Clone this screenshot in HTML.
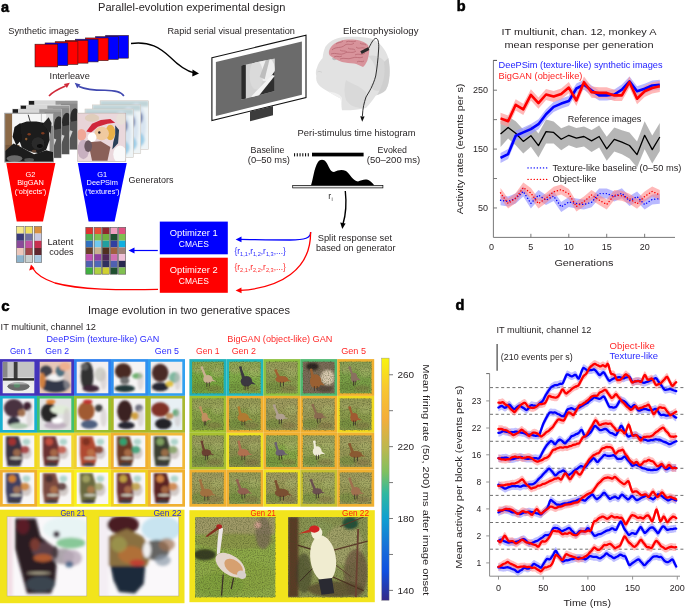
<!DOCTYPE html>
<html><head><meta charset="utf-8"><style>
html,body{margin:0;padding:0;background:#fff;width:685px;height:608px;overflow:hidden}
svg{display:block;will-change:transform;font-family:"Liberation Sans", sans-serif}
</style></head><body>
<svg width="685" height="608" viewBox="0 0 685 608">
<defs><filter id="grain" x="0" y="0" width="100%" height="100%" color-interpolation-filters="sRGB"><feTurbulence type="fractalNoise" baseFrequency="0.85" numOctaves="1" seed="4"/><feColorMatrix type="matrix" values="0 0 0 0 0.25  0 0 0 0 0.28  0 0 0 0 0.12  1.3 0 0 0 -0.55"/></filter><clipPath id="c1"><rect x="28.60" y="100.80" width="49.00" height="49.00"/></clipPath><filter id="b7" x="-50%" y="-50%" width="200%" height="200%"><feGaussianBlur stdDeviation="0.7"/></filter><clipPath id="c2"><rect x="20.40" y="105.30" width="49.00" height="49.00"/></clipPath><clipPath id="c3"><rect x="12.30" y="109.00" width="49.00" height="49.00"/></clipPath><clipPath id="c4"><rect x="4.80" y="113.30" width="48.70" height="48.70"/></clipPath><filter id="b6" x="-50%" y="-50%" width="200%" height="200%"><feGaussianBlur stdDeviation="0.6"/></filter><clipPath id="c5"><rect x="100.10" y="100.80" width="48.40" height="48.50"/></clipPath><filter id="b10" x="-50%" y="-50%" width="200%" height="200%"><feGaussianBlur stdDeviation="1.0"/></filter><clipPath id="c6"><rect x="92.40" y="104.90" width="48.40" height="48.50"/></clipPath><clipPath id="c7"><rect x="85.00" y="109.00" width="48.40" height="48.50"/></clipPath><clipPath id="c8"><rect x="77.60" y="113.10" width="48.20" height="48.50"/></clipPath><clipPath id="c9"><polygon points="241.10,65.40 274.80,58.60 274.80,91.10 241.10,99.70"/></clipPath><clipPath id="c10"><rect x="2.70" y="361.80" width="31.60" height="31.40"/></clipPath><clipPath id="c11"><rect x="192.10" y="361.80" width="31.56" height="31.40"/></clipPath><filter id="b9" x="-50%" y="-50%" width="200%" height="200%"><feGaussianBlur stdDeviation="0.9"/></filter><clipPath id="c12"><rect x="192.10" y="361.80" width="31.56" height="31.40"/></clipPath><filter id="b4" x="-50%" y="-50%" width="200%" height="200%"><feGaussianBlur stdDeviation="0.45"/></filter><clipPath id="c13"><rect x="39.70" y="361.80" width="31.60" height="31.40"/></clipPath><filter id="b8" x="-50%" y="-50%" width="200%" height="200%"><feGaussianBlur stdDeviation="0.8"/></filter><clipPath id="c14"><rect x="229.06" y="361.80" width="31.56" height="31.40"/></clipPath><clipPath id="c15"><rect x="229.06" y="361.80" width="31.56" height="31.40"/></clipPath><clipPath id="c16"><rect x="76.70" y="361.80" width="31.60" height="31.40"/></clipPath><clipPath id="c17"><rect x="266.02" y="361.80" width="31.56" height="31.40"/></clipPath><clipPath id="c18"><rect x="266.02" y="361.80" width="31.56" height="31.40"/></clipPath><clipPath id="c19"><rect x="113.70" y="361.80" width="31.60" height="31.40"/></clipPath><clipPath id="c20"><rect x="302.98" y="361.80" width="31.56" height="31.40"/></clipPath><clipPath id="c21"><rect x="302.98" y="361.80" width="31.56" height="31.40"/></clipPath><clipPath id="c22"><rect x="150.70" y="361.80" width="31.60" height="31.40"/></clipPath><clipPath id="c23"><rect x="339.94" y="361.80" width="31.56" height="31.40"/></clipPath><clipPath id="c24"><rect x="339.94" y="361.80" width="31.56" height="31.40"/></clipPath><clipPath id="c25"><rect x="2.70" y="398.60" width="31.60" height="31.50"/></clipPath><clipPath id="c26"><rect x="192.10" y="398.60" width="31.56" height="31.50"/></clipPath><clipPath id="c27"><rect x="192.10" y="398.60" width="31.56" height="31.50"/></clipPath><clipPath id="c28"><rect x="39.70" y="398.60" width="31.60" height="31.50"/></clipPath><clipPath id="c29"><rect x="229.06" y="398.60" width="31.56" height="31.50"/></clipPath><clipPath id="c30"><rect x="229.06" y="398.60" width="31.56" height="31.50"/></clipPath><clipPath id="c31"><rect x="76.70" y="398.60" width="31.60" height="31.50"/></clipPath><clipPath id="c32"><rect x="266.02" y="398.60" width="31.56" height="31.50"/></clipPath><clipPath id="c33"><rect x="266.02" y="398.60" width="31.56" height="31.50"/></clipPath><clipPath id="c34"><rect x="113.70" y="398.60" width="31.60" height="31.50"/></clipPath><clipPath id="c35"><rect x="302.98" y="398.60" width="31.56" height="31.50"/></clipPath><clipPath id="c36"><rect x="302.98" y="398.60" width="31.56" height="31.50"/></clipPath><clipPath id="c37"><rect x="150.70" y="398.60" width="31.60" height="31.50"/></clipPath><clipPath id="c38"><rect x="339.94" y="398.60" width="31.56" height="31.50"/></clipPath><clipPath id="c39"><rect x="339.94" y="398.60" width="31.56" height="31.50"/></clipPath><clipPath id="c40"><rect x="2.70" y="435.50" width="31.60" height="31.50"/></clipPath><clipPath id="c41"><rect x="192.10" y="435.50" width="31.56" height="31.50"/></clipPath><clipPath id="c42"><rect x="192.10" y="435.50" width="31.56" height="31.50"/></clipPath><clipPath id="c43"><rect x="39.70" y="435.50" width="31.60" height="31.50"/></clipPath><clipPath id="c44"><rect x="229.06" y="435.50" width="31.56" height="31.50"/></clipPath><clipPath id="c45"><rect x="229.06" y="435.50" width="31.56" height="31.50"/></clipPath><clipPath id="c46"><rect x="76.70" y="435.50" width="31.60" height="31.50"/></clipPath><clipPath id="c47"><rect x="266.02" y="435.50" width="31.56" height="31.50"/></clipPath><clipPath id="c48"><rect x="266.02" y="435.50" width="31.56" height="31.50"/></clipPath><clipPath id="c49"><rect x="113.70" y="435.50" width="31.60" height="31.50"/></clipPath><clipPath id="c50"><rect x="302.98" y="435.50" width="31.56" height="31.50"/></clipPath><clipPath id="c51"><rect x="302.98" y="435.50" width="31.56" height="31.50"/></clipPath><clipPath id="c52"><rect x="150.70" y="435.50" width="31.60" height="31.50"/></clipPath><clipPath id="c53"><rect x="339.94" y="435.50" width="31.56" height="31.50"/></clipPath><clipPath id="c54"><rect x="339.94" y="435.50" width="31.56" height="31.50"/></clipPath><clipPath id="c55"><rect x="2.70" y="472.40" width="31.60" height="31.60"/></clipPath><clipPath id="c56"><rect x="192.10" y="472.40" width="31.56" height="31.60"/></clipPath><clipPath id="c57"><rect x="192.10" y="472.40" width="31.56" height="31.60"/></clipPath><clipPath id="c58"><rect x="39.70" y="472.40" width="31.60" height="31.60"/></clipPath><clipPath id="c59"><rect x="229.06" y="472.40" width="31.56" height="31.60"/></clipPath><clipPath id="c60"><rect x="229.06" y="472.40" width="31.56" height="31.60"/></clipPath><clipPath id="c61"><rect x="76.70" y="472.40" width="31.60" height="31.60"/></clipPath><clipPath id="c62"><rect x="266.02" y="472.40" width="31.56" height="31.60"/></clipPath><clipPath id="c63"><rect x="266.02" y="472.40" width="31.56" height="31.60"/></clipPath><clipPath id="c64"><rect x="113.70" y="472.40" width="31.60" height="31.60"/></clipPath><clipPath id="c65"><rect x="302.98" y="472.40" width="31.56" height="31.60"/></clipPath><clipPath id="c66"><rect x="302.98" y="472.40" width="31.56" height="31.60"/></clipPath><clipPath id="c67"><rect x="150.70" y="472.40" width="31.60" height="31.60"/></clipPath><clipPath id="c68"><rect x="339.94" y="472.40" width="31.56" height="31.60"/></clipPath><clipPath id="c69"><rect x="339.94" y="472.40" width="31.56" height="31.60"/></clipPath><clipPath id="c70"><rect x="7.10" y="516.80" width="79.70" height="79.20"/></clipPath><filter id="b14" x="-50%" y="-50%" width="200%" height="200%"><feGaussianBlur stdDeviation="1.4"/></filter><clipPath id="c71"><rect x="99.10" y="516.80" width="79.70" height="79.20"/></clipPath><clipPath id="c72"><rect x="195.10" y="517.00" width="80.20" height="80.20"/></clipPath><filter id="b12" x="-50%" y="-50%" width="200%" height="200%"><feGaussianBlur stdDeviation="1.2"/></filter><clipPath id="c73"><rect x="195.10" y="517.00" width="80.20" height="80.20"/></clipPath><clipPath id="c74"><rect x="288.10" y="517.00" width="79.60" height="80.20"/></clipPath><filter id="b13" x="-50%" y="-50%" width="200%" height="200%"><feGaussianBlur stdDeviation="1.3"/></filter><clipPath id="c75"><rect x="288.10" y="517.00" width="79.60" height="80.20"/></clipPath><linearGradient id="cb" x1="0" y1="0" x2="0" y2="1"><stop offset="0" stop-color="#f8f40c"/><stop offset="0.12" stop-color="#f8c830"/><stop offset="0.25" stop-color="#f4ae3a"/><stop offset="0.38" stop-color="#b8b850"/><stop offset="0.47" stop-color="#80c060"/><stop offset="0.56" stop-color="#30b8a0"/><stop offset="0.66" stop-color="#10a0d0"/><stop offset="0.78" stop-color="#1870d8"/><stop offset="0.88" stop-color="#1050e0"/><stop offset="1" stop-color="#352a87"/></linearGradient></defs>
<text x="1.00" y="12.00" font-size="14.5" fill="#000" font-weight="bold" stroke="#000" stroke-width="0.55">a</text>
<text x="98.00" y="11.20" font-size="10.3" fill="#231f20" textLength="187.40" lengthAdjust="spacingAndGlyphs" >Parallel-evolution experimental design</text>
<text x="8.20" y="34.00" font-size="8.4" fill="#231f20" textLength="70.70" lengthAdjust="spacingAndGlyphs" >Synthetic images</text>
<rect x="105.70" y="35.45" width="22.70" height="22.70" fill="#0000ff" stroke="#3a1a1a" stroke-width="0.6" />
<rect x="95.60" y="36.70" width="22.70" height="22.70" fill="#0000ff" stroke="#3a1a1a" stroke-width="0.6" />
<rect x="85.50" y="37.95" width="22.70" height="22.70" fill="#ff0000" stroke="#3a1a1a" stroke-width="0.6" />
<rect x="75.40" y="39.20" width="22.70" height="22.70" fill="#0000ff" stroke="#3a1a1a" stroke-width="0.6" />
<rect x="65.30" y="40.45" width="22.70" height="22.70" fill="#ff0000" stroke="#3a1a1a" stroke-width="0.6" />
<rect x="55.20" y="41.70" width="22.70" height="22.70" fill="#ff0000" stroke="#3a1a1a" stroke-width="0.6" />
<rect x="45.10" y="42.95" width="22.70" height="22.70" fill="#0000ff" stroke="#3a1a1a" stroke-width="0.6" />
<rect x="35.00" y="44.20" width="22.70" height="22.70" fill="#ff0000" stroke="#3a1a1a" stroke-width="0.6" />
<text x="49.60" y="79.40" font-size="9" fill="#231f20" textLength="40.20" lengthAdjust="spacingAndGlyphs" >Interleave</text>
<path d="M49,96 C52,92.5 56,90 65.5,86" fill="none" stroke="#d02838" stroke-width="1.6"/>
<polygon points="69.80,82.80 66.92,88.11 63.90,84.12" fill="#d02838" stroke="none" stroke-width="0" />
<path d="M123.9,96 C121,91.5 115,90.5 105,90.3 C95,90.2 86,89.6 79,86.4" fill="none" stroke="#4048b0" stroke-width="1.6"/>
<polygon points="74.70,82.80 80.50,84.50 77.23,88.29" fill="#4048b0" stroke="none" stroke-width="0" />
<path d="M131,43.5 C150,41 160,48 170,57 C180,67 186,71 194,72.8" fill="none" stroke="#000" stroke-width="1.3"/>
<polygon points="199.00,73.60 192.50,69.60 192.30,76.40" fill="#000" stroke="none" stroke-width="0" />
<g clip-path="url(#c1)"><rect x="26.60" y="98.80" width="53.00" height="53.00" fill="#f0f0f0"/><g filter="url(#b7)"><rect x="28.60" y="100.80" width="5.88" height="3.92" fill="#1a1a1a" fill-opacity="1"/><rect x="34.48" y="100.80" width="24.50" height="3.92" fill="#d8d8d8" fill-opacity="1"/><rect x="55.55" y="100.80" width="24.50" height="3.92" fill="#9a9a9a" fill-opacity="1"/><rect x="60.94" y="103.74" width="19.60" height="49.00" fill="#8a8a8a" fill-opacity="1"/><ellipse cx="75.15" cy="117.95" rx="4.90" ry="9.80" fill="#2a2a2a" fill-opacity="1"/><polygon points="58.00,149.80 65.35,122.85 77.60,120.40 77.60,149.80" fill="#555555" fill-opacity="1"/><polygon points="62.90,147.35 70.25,130.20 72.70,131.18 65.84,148.33" fill="#d0d0d0" fill-opacity="1"/></g></g>
<rect x="28.60" y="100.80" width="49.00" height="49.00" fill="none" stroke="#c8c8c8" stroke-width="0.4" />
<g clip-path="url(#c2)"><rect x="18.40" y="103.30" width="53.00" height="53.00" fill="#f0f0f0"/><g filter="url(#b7)"><rect x="20.40" y="105.30" width="5.88" height="3.92" fill="#1a1a1a" fill-opacity="1"/><rect x="26.28" y="105.30" width="24.50" height="3.92" fill="#d8d8d8" fill-opacity="1"/><rect x="47.35" y="105.30" width="24.50" height="3.92" fill="#9a9a9a" fill-opacity="1"/><rect x="52.74" y="108.24" width="19.60" height="49.00" fill="#8a8a8a" fill-opacity="1"/><ellipse cx="66.95" cy="122.45" rx="4.90" ry="9.80" fill="#2a2a2a" fill-opacity="1"/><polygon points="49.80,154.30 57.15,127.35 69.40,124.90 69.40,154.30" fill="#555555" fill-opacity="1"/><polygon points="54.70,151.85 62.05,134.70 64.50,135.68 57.64,152.83" fill="#d0d0d0" fill-opacity="1"/></g></g>
<rect x="20.40" y="105.30" width="49.00" height="49.00" fill="none" stroke="#c8c8c8" stroke-width="0.4" />
<g clip-path="url(#c3)"><rect x="10.30" y="107.00" width="53.00" height="53.00" fill="#f0f0f0"/><g filter="url(#b7)"><rect x="12.30" y="109.00" width="5.88" height="3.92" fill="#1a1a1a" fill-opacity="1"/><rect x="18.18" y="109.00" width="24.50" height="3.92" fill="#d8d8d8" fill-opacity="1"/><rect x="39.25" y="109.00" width="24.50" height="3.92" fill="#9a9a9a" fill-opacity="1"/><rect x="44.64" y="111.94" width="19.60" height="49.00" fill="#8a8a8a" fill-opacity="1"/><ellipse cx="58.85" cy="126.15" rx="4.90" ry="9.80" fill="#2a2a2a" fill-opacity="1"/><polygon points="41.70,158.00 49.05,131.05 61.30,128.60 61.30,158.00" fill="#555555" fill-opacity="1"/><polygon points="46.60,155.55 53.95,138.40 56.40,139.38 49.54,156.53" fill="#d0d0d0" fill-opacity="1"/></g></g>
<rect x="12.30" y="109.00" width="49.00" height="49.00" fill="none" stroke="#c8c8c8" stroke-width="0.4" />
<g clip-path="url(#c4)"><rect x="2.80" y="111.30" width="52.70" height="52.70" fill="#f6f6f6"/><g filter="url(#b6)"><rect x="4.80" y="113.30" width="7.30" height="36.53" fill="#8c6a46" fill-opacity="1"/><rect x="4.80" y="144.96" width="14.61" height="9.74" fill="#7a5a3e" fill-opacity="1"/><rect x="49.60" y="125.47" width="3.90" height="31.66" fill="#8a8a8a" fill-opacity="1"/><rect x="46.20" y="113.30" width="7.30" height="12.18" fill="#dcdcdc" fill-opacity="1"/><line x1="28.18" y1="114.76" x2="30.61" y2="123.04" stroke="#3a3a3a" stroke-width="1.0"/><line x1="41.33" y1="113.30" x2="41.33" y2="121.58" stroke="#c0c0c0" stroke-width="1.0"/><polygon points="19.41,124.01 26.72,121.58 36.46,121.58 44.73,123.04 48.63,127.91 49.60,140.09 46.20,149.82 38.89,153.23 29.15,151.29 21.84,147.39 18.44,137.65" fill="#1a1a1a" fill-opacity="1"/><polygon points="20.38,123.04 14.54,126.94 12.59,136.68 16.49,145.44 21.36,140.09" fill="#141414" fill-opacity="1"/><polygon points="42.79,124.01 48.63,117.20 51.55,123.04 50.58,133.75" fill="#222" fill-opacity="1"/><polygon points="4.80,151.29 13.57,143.49 21.84,147.39 34.02,154.21 46.20,150.31 53.50,152.26 53.50,162.00 4.80,162.00" fill="#1e1e1e" fill-opacity="1"/><ellipse cx="14.54" cy="158.59" rx="7.79" ry="3.41" fill="#6a6a6a" fill-opacity="1"/><ellipse cx="29.15" cy="160.05" rx="4.87" ry="1.95" fill="#555" fill-opacity="1"/><ellipse cx="37.92" cy="143.49" rx="6.33" ry="6.33" fill="#2c2c2c" fill-opacity="1"/><ellipse cx="39.86" cy="145.93" rx="2.92" ry="1.95" fill="#0a0a0a" fill-opacity="1"/><ellipse cx="29.15" cy="134.24" rx="1.70" ry="1.22" fill="#7a3a20" fill-opacity="1"/><ellipse cx="42.79" cy="133.27" rx="1.70" ry="1.22" fill="#7a3a20" fill-opacity="1"/><ellipse cx="26.23" cy="139.11" rx="1.22" ry="1.46" fill="#8a5a30" fill-opacity="1"/><ellipse cx="34.02" cy="151.29" rx="2.44" ry="1.46" fill="#5a4030" fill-opacity="1"/></g></g>
<rect x="4.80" y="113.30" width="48.70" height="48.70" fill="none" stroke="#999" stroke-width="1.0" />
<g clip-path="url(#c5)"><rect x="98.10" y="98.80" width="52.40" height="52.50" fill="#eef4f6"/><g filter="url(#b10)"><rect x="100.10" y="100.80" width="48.40" height="5.82" fill="#c0d4d8" fill-opacity="1"/><ellipse cx="136.40" cy="125.05" rx="9.68" ry="21.82" fill="#d8e4f0" fill-opacity="1"/><ellipse cx="139.79" cy="117.77" rx="2.90" ry="5.82" fill="#6a78a8" fill-opacity="1"/><ellipse cx="133.98" cy="139.60" rx="10.65" ry="8.73" fill="#9ccce6" fill-opacity="1"/></g></g>
<rect x="100.10" y="100.80" width="48.40" height="48.50" fill="none" stroke="#c8c0b8" stroke-width="0.5" />
<g clip-path="url(#c6)"><rect x="90.40" y="102.90" width="52.40" height="52.50" fill="#eef4f6"/><g filter="url(#b10)"><rect x="92.40" y="104.90" width="48.40" height="5.82" fill="#c0d4d8" fill-opacity="1"/><ellipse cx="128.70" cy="129.15" rx="9.68" ry="21.82" fill="#d8e4f0" fill-opacity="1"/><ellipse cx="132.09" cy="121.88" rx="2.90" ry="5.82" fill="#6a78a8" fill-opacity="1"/><ellipse cx="126.28" cy="143.70" rx="10.65" ry="8.73" fill="#9ccce6" fill-opacity="1"/></g></g>
<rect x="92.40" y="104.90" width="48.40" height="48.50" fill="none" stroke="#c8c0b8" stroke-width="0.5" />
<g clip-path="url(#c7)"><rect x="83.00" y="107.00" width="52.40" height="52.50" fill="#eef4f6"/><g filter="url(#b10)"><rect x="85.00" y="109.00" width="48.40" height="5.82" fill="#c0d4d8" fill-opacity="1"/><ellipse cx="121.30" cy="133.25" rx="9.68" ry="21.82" fill="#d8e4f0" fill-opacity="1"/><ellipse cx="124.69" cy="125.97" rx="2.90" ry="5.82" fill="#6a78a8" fill-opacity="1"/><ellipse cx="118.88" cy="147.80" rx="10.65" ry="8.73" fill="#9ccce6" fill-opacity="1"/></g></g>
<rect x="85.00" y="109.00" width="48.40" height="48.50" fill="none" stroke="#c8c0b8" stroke-width="0.5" />
<g clip-path="url(#c8)"><rect x="75.60" y="111.10" width="52.20" height="52.50" fill="#ead8dc"/><g filter="url(#b7)"><ellipse cx="84.83" cy="122.80" rx="14.46" ry="12.12" fill="#e8d4d8" fill-opacity="1"/><ellipse cx="81.46" cy="134.92" rx="4.82" ry="5.82" fill="#f0a898" fill-opacity="1"/><ellipse cx="83.38" cy="149.47" rx="5.78" ry="9.70" fill="#c8b0c0" fill-opacity="1"/><ellipse cx="92.06" cy="117.95" rx="7.23" ry="3.88" fill="#d8c8a8" fill-opacity="0.6"/><polygon points="86.28,131.53 92.06,123.77 100.74,119.89 110.38,118.92 115.20,122.80 107.48,123.77 97.84,126.68 91.10,132.50" fill="#d0283a" fill-opacity="1"/><ellipse cx="110.38" cy="132.50" rx="4.82" ry="7.76" fill="#e8b048" fill-opacity="1"/><ellipse cx="101.70" cy="133.47" rx="7.23" ry="6.79" fill="#f0caa0" fill-opacity="1"/><ellipse cx="99.29" cy="132.50" rx="1.21" ry="1.21" fill="#2a2020" fill-opacity="1"/><ellipse cx="92.06" cy="137.35" rx="4.34" ry="4.85" fill="#ffffff" fill-opacity="1"/><polygon points="115.20,125.22 119.05,130.07 118.09,143.17 112.30,149.47 113.27,142.20 115.20,134.92" fill="#2a4058" fill-opacity="1"/><polygon points="88.20,142.20 100.74,141.23 110.38,147.05 107.48,160.63 92.06,160.63" fill="#8a6058" fill-opacity="1"/><ellipse cx="88.20" cy="146.08" rx="3.86" ry="5.82" fill="#6a5860" fill-opacity="1"/><ellipse cx="120.02" cy="154.32" rx="6.75" ry="8.73" fill="#fafafa" fill-opacity="1"/><ellipse cx="120.98" cy="118.92" rx="4.82" ry="5.82" fill="#e8e0d8" fill-opacity="1"/></g></g>
<rect x="77.60" y="113.10" width="48.20" height="48.50" fill="none" stroke="#b0a8a0" stroke-width="0.5" />
<polygon points="6.30,163.00 55.40,163.00 43.00,221.40 16.70,221.40" fill="#ff0000" stroke="none" stroke-width="0" />
<polygon points="77.80,163.00 126.80,163.00 114.60,221.40 88.60,221.40" fill="#0000ff" stroke="none" stroke-width="0" />
<text x="30.50" y="176.60" font-size="7.4" fill="#ffffff" text-anchor="middle" >G2</text>
<text x="30.50" y="185.20" font-size="7.4" fill="#ffffff" text-anchor="middle" >BigGAN</text>
<text x="30.50" y="193.80" font-size="7.4" fill="#ffffff" text-anchor="middle" >(‘objects’)</text>
<text x="102.20" y="176.60" font-size="7.4" fill="#ffffff" text-anchor="middle" >G1</text>
<text x="102.20" y="185.20" font-size="7.4" fill="#ffffff" text-anchor="middle" >DeePSim</text>
<text x="102.20" y="193.80" font-size="7.4" fill="#ffffff" text-anchor="middle" >(‘textures’)</text>
<text x="128.60" y="182.60" font-size="8.8" fill="#231f20" textLength="44.80" lengthAdjust="spacingAndGlyphs" >Generators</text>
<rect x="16.50" y="226.40" width="7.50" height="7.20" fill="#f5e98a" stroke="none" stroke-width="0" />
<rect x="16.50" y="233.60" width="7.50" height="7.20" fill="#3b3b7a" stroke="none" stroke-width="0" />
<rect x="16.50" y="240.80" width="7.50" height="7.20" fill="#8a4a9a" stroke="none" stroke-width="0" />
<rect x="16.50" y="248.00" width="7.50" height="7.20" fill="#ecc8bc" stroke="none" stroke-width="0" />
<rect x="16.50" y="255.20" width="7.50" height="7.20" fill="#8fb4cc" stroke="none" stroke-width="0" />
<rect x="16.50" y="226.40" width="7.50" height="36.00" fill="none" stroke="#6a6a6a" stroke-width="0.6" />
<rect x="25.20" y="226.40" width="7.50" height="7.20" fill="#f0e060" stroke="none" stroke-width="0" />
<rect x="25.20" y="233.60" width="7.50" height="7.20" fill="#7070a0" stroke="none" stroke-width="0" />
<rect x="25.20" y="240.80" width="7.50" height="7.20" fill="#c050a0" stroke="none" stroke-width="0" />
<rect x="25.20" y="248.00" width="7.50" height="7.20" fill="#a04848" stroke="none" stroke-width="0" />
<rect x="25.20" y="255.20" width="7.50" height="7.20" fill="#c8d0d0" stroke="none" stroke-width="0" />
<rect x="25.20" y="226.40" width="7.50" height="36.00" fill="none" stroke="#6a6a6a" stroke-width="0.6" />
<rect x="34.20" y="226.40" width="7.50" height="7.20" fill="#d89040" stroke="none" stroke-width="0" />
<rect x="34.20" y="233.60" width="7.50" height="7.20" fill="#c8c8e0" stroke="none" stroke-width="0" />
<rect x="34.20" y="240.80" width="7.50" height="7.20" fill="#c83050" stroke="none" stroke-width="0" />
<rect x="34.20" y="248.00" width="7.50" height="7.20" fill="#602830" stroke="none" stroke-width="0" />
<rect x="34.20" y="255.20" width="7.50" height="7.20" fill="#a8c8e0" stroke="none" stroke-width="0" />
<rect x="34.20" y="226.40" width="7.50" height="36.00" fill="none" stroke="#6a6a6a" stroke-width="0.6" />
<rect x="85.80" y="227.30" width="7.10" height="6.70" fill="#e03030" stroke="none" stroke-width="0" />
<rect x="85.80" y="234.00" width="7.10" height="6.70" fill="#50b050" stroke="none" stroke-width="0" />
<rect x="85.80" y="240.70" width="7.10" height="6.70" fill="#3070c0" stroke="none" stroke-width="0" />
<rect x="85.80" y="247.40" width="7.10" height="6.70" fill="#6a4028" stroke="none" stroke-width="0" />
<rect x="85.80" y="254.10" width="7.10" height="6.70" fill="#c050b0" stroke="none" stroke-width="0" />
<rect x="85.80" y="260.80" width="7.10" height="6.70" fill="#5060b0" stroke="none" stroke-width="0" />
<rect x="85.80" y="267.50" width="7.10" height="6.70" fill="#40b040" stroke="none" stroke-width="0" />
<rect x="85.80" y="227.30" width="7.10" height="46.90" fill="none" stroke="#5a5a5a" stroke-width="0.6" />
<rect x="94.20" y="227.30" width="7.10" height="6.70" fill="#e85038" stroke="none" stroke-width="0" />
<rect x="94.20" y="234.00" width="7.10" height="6.70" fill="#80c050" stroke="none" stroke-width="0" />
<rect x="94.20" y="240.70" width="7.10" height="6.70" fill="#70c8f0" stroke="none" stroke-width="0" />
<rect x="94.20" y="247.40" width="7.10" height="6.70" fill="#c8b090" stroke="none" stroke-width="0" />
<rect x="94.20" y="254.10" width="7.10" height="6.70" fill="#9040a0" stroke="none" stroke-width="0" />
<rect x="94.20" y="260.80" width="7.10" height="6.70" fill="#5068b8" stroke="none" stroke-width="0" />
<rect x="94.20" y="267.50" width="7.10" height="6.70" fill="#b0d040" stroke="none" stroke-width="0" />
<rect x="94.20" y="227.30" width="7.10" height="46.90" fill="none" stroke="#5a5a5a" stroke-width="0.6" />
<rect x="102.20" y="227.30" width="7.10" height="6.70" fill="#902830" stroke="none" stroke-width="0" />
<rect x="102.20" y="234.00" width="7.10" height="6.70" fill="#70b040" stroke="none" stroke-width="0" />
<rect x="102.20" y="240.70" width="7.10" height="6.70" fill="#20a0a0" stroke="none" stroke-width="0" />
<rect x="102.20" y="247.40" width="7.10" height="6.70" fill="#503020" stroke="none" stroke-width="0" />
<rect x="102.20" y="254.10" width="7.10" height="6.70" fill="#502858" stroke="none" stroke-width="0" />
<rect x="102.20" y="260.80" width="7.10" height="6.70" fill="#303060" stroke="none" stroke-width="0" />
<rect x="102.20" y="267.50" width="7.10" height="6.70" fill="#d0d030" stroke="none" stroke-width="0" />
<rect x="102.20" y="227.30" width="7.10" height="46.90" fill="none" stroke="#5a5a5a" stroke-width="0.6" />
<rect x="110.40" y="227.30" width="7.10" height="6.70" fill="#f0a0c0" stroke="none" stroke-width="0" />
<rect x="110.40" y="234.00" width="7.10" height="6.70" fill="#205030" stroke="none" stroke-width="0" />
<rect x="110.40" y="240.70" width="7.10" height="6.70" fill="#3040a0" stroke="none" stroke-width="0" />
<rect x="110.40" y="247.40" width="7.10" height="6.70" fill="#a06040" stroke="none" stroke-width="0" />
<rect x="110.40" y="254.10" width="7.10" height="6.70" fill="#d070b0" stroke="none" stroke-width="0" />
<rect x="110.40" y="260.80" width="7.10" height="6.70" fill="#5060b0" stroke="none" stroke-width="0" />
<rect x="110.40" y="267.50" width="7.10" height="6.70" fill="#205030" stroke="none" stroke-width="0" />
<rect x="110.40" y="227.30" width="7.10" height="46.90" fill="none" stroke="#5a5a5a" stroke-width="0.6" />
<rect x="118.60" y="227.30" width="7.10" height="6.70" fill="#e05080" stroke="none" stroke-width="0" />
<rect x="118.60" y="234.00" width="7.10" height="6.70" fill="#80c050" stroke="none" stroke-width="0" />
<rect x="118.60" y="240.70" width="7.10" height="6.70" fill="#10b0e0" stroke="none" stroke-width="0" />
<rect x="118.60" y="247.40" width="7.10" height="6.70" fill="#a08078" stroke="none" stroke-width="0" />
<rect x="118.60" y="254.10" width="7.10" height="6.70" fill="#f0c0d8" stroke="none" stroke-width="0" />
<rect x="118.60" y="260.80" width="7.10" height="6.70" fill="#282850" stroke="none" stroke-width="0" />
<rect x="118.60" y="267.50" width="7.10" height="6.70" fill="#80c050" stroke="none" stroke-width="0" />
<rect x="118.60" y="227.30" width="7.10" height="46.90" fill="none" stroke="#5a5a5a" stroke-width="0.6" />
<text x="47.40" y="244.50" font-size="8.8" fill="#231f20" textLength="26.00" lengthAdjust="spacingAndGlyphs" >Latent</text>
<text x="49.20" y="255.00" font-size="8.8" fill="#231f20" textLength="24.50" lengthAdjust="spacingAndGlyphs" >codes</text>
<rect x="159.80" y="221.60" width="68.00" height="32.70" fill="#0000ff" stroke="none" stroke-width="0" />
<rect x="159.80" y="257.70" width="68.00" height="35.10" fill="#ff0000" stroke="none" stroke-width="0" />
<text x="193.80" y="236.30" font-size="9" fill="#ffffff" text-anchor="middle" textLength="48.00" lengthAdjust="spacingAndGlyphs" >Optimizer 1</text>
<text x="193.80" y="246.60" font-size="9" fill="#ffffff" text-anchor="middle" textLength="30.00" lengthAdjust="spacingAndGlyphs" >CMAES</text>
<text x="193.80" y="273.30" font-size="9" fill="#ffffff" text-anchor="middle" textLength="48.00" lengthAdjust="spacingAndGlyphs" >Optimizer 2</text>
<text x="193.80" y="283.60" font-size="9" fill="#ffffff" text-anchor="middle" textLength="30.00" lengthAdjust="spacingAndGlyphs" >CMAES</text>
<line x1="157.8" y1="250.5" x2="133" y2="250.5" stroke="#0000ff" stroke-width="1.2"/>
<polygon points="128.50,250.50 134.50,247.60 134.50,253.40" fill="#0000ff" stroke="none" stroke-width="0" />
<path d="M158,289.4 C120,290 80,290 55,283 C43,279 36,274 32.5,268" fill="none" stroke="#ff0000" stroke-width="1.3"/>
<polygon points="31.00,264.50 29.20,270.60 34.60,268.60" fill="#ff0000" stroke="none" stroke-width="0" />
<text x="167.50" y="34.00" font-size="8.8" fill="#231f20" textLength="127.40" lengthAdjust="spacingAndGlyphs" >Rapid serial visual presentation</text>
<polygon points="211.90,57.80 306.00,35.20 306.00,97.60 211.90,120.50" fill="#ffffff" stroke="#111" stroke-width="1.1" />
<polygon points="215.90,62.00 301.90,41.50 301.90,94.80 215.90,116.00" fill="#6b6b6b" stroke="none" stroke-width="0" />
<polygon points="250.00,111.50 273.00,106.00 273.00,115.20 250.00,121.20" fill="#3c3c3c" stroke="none" stroke-width="0" />
<g clip-path="url(#c9)"><rect x="239.10" y="56.60" width="37.70" height="45.10" fill="#d2d2d2"/><g filter="url(#b6)"><rect x="241.10" y="58.60" width="4.72" height="41.10" fill="#2a2a2a" fill-opacity="1"/><ellipse cx="265.36" cy="68.88" rx="9.44" ry="12.33" fill="#eeeeee" fill-opacity="1"/><ellipse cx="256.26" cy="75.04" rx="6.74" ry="14.38" fill="#dadada" fill-opacity="1"/><polygon points="261.32,90.66 274.80,70.93 274.80,99.70 254.58,99.70" fill="#2e2e2e" fill-opacity="1"/><polygon points="251.21,96.41 272.10,75.04 274.80,75.86 256.26,98.88" fill="#f4f4f4" fill-opacity="1"/><polygon points="259.63,77.09 266.38,58.60 269.75,58.60 264.69,79.15" fill="#bdbdbd" fill-opacity="1"/></g></g>
<text x="343.00" y="34.10" font-size="8.8" fill="#231f20" textLength="75.50" lengthAdjust="spacingAndGlyphs" >Electrophysiology</text>
<path d="M325.4,46.8 C330,40 338,37.5 345,37 C355,36.5 365,37 371,38.6 C380,42 386,50 388.3,58 C390,68 389.5,78 388,86 C385,91 380,94 375.7,95.7 C372,101 369,105 366,108 C358,110 350,110.5 342,110.3 C341.5,106 341,102 340.7,98.5 C336,96 332,94 328,91.5 C324,89 320,87 318.4,84.5 C316.5,82 315.8,79 316.3,76 C315.5,73 315.8,70 317,67.7 C318,64 320,61 322.6,58 C323,54 324,50 325.4,46.8 Z" fill="#e2e2e2"/>
<path d="M368,56 C376,54 384,58 387,66 C389,74 387,84 382,90 C376,92 372,90 370,86 C376,80 378,72 374,64 C372,60 370,58 368,56 Z" fill="#d6d6d6"/>
<path d="M346,80 C352,84 360,86 366,92 C368,98 366,104 362,108 C356,108 350,106 346,100 C344,94 344,86 346,80 Z" fill="#d9d9d9"/>
<path d="M328,91.5 C334,92 340,94 342,98 L342,110.3 C341.5,106 341,102 340.7,98.5 C336,96 332,94 328,91.5 Z" fill="#f0f0f0"/>
<ellipse cx="334.5" cy="58.6" rx="2.2" ry="1.6" fill="#bcbcbc"/>
<path d="M317.5,72 C319,71 321,71.5 322,72.5" fill="none" stroke="#c8c8c8" stroke-width="0.6"/>
<path d="M329,51 C331,45 337,41 345,39.8 C353,38.8 362,40 367,44 C370,47 369.5,52 368.5,56 C368,58.5 367.5,60 367.3,60.7 C366,63 365,65.5 363,67 C360,66 357,64 354,63.5 C350,63 346,63 342,62 C337,60 333,58 329.6,55.2 C328.8,54 328.7,52.5 329,51 Z" fill="#d8939b"/>
<path d="M332,50 C336,46 341,49 345,45 C348,43 351,46 354,43" fill="none" stroke="#b5646f" stroke-width="0.75"/>
<path d="M331,54 C336,52 340,56 345,53 C349,51 352,54 356,51" fill="none" stroke="#b5646f" stroke-width="0.75"/>
<path d="M340,59 C344,57 348,60 352,58 C356,56 359,59 363,57" fill="none" stroke="#b5646f" stroke-width="0.75"/>
<path d="M356,47 C359,50 362,46 366,49" fill="none" stroke="#b5646f" stroke-width="0.75"/>
<path d="M346,42 C349,40 352,43 356,41" fill="none" stroke="#b5646f" stroke-width="0.75"/>
<path d="M355,55 C358,53 361,56 365,53" fill="none" stroke="#b5646f" stroke-width="0.75"/>
<path d="M336,44 C338,42 341,43 343,41" fill="none" stroke="#b5646f" stroke-width="0.75"/>
<path d="M357,62 C359,60 362,63 364,61" fill="none" stroke="#b5646f" stroke-width="0.75"/>
<path d="M334,57 C337,55 339,58 342,56" fill="none" stroke="#b5646f" stroke-width="0.75"/>
<path d="M348,48 C350,50 353,48 355,50" fill="none" stroke="#b5646f" stroke-width="0.75"/>
<path d="M340,50 C342,52 345,50 347,52" fill="none" stroke="#b5646f" stroke-width="0.75"/>
<path d="M360,43 C362,45 364,43 366,45" fill="none" stroke="#b5646f" stroke-width="0.75"/>
<path d="M388.3,58 C391,70 390,82 386,90 C383,93 380,94 377,95 C383,86 386,74 384,62 Z" fill="#cfcfcf"/>
<path d="M361,52.6 L368.7,48.6" stroke="#2a2a2a" stroke-width="3" stroke-linecap="butt"/>
<path d="M368.5,48.5 C371,44 373,39 375.7,38.4 C379,38 379,46 378.5,51 C378,60 377,68 375.7,76 C373,86 369,92 366,97 C364,103 362.8,108 362.4,116" fill="none" stroke="#1a1a1a" stroke-width="0.9"/>
<polygon points="362.20,121.80 360.20,116.20 364.60,116.60" fill="#111" stroke="none" stroke-width="0" />
<text x="297.60" y="135.70" font-size="8.8" fill="#231f20" textLength="117.90" lengthAdjust="spacingAndGlyphs" >Peri-stimulus time histogram</text>
<text x="250.60" y="152.90" font-size="8.8" fill="#231f20" textLength="33.90" lengthAdjust="spacingAndGlyphs" >Baseline</text>
<text x="247.80" y="163.30" font-size="8.8" fill="#231f20" textLength="42.20" lengthAdjust="spacingAndGlyphs" >(0–50 ms)</text>
<text x="377.60" y="152.90" font-size="8.8" fill="#231f20" textLength="29.40" lengthAdjust="spacingAndGlyphs" >Evoked</text>
<text x="366.80" y="163.30" font-size="8.8" fill="#231f20" textLength="53.40" lengthAdjust="spacingAndGlyphs" >(50–200 ms)</text>
<rect x="294.00" y="153.20" width="1.10" height="3.20" fill="#111" stroke="none" stroke-width="0" />
<rect x="296.75" y="153.20" width="1.10" height="3.20" fill="#111" stroke="none" stroke-width="0" />
<rect x="299.50" y="153.20" width="1.10" height="3.20" fill="#111" stroke="none" stroke-width="0" />
<rect x="302.25" y="153.20" width="1.10" height="3.20" fill="#111" stroke="none" stroke-width="0" />
<rect x="305.00" y="153.20" width="1.10" height="3.20" fill="#111" stroke="none" stroke-width="0" />
<rect x="307.75" y="153.20" width="1.10" height="3.20" fill="#111" stroke="none" stroke-width="0" />
<rect x="312.00" y="152.70" width="51.60" height="3.70" fill="#000" stroke="none" stroke-width="0" />
<path d="M293,185.5 L311,185.3 C313,180 314,168 318,162 C320,159 324,159 326,162 C329,166 330,172 334,172 C338,170 342,169 346,171 C350,174 353,181 358,181.5 C362,180 366,178 370,181 C372,183 374,184 374,185.5 Z" fill="#000"/>
<rect x="292.70" y="185.60" width="90.20" height="2.30" fill="#e8e8e8" stroke="#000" stroke-width="0.7" />
<text x="328.20" y="199.20" font-size="8.8" fill="#333" >r</text>
<text x="331.40" y="201.20" font-size="5.5" fill="#333" >i</text>
<path d="M345.3,191 C346.5,202 346,214 343,224" fill="none" stroke="#000" stroke-width="1.4"/>
<polygon points="342.30,229.00 340.20,222.50 345.60,223.60" fill="#000" stroke="none" stroke-width="0" />
<text x="317.70" y="240.60" font-size="8.8" fill="#231f20" textLength="74.30" lengthAdjust="spacingAndGlyphs" >Split response set</text>
<text x="316.00" y="250.90" font-size="8.8" fill="#231f20" textLength="79.50" lengthAdjust="spacingAndGlyphs" >based on generator</text>
<path d="M310.6,232 C311,238 305,240 290,240 C270,240 252,239.5 240,239.4" fill="none" stroke="#0000ff" stroke-width="1.3"/>
<polygon points="235.60,239.40 241.50,236.60 241.50,242.20" fill="#0000ff" stroke="none" stroke-width="0" />
<path d="M310.6,232 C311,270 280,288 240,290.4" fill="none" stroke="#ff0000" stroke-width="1.3"/>
<polygon points="235.60,290.60 241.40,287.60 241.60,293.20" fill="#ff0000" stroke="none" stroke-width="0" />
<text x="234.5" y="254.0" font-size="8.4" fill="#2a2aff">{r<tspan font-size="5.6" dy="1.8">1,1</tspan><tspan dy="-1.8">,r</tspan><tspan font-size="5.6" dy="1.8">1,2</tspan><tspan dy="-1.8">,r</tspan><tspan font-size="5.6" dy="1.8">1,3</tspan><tspan dy="-1.8">,...}</tspan></text>
<text x="234.5" y="269.8" font-size="8.4" fill="#ff2a2a">{r<tspan font-size="5.6" dy="1.8">2,1</tspan><tspan dy="-1.8">,r</tspan><tspan font-size="5.6" dy="1.8">2,2</tspan><tspan dy="-1.8">,r</tspan><tspan font-size="5.6" dy="1.8">2,3</tspan><tspan dy="-1.8">,...}</tspan></text>
<text x="456.70" y="11.20" font-size="14.5" fill="#000" font-weight="bold" stroke="#000" stroke-width="0.55">b</text>
<text x="579.00" y="34.60" font-size="9.4" fill="#231f20" text-anchor="middle" textLength="154.90" lengthAdjust="spacingAndGlyphs" >IT multiunit, chan. 12, monkey A</text>
<text x="579.00" y="47.80" font-size="9.4" fill="#231f20" text-anchor="middle" textLength="149.10" lengthAdjust="spacingAndGlyphs" >mean response per generation</text>
<polygon points="500.53,121.00 508.12,116.50 515.71,121.20 523.29,129.40 530.88,124.70 538.46,133.60 546.04,119.60 553.63,121.40 561.22,128.30 568.80,125.30 576.38,128.10 583.97,126.50 591.55,129.90 599.14,125.50 606.73,136.80 614.31,127.40 621.89,130.20 629.48,132.50 637.07,141.60 644.65,121.30 652.24,135.60 659.82,123.00 659.82,151.00 652.24,163.60 644.65,149.30 637.07,167.60 629.48,158.50 621.89,154.20 614.31,151.40 606.73,160.80 599.14,147.50 591.55,151.90 583.97,146.50 576.38,148.10 568.80,145.30 561.22,150.30 553.63,143.40 546.04,143.60 538.46,157.60 530.88,146.70 523.29,153.40 515.71,145.20 508.12,138.50 500.53,147.00" fill="#a9a9a9" stroke="none" stroke-width="0" fill-opacity="0.85"/>
<polygon points="500.53,152.90 508.12,149.10 515.71,130.70 523.29,127.40 530.88,124.10 538.46,119.20 546.04,109.30 553.63,101.90 561.22,98.60 568.80,96.10 576.38,83.50 583.97,79.70 591.55,85.40 599.14,90.40 606.73,90.40 614.31,89.50 621.89,84.60 629.48,76.40 637.07,86.30 644.65,83.80 652.24,80.50 659.82,79.70 659.82,89.70 652.24,90.50 644.65,93.80 637.07,96.30 629.48,86.40 621.89,94.60 614.31,99.50 606.73,100.40 599.14,100.40 591.55,95.40 583.97,89.70 576.38,93.50 568.80,106.10 561.22,108.60 553.63,111.90 546.04,119.30 538.46,129.20 530.88,134.10 523.29,137.40 515.71,140.70 508.12,159.10 500.53,162.90" fill="#9a9aff" stroke="none" stroke-width="0" fill-opacity="0.7"/>
<polygon points="500.53,112.80 508.12,115.60 515.71,99.20 523.29,103.80 530.88,89.30 538.46,97.50 546.04,88.90 553.63,90.90 561.22,88.40 568.80,82.00 576.38,94.90 583.97,76.60 591.55,86.50 599.14,87.30 606.73,87.30 614.31,89.80 621.89,89.80 629.48,76.60 637.07,93.10 644.65,85.70 652.24,82.40 659.82,80.70 659.82,91.90 652.24,93.60 644.65,96.90 637.07,104.30 629.48,87.80 621.89,101.00 614.31,101.00 606.73,98.50 599.14,98.50 591.55,97.70 583.97,87.80 576.38,106.10 568.80,93.20 561.22,99.60 553.63,102.10 546.04,100.10 538.46,108.70 530.88,100.50 523.29,115.00 515.71,110.40 508.12,126.80 500.53,124.00" fill="#ff9a9a" stroke="none" stroke-width="0" fill-opacity="0.7"/>
<polyline points="500.53,134.00 508.12,127.50 515.71,133.20 523.29,141.40 530.88,135.70 538.46,145.60 546.04,131.60 553.63,132.40 561.22,139.30 568.80,135.30 576.38,138.10 583.97,136.50 591.55,140.90 599.14,136.50 606.73,148.80 614.31,139.40 621.89,142.20 629.48,145.50 637.07,154.60 644.65,135.30 652.24,149.60 659.82,137.00" fill="none" stroke="#000" stroke-width="1.3" stroke-linejoin="round"  stroke-linecap="butt"/>
<polyline points="500.53,157.90 508.12,154.10 515.71,135.70 523.29,132.40 530.88,129.10 538.46,124.20 546.04,114.30 553.63,106.90 561.22,103.60 568.80,101.10 576.38,88.50 583.97,84.70 591.55,90.40 599.14,95.40 606.73,95.40 614.31,94.50 621.89,89.60 629.48,81.40 637.07,91.30 644.65,88.80 652.24,85.50 659.82,84.70" fill="none" stroke="#0000ff" stroke-width="2.6" stroke-linejoin="round"  stroke-linecap="butt"/>
<polyline points="500.53,118.40 508.12,121.20 515.71,104.80 523.29,109.40 530.88,94.90 538.46,103.10 546.04,94.50 553.63,96.50 561.22,94.00 568.80,87.60 576.38,100.50 583.97,82.20 591.55,92.10 599.14,92.90 606.73,92.90 614.31,95.40 621.89,95.40 629.48,82.20 637.07,98.70 644.65,91.30 652.24,88.00 659.82,86.30" fill="none" stroke="#ff0000" stroke-width="2.6" stroke-linejoin="round"  stroke-linecap="butt"/>
<polygon points="500.53,195.30 508.12,196.40 515.71,193.40 523.29,186.50 530.88,198.40 538.46,190.10 546.04,195.10 553.63,191.10 561.22,201.90 568.80,197.00 576.38,198.50 583.97,199.50 591.55,197.30 599.14,188.60 606.73,188.60 614.31,191.50 621.89,188.30 629.48,195.90 637.07,191.50 644.65,199.50 652.24,194.40 659.82,193.70 659.82,203.70 652.24,204.40 644.65,209.50 637.07,201.50 629.48,205.90 621.89,198.30 614.31,201.50 606.73,198.60 599.14,198.60 591.55,207.30 583.97,209.50 576.38,208.50 568.80,207.00 561.22,211.90 553.63,201.10 546.04,205.10 538.46,200.10 530.88,208.40 523.29,196.50 515.71,203.40 508.12,206.40 500.53,205.30" fill="#8080ff" stroke="none" stroke-width="0" fill-opacity="0.55"/>
<polygon points="500.53,187.90 508.12,198.40 515.71,193.10 523.29,182.60 530.88,188.10 538.46,198.60 546.04,193.10 553.63,186.80 561.22,184.60 568.80,188.90 576.38,201.50 583.97,196.60 591.55,190.00 599.14,195.10 606.73,199.50 614.31,190.00 621.89,190.80 629.48,193.70 637.07,198.80 644.65,191.50 652.24,186.40 659.82,190.00 659.82,200.00 652.24,196.40 644.65,201.50 637.07,208.80 629.48,203.70 621.89,200.80 614.31,200.00 606.73,209.50 599.14,205.10 591.55,200.00 583.97,206.60 576.38,211.50 568.80,198.90 561.22,194.60 553.63,196.80 546.04,203.10 538.46,208.60 530.88,198.10 523.29,192.60 515.71,203.10 508.12,208.40 500.53,197.90" fill="#ff8080" stroke="none" stroke-width="0" fill-opacity="0.55"/>
<polyline points="500.53,200.30 508.12,201.40 515.71,198.40 523.29,191.50 530.88,203.40 538.46,195.10 546.04,200.10 553.63,196.10 561.22,206.90 568.80,202.00 576.38,203.50 583.97,204.50 591.55,202.30 599.14,193.60 606.73,193.60 614.31,196.50 621.89,193.30 629.48,200.90 637.07,196.50 644.65,204.50 652.24,199.40 659.82,198.70" fill="none" stroke="#0000ff" stroke-width="1.4" stroke-linejoin="round" stroke-linecap="round" stroke-dasharray="0.1 3.0"/>
<polyline points="500.53,192.90 508.12,203.40 515.71,198.10 523.29,187.60 530.88,193.10 538.46,203.60 546.04,198.10 553.63,191.80 561.22,189.60 568.80,193.90 576.38,206.50 583.97,201.60 591.55,195.00 599.14,200.10 606.73,204.50 614.31,195.00 621.89,195.80 629.48,198.70 637.07,203.80 644.65,196.50 652.24,191.40 659.82,195.00" fill="none" stroke="#ff0000" stroke-width="1.4" stroke-linejoin="round" stroke-linecap="round" stroke-dasharray="0.1 3.0"/>
<path d="M493.4,60.3 L493.4,237.4 L675,237.4" fill="none" stroke="#6a6a6a" stroke-width="0.9"/>
<line x1="493.4" y1="60.4" x2="497" y2="60.4" stroke="#333" stroke-width="0.9"/>
<line x1="493.4" y1="207.96" x2="497" y2="207.96" stroke="#6a6a6a" stroke-width="0.9"/>
<line x1="493.4" y1="178.52" x2="497" y2="178.52" stroke="#6a6a6a" stroke-width="0.9"/>
<line x1="493.4" y1="149.08" x2="497" y2="149.08" stroke="#6a6a6a" stroke-width="0.9"/>
<line x1="493.4" y1="119.64" x2="497" y2="119.64" stroke="#6a6a6a" stroke-width="0.9"/>
<line x1="493.4" y1="90.20" x2="497" y2="90.20" stroke="#6a6a6a" stroke-width="0.9"/>
<text x="488.00" y="211.16" font-size="9" fill="#231f20" text-anchor="end" >50</text>
<text x="488.00" y="152.28" font-size="9" fill="#231f20" text-anchor="end" >150</text>
<text x="488.00" y="93.40" font-size="9" fill="#231f20" text-anchor="end" >250</text>
<line x1="530.88" y1="237.4" x2="530.88" y2="233.8" stroke="#6a6a6a" stroke-width="0.9"/>
<line x1="568.80" y1="237.4" x2="568.80" y2="233.8" stroke="#6a6a6a" stroke-width="0.9"/>
<line x1="606.73" y1="237.4" x2="606.73" y2="233.8" stroke="#6a6a6a" stroke-width="0.9"/>
<line x1="644.65" y1="237.4" x2="644.65" y2="233.8" stroke="#6a6a6a" stroke-width="0.9"/>
<text x="491.45" y="249.80" font-size="9" fill="#231f20" text-anchor="middle" >0</text>
<text x="530.88" y="249.80" font-size="9" fill="#231f20" text-anchor="middle" >5</text>
<text x="568.80" y="249.80" font-size="9" fill="#231f20" text-anchor="middle" >10</text>
<text x="606.73" y="249.80" font-size="9" fill="#231f20" text-anchor="middle" >15</text>
<text x="644.65" y="249.80" font-size="9" fill="#231f20" text-anchor="middle" >20</text>
<text x="554.40" y="265.60" font-size="9.6" fill="#231f20" textLength="59.10" lengthAdjust="spacingAndGlyphs" >Generations</text>
<text x="463.20" y="214.20" font-size="9.6" fill="#231f20" textLength="130.70" lengthAdjust="spacingAndGlyphs" transform="rotate(-90 463.20 214.20)" >Activity rates (events per s)</text>
<text x="498.60" y="68.20" font-size="8.6" fill="#2222ff" textLength="164.00" lengthAdjust="spacingAndGlyphs" >DeePSim (texture-like) synthetic images</text>
<text x="498.60" y="78.80" font-size="8.6" fill="#ff2222" textLength="83.80" lengthAdjust="spacingAndGlyphs" >BigGAN (object-like)</text>
<text x="567.70" y="122.20" font-size="8.8" fill="#231f20" textLength="73.70" lengthAdjust="spacingAndGlyphs" >Reference images</text>
<polyline points="528.00,167.90 547.20,167.90" fill="none" stroke="#0000ff" stroke-width="1.4" stroke-linejoin="round" stroke-linecap="round" stroke-dasharray="0.1 3.0"/>
<polyline points="528.00,179.40 547.20,179.40" fill="none" stroke="#ff0000" stroke-width="1.4" stroke-linejoin="round" stroke-linecap="round" stroke-dasharray="0.1 3.0"/>
<text x="552.40" y="171.00" font-size="8.8" fill="#231f20" textLength="129.00" lengthAdjust="spacingAndGlyphs" >Texture-like baseline (0–50 ms)</text>
<text x="552.40" y="181.80" font-size="8.8" fill="#231f20" textLength="44.00" lengthAdjust="spacingAndGlyphs" >Object-like</text>
<text x="1.20" y="310.50" font-size="15" fill="#000" font-weight="bold" stroke="#000" stroke-width="0.55">c</text>
<text x="88.00" y="313.60" font-size="10.3" fill="#231f20" textLength="202.00" lengthAdjust="spacingAndGlyphs" >Image evolution in two generative spaces</text>
<text x="0.60" y="330.20" font-size="8.8" fill="#231f20" textLength="95.40" lengthAdjust="spacingAndGlyphs" >IT multiunit, channel 12</text>
<text x="46.60" y="342.10" font-size="8.8" fill="#2a2aff" textLength="112.80" lengthAdjust="spacingAndGlyphs" >DeePSim (texture-like) GAN</text>
<text x="10.00" y="353.60" font-size="8.8" fill="#2a2aff" textLength="22.10" lengthAdjust="spacingAndGlyphs" >Gen 1</text>
<text x="45.30" y="353.60" font-size="8.8" fill="#2a2aff" textLength="23.70" lengthAdjust="spacingAndGlyphs" >Gen 2</text>
<text x="154.80" y="353.60" font-size="8.8" fill="#2a2aff" textLength="24.20" lengthAdjust="spacingAndGlyphs" >Gen 5</text>
<text x="227.30" y="342.10" font-size="8.8" fill="#ff2a2a" textLength="105.10" lengthAdjust="spacingAndGlyphs" >BigGAN (object-like) GAN</text>
<text x="196.00" y="353.60" font-size="8.8" fill="#ff2a2a" textLength="23.50" lengthAdjust="spacingAndGlyphs" >Gen 1</text>
<text x="231.70" y="353.60" font-size="8.8" fill="#ff2a2a" textLength="24.30" lengthAdjust="spacingAndGlyphs" >Gen 2</text>
<text x="341.20" y="353.60" font-size="8.8" fill="#ff2a2a" textLength="24.80" lengthAdjust="spacingAndGlyphs" >Gen 5</text>
<rect x="0.00" y="359.10" width="37.00" height="36.80" fill="#4433bb" stroke="none" stroke-width="0" />
<g clip-path="url(#c10)"><rect x="0.70" y="359.80" width="35.60" height="35.40" fill="#eeeeee"/><g filter="url(#b7)"><rect x="2.70" y="361.80" width="31.60" height="15.70" fill="#c4c4c4" fill-opacity="1"/><rect x="2.70" y="361.80" width="4.74" height="15.70" fill="#888" fill-opacity="1"/><rect x="13.76" y="361.80" width="3.79" height="18.21" fill="#3a3a3a" fill-opacity="1"/><rect x="2.70" y="378.13" width="31.60" height="2.51" fill="#2a2a2a" fill-opacity="1"/><ellipse cx="18.50" cy="386.29" rx="11.06" ry="4.40" fill="#6a6a6a" fill-opacity="1"/><ellipse cx="16.92" cy="385.35" rx="3.16" ry="2.51" fill="#5a8a6a" fill-opacity="1"/><rect x="2.70" y="381.27" width="31.60" height="3.14" fill="#e8e8e8" fill-opacity="0.5"/></g></g>
<rect x="189.40" y="359.10" width="36.96" height="36.80" fill="#20b0b8" stroke="none" stroke-width="0" />
<g clip-path="url(#c11)"><rect x="190.10" y="359.80" width="35.56" height="35.40" fill="#78a840"/><g filter="url(#b9)"><rect x="192.10" y="361.80" width="31.56" height="9.42" fill="#a8a068" fill-opacity="0.45"/><ellipse cx="199.99" cy="386.92" rx="9.47" ry="4.71" fill="#6a8a38" fill-opacity="0.5"/><ellipse cx="217.35" cy="372.79" rx="6.31" ry="4.71" fill="#b0b870" fill-opacity="0.5"/><ellipse cx="198.41" cy="371.22" rx="4.73" ry="3.14" fill="#b0b470" fill-opacity="0.4"/><ellipse cx="214.19" cy="388.49" rx="7.89" ry="3.14" fill="#7a6040" fill-opacity="0.4"/></g></g>
<rect x="192.10" y="361.80" width="31.56" height="31.40" fill="#000" filter="url(#grain)"/>
<g clip-path="url(#c12)"><rect x="190.10" y="359.80" width="35.56" height="35.40" fill="none"/><g filter="url(#b4)"><ellipse cx="207.88" cy="379.07" rx="4.73" ry="4.08" fill="#c8b090" fill-opacity="1"/><polygon points="204.57,377.85 200.94,368.39 202.83,367.45 206.93,376.62" fill="#c8b090" fill-opacity="1"/><ellipse cx="201.88" cy="367.45" rx="1.42" ry="1.26" fill="#c8b090" fill-opacity="1"/><polygon points="210.72,378.25 216.40,381.52 210.25,381.11" fill="#c8b090" fill-opacity="1"/><rect x="206.46" y="381.93" width="0.79" height="5.02" fill="#3a3028" fill-opacity="1"/><rect x="208.83" y="381.93" width="0.79" height="4.40" fill="#3a3028" fill-opacity="1"/></g></g>
<rect x="37.00" y="359.10" width="37.00" height="36.80" fill="#4433bb" stroke="none" stroke-width="0" />
<g clip-path="url(#c13)"><rect x="37.70" y="359.80" width="35.60" height="35.40" fill="#e8c8b8"/><g filter="url(#b8)"><ellipse cx="46.02" cy="371.22" rx="6.07" ry="5.78" fill="#404048" fill-opacity="1"/><ellipse cx="55.50" cy="385.35" rx="14.41" ry="7.22" fill="#303848" fill-opacity="1"/><ellipse cx="55.50" cy="377.50" rx="8.34" ry="3.61" fill="#f4f4f4" fill-opacity="1"/><ellipse cx="42.23" cy="380.64" rx="3.03" ry="7.94" fill="#d08040" fill-opacity="1"/><ellipse cx="60.24" cy="371.22" rx="4.55" ry="5.78" fill="#507080" fill-opacity="1"/><ellipse cx="64.98" cy="366.51" rx="5.69" ry="4.33" fill="#f0b090" fill-opacity="1"/><ellipse cx="66.56" cy="380.64" rx="3.16" ry="9.42" fill="#c8c0c0" fill-opacity="0.5"/></g></g>
<rect x="226.36" y="359.10" width="36.96" height="36.80" fill="#20b8c0" stroke="none" stroke-width="0" />
<g clip-path="url(#c14)"><rect x="227.06" y="359.80" width="35.56" height="35.40" fill="#80ac48"/><g filter="url(#b9)"><rect x="229.06" y="361.80" width="31.56" height="9.42" fill="#a8a068" fill-opacity="0.45"/><ellipse cx="236.95" cy="386.92" rx="9.47" ry="4.71" fill="#6a8a38" fill-opacity="0.5"/><ellipse cx="254.31" cy="372.79" rx="6.31" ry="4.71" fill="#b0b870" fill-opacity="0.5"/><ellipse cx="235.37" cy="371.22" rx="4.73" ry="3.14" fill="#b0b470" fill-opacity="0.4"/><ellipse cx="251.15" cy="388.49" rx="7.89" ry="3.14" fill="#7a6040" fill-opacity="0.4"/></g></g>
<rect x="229.06" y="361.80" width="31.56" height="31.40" fill="#000" filter="url(#grain)"/>
<g clip-path="url(#c15)"><rect x="227.06" y="359.80" width="35.56" height="35.40" fill="none"/><g filter="url(#b4)"><ellipse cx="246.42" cy="381.27" rx="5.68" ry="5.34" fill="#3a3840" fill-opacity="1"/><polygon points="242.44,379.67 239.47,368.39 241.37,367.45 245.28,378.07" fill="#3a3840" fill-opacity="1"/><ellipse cx="240.42" cy="367.45" rx="1.42" ry="1.26" fill="#3a3840" fill-opacity="1"/><polygon points="249.83,380.20 255.89,384.47 249.26,383.94" fill="#3a3840" fill-opacity="1"/><rect x="244.71" y="385.00" width="0.79" height="5.02" fill="#3a3028" fill-opacity="1"/><rect x="247.55" y="385.00" width="0.79" height="4.40" fill="#3a3028" fill-opacity="1"/></g></g>
<rect x="74.00" y="359.10" width="37.00" height="36.80" fill="#2f7fef" stroke="none" stroke-width="0" />
<g clip-path="url(#c16)"><rect x="74.70" y="359.80" width="35.60" height="35.40" fill="#f4f0f0"/><g filter="url(#b8)"><ellipse cx="87.13" cy="375.93" rx="6.45" ry="14.44" fill="#303030" fill-opacity="1"/><ellipse cx="90.92" cy="388.49" rx="8.34" ry="3.61" fill="#402838" fill-opacity="1"/><ellipse cx="100.40" cy="374.36" rx="5.69" ry="7.22" fill="#d0d0c8" fill-opacity="1"/><ellipse cx="84.60" cy="366.51" rx="3.79" ry="3.61" fill="#606060" fill-opacity="1"/><ellipse cx="103.56" cy="380.64" rx="3.16" ry="9.42" fill="#c8c0c0" fill-opacity="0.5"/></g></g>
<rect x="263.32" y="359.10" width="36.96" height="36.80" fill="#8cc040" stroke="none" stroke-width="0" />
<g clip-path="url(#c17)"><rect x="264.02" y="359.80" width="35.56" height="35.40" fill="#8a9c50"/><g filter="url(#b9)"><rect x="266.02" y="361.80" width="31.56" height="9.42" fill="#a8a068" fill-opacity="0.45"/><ellipse cx="273.91" cy="386.92" rx="9.47" ry="4.71" fill="#6a8a38" fill-opacity="0.5"/><ellipse cx="291.27" cy="372.79" rx="6.31" ry="4.71" fill="#b0b870" fill-opacity="0.5"/><ellipse cx="272.33" cy="371.22" rx="4.73" ry="3.14" fill="#b0b470" fill-opacity="0.4"/><ellipse cx="288.11" cy="388.49" rx="7.89" ry="3.14" fill="#7a6040" fill-opacity="0.4"/></g></g>
<rect x="266.02" y="361.80" width="31.56" height="31.40" fill="#000" filter="url(#grain)"/>
<g clip-path="url(#c18)"><rect x="264.02" y="359.80" width="35.56" height="35.40" fill="none"/><g filter="url(#b4)"><ellipse cx="281.80" cy="379.38" rx="6.31" ry="3.45" fill="#a06030" fill-opacity="1"/><polygon points="277.38,378.35 274.86,371.53 276.75,370.59 280.54,377.31" fill="#a06030" fill-opacity="1"/><ellipse cx="275.80" cy="370.59" rx="1.42" ry="1.26" fill="#a06030" fill-opacity="1"/><polygon points="285.59,378.69 291.90,381.46 284.96,381.11" fill="#a06030" fill-opacity="1"/><rect x="279.91" y="381.80" width="0.79" height="5.02" fill="#3a3028" fill-opacity="1"/><rect x="283.06" y="381.80" width="0.79" height="4.40" fill="#3a3028" fill-opacity="1"/></g></g>
<rect x="111.00" y="359.10" width="37.00" height="36.80" fill="#3090f0" stroke="none" stroke-width="0" />
<g clip-path="url(#c19)"><rect x="111.70" y="359.80" width="35.60" height="35.40" fill="#f6f4f4"/><g filter="url(#b8)"><ellipse cx="123.18" cy="371.22" rx="8.34" ry="7.94" fill="#4a2a20" fill-opacity="1"/><ellipse cx="124.76" cy="388.49" rx="10.24" ry="3.61" fill="#203838" fill-opacity="1"/><ellipse cx="137.40" cy="375.93" rx="5.31" ry="2.89" fill="#70b070" fill-opacity="1"/><ellipse cx="124.76" cy="380.64" rx="4.55" ry="3.61" fill="#707070" fill-opacity="1"/><ellipse cx="140.56" cy="380.64" rx="3.16" ry="9.42" fill="#c8c0c0" fill-opacity="0.5"/></g></g>
<rect x="300.28" y="359.10" width="36.96" height="36.80" fill="#50b870" stroke="none" stroke-width="0" />
<g clip-path="url(#c20)"><rect x="300.98" y="359.80" width="35.56" height="35.40" fill="#7a6a58"/><g filter="url(#b9)"><ellipse cx="312.45" cy="366.51" rx="6.31" ry="3.77" fill="#2a2020" fill-opacity="1"/><ellipse cx="327.60" cy="377.50" rx="6.94" ry="7.85" fill="#d8c8b0" fill-opacity="1"/><ellipse cx="325.07" cy="388.49" rx="7.89" ry="3.77" fill="#5a4a40" fill-opacity="1"/></g></g>
<rect x="302.98" y="361.80" width="31.56" height="31.40" fill="#000" filter="url(#grain)"/>
<g clip-path="url(#c21)"><rect x="300.98" y="359.80" width="35.56" height="35.40" fill="none"/><g filter="url(#b4)"><ellipse cx="315.60" cy="381.27" rx="5.68" ry="6.91" fill="#9a6030" fill-opacity="1"/><polygon points="311.63,379.20 310.24,370.59 312.13,369.65 314.47,377.12" fill="#9a6030" fill-opacity="1"/><ellipse cx="311.19" cy="369.65" rx="1.42" ry="1.26" fill="#9a6030" fill-opacity="1"/><polygon points="319.01,379.89 325.07,385.41 318.44,384.72" fill="#9a6030" fill-opacity="1"/><rect x="313.90" y="386.10" width="0.79" height="5.02" fill="#3a3028" fill-opacity="1"/><rect x="316.74" y="386.10" width="0.79" height="4.40" fill="#3a3028" fill-opacity="1"/></g></g>
<rect x="148.00" y="359.10" width="37.00" height="36.80" fill="#30a0f0" stroke="none" stroke-width="0" />
<g clip-path="url(#c22)"><rect x="148.70" y="359.80" width="35.60" height="35.40" fill="#f0eeee"/><g filter="url(#b8)"><ellipse cx="160.18" cy="372.79" rx="8.34" ry="9.03" fill="#4a2a28" fill-opacity="1"/><ellipse cx="160.18" cy="386.92" rx="8.34" ry="4.33" fill="#282830" fill-opacity="1"/><ellipse cx="174.40" cy="377.50" rx="5.31" ry="5.42" fill="#80b8a0" fill-opacity="1"/><ellipse cx="169.66" cy="383.78" rx="3.79" ry="2.89" fill="#e0c040" fill-opacity="1"/><ellipse cx="177.56" cy="380.64" rx="3.16" ry="9.42" fill="#c8c0c0" fill-opacity="0.5"/></g></g>
<rect x="337.24" y="359.10" width="36.96" height="36.80" fill="#f0b030" stroke="none" stroke-width="0" />
<g clip-path="url(#c23)"><rect x="337.94" y="359.80" width="35.56" height="35.40" fill="#7aa048"/><g filter="url(#b9)"><rect x="339.94" y="361.80" width="31.56" height="9.42" fill="#a8a068" fill-opacity="0.45"/><ellipse cx="347.83" cy="386.92" rx="9.47" ry="4.71" fill="#6a8a38" fill-opacity="0.5"/><ellipse cx="365.19" cy="372.79" rx="6.31" ry="4.71" fill="#b0b870" fill-opacity="0.5"/><ellipse cx="346.25" cy="371.22" rx="4.73" ry="3.14" fill="#b0b470" fill-opacity="0.4"/><ellipse cx="362.03" cy="388.49" rx="7.89" ry="3.14" fill="#7a6040" fill-opacity="0.4"/></g></g>
<rect x="339.94" y="361.80" width="31.56" height="31.40" fill="#000" filter="url(#grain)"/>
<g clip-path="url(#c24)"><rect x="337.94" y="359.80" width="35.56" height="35.40" fill="none"/><g filter="url(#b4)"><ellipse cx="354.14" cy="377.50" rx="3.16" ry="4.71" fill="#8a7060" fill-opacity="1"/><polygon points="351.93,376.09 348.78,368.39 350.67,367.45 353.51,374.67" fill="#8a7060" fill-opacity="1"/><ellipse cx="349.72" cy="367.45" rx="1.42" ry="1.26" fill="#8a7060" fill-opacity="1"/><polygon points="356.04,376.56 361.09,380.33 355.72,379.85" fill="#8a7060" fill-opacity="1"/><rect x="353.20" y="380.80" width="0.79" height="5.02" fill="#3a3028" fill-opacity="1"/><rect x="354.77" y="380.80" width="0.79" height="4.40" fill="#3a3028" fill-opacity="1"/></g></g>
<rect x="0.00" y="395.90" width="37.00" height="36.90" fill="#1ab0d0" stroke="none" stroke-width="0" />
<g clip-path="url(#c25)"><rect x="0.70" y="396.60" width="35.60" height="35.50" fill="#f4f2f4"/><g filter="url(#b8)"><ellipse cx="13.76" cy="408.05" rx="9.86" ry="9.06" fill="#4a3040" fill-opacity="1"/><ellipse cx="13.76" cy="422.23" rx="6.07" ry="5.43" fill="#303040" fill-opacity="1"/><ellipse cx="18.50" cy="426.00" rx="9.86" ry="2.90" fill="#b0c8b0" fill-opacity="1"/><ellipse cx="27.35" cy="406.47" rx="3.79" ry="4.35" fill="#402030" fill-opacity="1"/><ellipse cx="21.66" cy="412.77" rx="3.79" ry="3.62" fill="#a07050" fill-opacity="1"/><ellipse cx="29.56" cy="417.50" rx="3.16" ry="9.45" fill="#c8c0c0" fill-opacity="0.5"/></g></g>
<rect x="189.40" y="395.90" width="36.96" height="36.90" fill="#a0c030" stroke="none" stroke-width="0" />
<g clip-path="url(#c26)"><rect x="190.10" y="396.60" width="35.56" height="35.50" fill="#86a048"/><g filter="url(#b9)"><rect x="192.10" y="398.60" width="31.56" height="9.45" fill="#a8a068" fill-opacity="0.45"/><ellipse cx="199.99" cy="423.80" rx="9.47" ry="4.73" fill="#6a8a38" fill-opacity="0.5"/><ellipse cx="217.35" cy="409.62" rx="6.31" ry="4.73" fill="#b0b870" fill-opacity="0.5"/><ellipse cx="198.41" cy="408.05" rx="4.73" ry="3.15" fill="#b0b470" fill-opacity="0.4"/><ellipse cx="214.19" cy="425.38" rx="7.89" ry="3.15" fill="#7a6040" fill-opacity="0.4"/></g></g>
<rect x="192.10" y="398.60" width="31.56" height="31.50" fill="#000" filter="url(#grain)"/>
<g clip-path="url(#c27)"><rect x="190.10" y="396.60" width="35.56" height="35.50" fill="none"/><g filter="url(#b4)"><ellipse cx="204.72" cy="417.50" rx="3.16" ry="4.73" fill="#c09060" fill-opacity="1"/><polygon points="202.51,416.08 199.36,408.36 201.25,407.42 204.09,414.66" fill="#c09060" fill-opacity="1"/><ellipse cx="200.31" cy="407.42" rx="1.42" ry="1.26" fill="#c09060" fill-opacity="1"/><polygon points="206.62,416.56 211.67,420.33 206.30,419.86" fill="#c09060" fill-opacity="1"/><rect x="203.78" y="420.81" width="0.79" height="5.04" fill="#3a3028" fill-opacity="1"/><rect x="205.36" y="420.81" width="0.79" height="4.41" fill="#3a3028" fill-opacity="1"/></g></g>
<rect x="37.00" y="395.90" width="37.00" height="36.90" fill="#40c070" stroke="none" stroke-width="0" />
<g clip-path="url(#c28)"><rect x="37.70" y="396.60" width="35.60" height="35.50" fill="#e4e4e4"/><g filter="url(#b8)"><ellipse cx="49.18" cy="412.77" rx="8.34" ry="9.42" fill="#282828" fill-opacity="1"/><ellipse cx="60.24" cy="409.62" rx="9.86" ry="4.35" fill="#e0ecd8" fill-opacity="1"/><ellipse cx="50.76" cy="401.75" rx="4.55" ry="2.17" fill="#e08030" fill-opacity="1"/><ellipse cx="55.50" cy="425.38" rx="11.38" ry="3.62" fill="#c0b0c0" fill-opacity="1"/><ellipse cx="57.08" cy="420.65" rx="5.69" ry="2.90" fill="#ffffff" fill-opacity="1"/><ellipse cx="66.56" cy="417.50" rx="3.16" ry="9.45" fill="#c8c0c0" fill-opacity="0.5"/></g></g>
<rect x="226.36" y="395.90" width="36.96" height="36.90" fill="#f0b030" stroke="none" stroke-width="0" />
<g clip-path="url(#c29)"><rect x="227.06" y="396.60" width="35.56" height="35.50" fill="#8a9a4c"/><g filter="url(#b9)"><rect x="229.06" y="398.60" width="31.56" height="9.45" fill="#a8a068" fill-opacity="0.45"/><ellipse cx="236.95" cy="423.80" rx="9.47" ry="4.73" fill="#6a8a38" fill-opacity="0.5"/><ellipse cx="254.31" cy="409.62" rx="6.31" ry="4.73" fill="#b0b870" fill-opacity="0.5"/><ellipse cx="235.37" cy="408.05" rx="4.73" ry="3.15" fill="#b0b470" fill-opacity="0.4"/><ellipse cx="251.15" cy="425.38" rx="7.89" ry="3.15" fill="#7a6040" fill-opacity="0.4"/></g></g>
<rect x="229.06" y="398.60" width="31.56" height="31.50" fill="#000" filter="url(#grain)"/>
<g clip-path="url(#c30)"><rect x="227.06" y="396.60" width="35.56" height="35.50" fill="none"/><g filter="url(#b4)"><ellipse cx="243.26" cy="417.50" rx="5.68" ry="4.41" fill="#b07a30" fill-opacity="1"/><polygon points="239.29,416.18 237.90,408.36 239.79,407.42 242.13,414.85" fill="#b07a30" fill-opacity="1"/><ellipse cx="238.84" cy="407.42" rx="1.42" ry="1.26" fill="#b07a30" fill-opacity="1"/><polygon points="246.67,416.62 252.73,420.15 246.10,419.70" fill="#b07a30" fill-opacity="1"/><rect x="241.56" y="420.59" width="0.79" height="5.04" fill="#3a3028" fill-opacity="1"/><rect x="244.40" y="420.59" width="0.79" height="4.41" fill="#3a3028" fill-opacity="1"/></g></g>
<rect x="74.00" y="395.90" width="37.00" height="36.90" fill="#9ac030" stroke="none" stroke-width="0" />
<g clip-path="url(#c31)"><rect x="74.70" y="396.60" width="35.60" height="35.50" fill="#f6f4f4"/><g filter="url(#b8)"><ellipse cx="86.18" cy="411.20" rx="8.34" ry="9.42" fill="#a05a30" fill-opacity="1"/><ellipse cx="89.34" cy="424.43" rx="8.34" ry="4.35" fill="#506080" fill-opacity="1"/><ellipse cx="87.76" cy="401.75" rx="4.55" ry="2.17" fill="#c03030" fill-opacity="1"/><ellipse cx="98.82" cy="408.05" rx="3.79" ry="3.62" fill="#404040" fill-opacity="1"/><ellipse cx="103.56" cy="417.50" rx="3.16" ry="9.45" fill="#c8c0c0" fill-opacity="0.5"/></g></g>
<rect x="263.32" y="395.90" width="36.96" height="36.90" fill="#f0b030" stroke="none" stroke-width="0" />
<g clip-path="url(#c32)"><rect x="264.02" y="396.60" width="35.56" height="35.50" fill="#989858"/><g filter="url(#b9)"><rect x="266.02" y="398.60" width="31.56" height="9.45" fill="#a8a068" fill-opacity="0.45"/><ellipse cx="273.91" cy="423.80" rx="9.47" ry="4.73" fill="#6a8a38" fill-opacity="0.5"/><ellipse cx="291.27" cy="409.62" rx="6.31" ry="4.73" fill="#b0b870" fill-opacity="0.5"/><ellipse cx="272.33" cy="408.05" rx="4.73" ry="3.15" fill="#b0b470" fill-opacity="0.4"/><ellipse cx="288.11" cy="425.38" rx="7.89" ry="3.15" fill="#7a6040" fill-opacity="0.4"/></g></g>
<rect x="266.02" y="398.60" width="31.56" height="31.50" fill="#000" filter="url(#grain)"/>
<g clip-path="url(#c33)"><rect x="264.02" y="396.60" width="35.56" height="35.50" fill="none"/><g filter="url(#b4)"><ellipse cx="280.22" cy="416.87" rx="4.73" ry="3.15" fill="#b0a090" fill-opacity="1"/><polygon points="276.91,415.92 273.28,406.47 275.17,405.53 279.28,414.98" fill="#b0a090" fill-opacity="1"/><ellipse cx="274.23" cy="405.53" rx="1.42" ry="1.26" fill="#b0a090" fill-opacity="1"/><polygon points="283.06,416.24 288.74,418.76 282.59,418.44" fill="#b0a090" fill-opacity="1"/><rect x="278.80" y="419.07" width="0.79" height="5.04" fill="#3a3028" fill-opacity="1"/><rect x="281.17" y="419.07" width="0.79" height="4.41" fill="#3a3028" fill-opacity="1"/></g></g>
<rect x="111.00" y="395.90" width="37.00" height="36.90" fill="#a8b828" stroke="none" stroke-width="0" />
<g clip-path="url(#c34)"><rect x="111.70" y="396.60" width="35.60" height="35.50" fill="#f4f2f4"/><g filter="url(#b8)"><ellipse cx="124.76" cy="411.20" rx="7.58" ry="10.87" fill="#3a2020" fill-opacity="1"/><ellipse cx="126.34" cy="425.38" rx="8.34" ry="3.62" fill="#282830" fill-opacity="1"/><ellipse cx="135.19" cy="415.93" rx="3.79" ry="3.62" fill="#d0a040" fill-opacity="1"/><ellipse cx="138.98" cy="408.05" rx="3.79" ry="3.62" fill="#707080" fill-opacity="1"/><ellipse cx="140.56" cy="417.50" rx="3.16" ry="9.45" fill="#c8c0c0" fill-opacity="0.5"/></g></g>
<rect x="300.28" y="395.90" width="36.96" height="36.90" fill="#f0b030" stroke="none" stroke-width="0" />
<g clip-path="url(#c35)"><rect x="300.98" y="396.60" width="35.56" height="35.50" fill="#989858"/><g filter="url(#b9)"><rect x="302.98" y="398.60" width="31.56" height="9.45" fill="#a8a068" fill-opacity="0.45"/><ellipse cx="310.87" cy="423.80" rx="9.47" ry="4.73" fill="#6a8a38" fill-opacity="0.5"/><ellipse cx="328.23" cy="409.62" rx="6.31" ry="4.73" fill="#b0b870" fill-opacity="0.5"/><ellipse cx="309.29" cy="408.05" rx="4.73" ry="3.15" fill="#b0b470" fill-opacity="0.4"/><ellipse cx="325.07" cy="425.38" rx="7.89" ry="3.15" fill="#7a6040" fill-opacity="0.4"/></g></g>
<rect x="302.98" y="398.60" width="31.56" height="31.50" fill="#000" filter="url(#grain)"/>
<g clip-path="url(#c36)"><rect x="300.98" y="396.60" width="35.56" height="35.50" fill="none"/><g filter="url(#b4)"><ellipse cx="318.76" cy="415.93" rx="4.73" ry="3.15" fill="#8a6a50" fill-opacity="1"/><polygon points="315.45,414.98 311.82,405.84 313.71,404.90 317.81,414.03" fill="#8a6a50" fill-opacity="1"/><ellipse cx="312.76" cy="404.90" rx="1.42" ry="1.26" fill="#8a6a50" fill-opacity="1"/><polygon points="321.60,415.29 327.28,417.81 321.13,417.50" fill="#8a6a50" fill-opacity="1"/><rect x="317.34" y="418.13" width="0.79" height="5.04" fill="#3a3028" fill-opacity="1"/><rect x="319.71" y="418.13" width="0.79" height="4.41" fill="#3a3028" fill-opacity="1"/></g></g>
<rect x="148.00" y="395.90" width="37.00" height="36.90" fill="#a8b830" stroke="none" stroke-width="0" />
<g clip-path="url(#c37)"><rect x="148.70" y="396.60" width="35.60" height="35.50" fill="#e8f0f4"/><g filter="url(#b8)"><ellipse cx="160.18" cy="409.62" rx="9.10" ry="7.25" fill="#803028" fill-opacity="1"/><ellipse cx="163.34" cy="423.80" rx="8.34" ry="5.43" fill="#202028" fill-opacity="1"/><ellipse cx="175.98" cy="412.77" rx="3.03" ry="3.62" fill="#40a060" fill-opacity="1"/><ellipse cx="169.66" cy="415.93" rx="3.79" ry="2.90" fill="#c09060" fill-opacity="1"/><ellipse cx="177.56" cy="417.50" rx="3.16" ry="9.45" fill="#c8c0c0" fill-opacity="0.5"/></g></g>
<rect x="337.24" y="395.90" width="36.96" height="36.90" fill="#f0d820" stroke="none" stroke-width="0" />
<g clip-path="url(#c38)"><rect x="337.94" y="396.60" width="35.56" height="35.50" fill="#8a9a4c"/><g filter="url(#b9)"><rect x="339.94" y="398.60" width="31.56" height="9.45" fill="#a8a068" fill-opacity="0.45"/><ellipse cx="347.83" cy="423.80" rx="9.47" ry="4.73" fill="#6a8a38" fill-opacity="0.5"/><ellipse cx="365.19" cy="409.62" rx="6.31" ry="4.73" fill="#b0b870" fill-opacity="0.5"/><ellipse cx="346.25" cy="408.05" rx="4.73" ry="3.15" fill="#b0b470" fill-opacity="0.4"/><ellipse cx="362.03" cy="425.38" rx="7.89" ry="3.15" fill="#7a6040" fill-opacity="0.4"/></g></g>
<rect x="339.94" y="398.60" width="31.56" height="31.50" fill="#000" filter="url(#grain)"/>
<g clip-path="url(#c39)"><rect x="337.94" y="396.60" width="35.56" height="35.50" fill="none"/><g filter="url(#b4)"><ellipse cx="354.14" cy="417.50" rx="3.79" ry="4.41" fill="#a05a30" fill-opacity="1"/><polygon points="351.49,416.18 348.78,408.36 350.67,407.42 353.38,414.85" fill="#a05a30" fill-opacity="1"/><ellipse cx="349.72" cy="407.42" rx="1.42" ry="1.26" fill="#a05a30" fill-opacity="1"/><polygon points="356.41,416.62 361.72,420.15 356.04,419.70" fill="#a05a30" fill-opacity="1"/><rect x="353.01" y="420.59" width="0.79" height="5.04" fill="#3a3028" fill-opacity="1"/><rect x="354.90" y="420.59" width="0.79" height="4.41" fill="#3a3028" fill-opacity="1"/></g></g>
<rect x="0.00" y="432.80" width="37.00" height="36.90" fill="#f0d820" stroke="none" stroke-width="0" />
<g clip-path="url(#c40)"><rect x="0.70" y="433.50" width="35.60" height="35.50" fill="#f8f6f6"/><g filter="url(#b9)"><polygon points="5.86,436.13 18.50,436.13 21.66,446.52 22.61,459.12 20.08,466.37 7.44,466.37 5.86,454.40" fill="#3a3040" fill-opacity="1"/><ellipse cx="26.40" cy="452.82" rx="5.06" ry="6.30" fill="#b8aca8" fill-opacity="0.6"/><ellipse cx="12.18" cy="441.80" rx="3.79" ry="3.78" fill="#a03030" fill-opacity="1"/><ellipse cx="16.92" cy="452.82" rx="3.79" ry="3.78" fill="#c08050" fill-opacity="0.7"/><ellipse cx="24.82" cy="449.68" rx="4.42" ry="3.78" fill="#a03030" fill-opacity="0.8"/><ellipse cx="14.71" cy="464.48" rx="6.32" ry="1.89" fill="#3a3a40" fill-opacity="1"/><ellipse cx="15.97" cy="458.18" rx="6.32" ry="1.26" fill="#d0d0c0" fill-opacity="1"/><ellipse cx="26.40" cy="441.80" rx="3.79" ry="3.15" fill="#80c0b0" fill-opacity="0.6"/></g></g>
<rect x="189.40" y="432.80" width="36.96" height="36.90" fill="#a8c030" stroke="none" stroke-width="0" />
<g clip-path="url(#c41)"><rect x="190.10" y="433.50" width="35.56" height="35.50" fill="#8a9a50"/><g filter="url(#b9)"><rect x="192.10" y="435.50" width="31.56" height="9.45" fill="#a8a068" fill-opacity="0.45"/><ellipse cx="199.99" cy="460.70" rx="9.47" ry="4.72" fill="#6a8a38" fill-opacity="0.5"/><ellipse cx="217.35" cy="446.52" rx="6.31" ry="4.72" fill="#b0b870" fill-opacity="0.5"/><ellipse cx="198.41" cy="444.95" rx="4.73" ry="3.15" fill="#b0b470" fill-opacity="0.4"/><ellipse cx="214.19" cy="462.27" rx="7.89" ry="3.15" fill="#7a6040" fill-opacity="0.4"/></g></g>
<rect x="192.10" y="435.50" width="31.56" height="31.50" fill="#000" filter="url(#grain)"/>
<g clip-path="url(#c42)"><rect x="190.10" y="433.50" width="35.56" height="35.50" fill="none"/><g filter="url(#b4)"><ellipse cx="206.30" cy="452.82" rx="4.73" ry="3.46" fill="#6a4030" fill-opacity="1"/><polygon points="202.99,451.79 200.94,442.75 202.83,441.80 205.36,450.75" fill="#6a4030" fill-opacity="1"/><ellipse cx="201.88" cy="441.80" rx="1.42" ry="1.26" fill="#6a4030" fill-opacity="1"/><polygon points="209.14,452.13 214.82,454.90 208.67,454.56" fill="#6a4030" fill-opacity="1"/><rect x="204.88" y="455.25" width="0.79" height="5.04" fill="#3a3028" fill-opacity="1"/><rect x="207.25" y="455.25" width="0.79" height="4.41" fill="#3a3028" fill-opacity="1"/></g></g>
<rect x="37.00" y="432.80" width="37.00" height="36.90" fill="#f0d830" stroke="none" stroke-width="0" />
<g clip-path="url(#c43)"><rect x="37.70" y="433.50" width="35.60" height="35.50" fill="#f8f6f6"/><g filter="url(#b9)"><polygon points="42.86,436.13 55.50,436.13 58.66,446.52 59.61,459.12 57.08,466.37 44.44,466.37 42.86,454.40" fill="#6a3030" fill-opacity="1"/><ellipse cx="63.40" cy="452.82" rx="5.06" ry="6.30" fill="#b8aca8" fill-opacity="0.6"/><ellipse cx="49.18" cy="441.80" rx="3.79" ry="3.78" fill="#c05040" fill-opacity="1"/><ellipse cx="53.92" cy="452.82" rx="3.79" ry="3.78" fill="#c08050" fill-opacity="0.7"/><ellipse cx="61.82" cy="449.68" rx="4.42" ry="3.78" fill="#c05040" fill-opacity="0.8"/><ellipse cx="51.71" cy="464.48" rx="6.32" ry="1.89" fill="#3a3a40" fill-opacity="1"/><ellipse cx="52.97" cy="458.18" rx="6.32" ry="1.26" fill="#d0d0c0" fill-opacity="1"/><ellipse cx="63.40" cy="441.80" rx="3.79" ry="3.15" fill="#80c0b0" fill-opacity="0.6"/></g></g>
<rect x="226.36" y="432.80" width="36.96" height="36.90" fill="#f0e020" stroke="none" stroke-width="0" />
<g clip-path="url(#c44)"><rect x="227.06" y="433.50" width="35.56" height="35.50" fill="#8a9050"/><g filter="url(#b9)"><rect x="229.06" y="435.50" width="31.56" height="9.45" fill="#a8a068" fill-opacity="0.45"/><ellipse cx="236.95" cy="460.70" rx="9.47" ry="4.72" fill="#6a8a38" fill-opacity="0.5"/><ellipse cx="254.31" cy="446.52" rx="6.31" ry="4.72" fill="#b0b870" fill-opacity="0.5"/><ellipse cx="235.37" cy="444.95" rx="4.73" ry="3.15" fill="#b0b470" fill-opacity="0.4"/><ellipse cx="251.15" cy="462.27" rx="7.89" ry="3.15" fill="#7a6040" fill-opacity="0.4"/></g></g>
<rect x="229.06" y="435.50" width="31.56" height="31.50" fill="#000" filter="url(#grain)"/>
<g clip-path="url(#c45)"><rect x="227.06" y="433.50" width="35.56" height="35.50" fill="none"/><g filter="url(#b4)"><ellipse cx="243.26" cy="452.82" rx="5.68" ry="3.78" fill="#b07050" fill-opacity="1"/><polygon points="239.29,451.69 237.90,442.75 239.79,441.80 242.13,450.56" fill="#b07050" fill-opacity="1"/><ellipse cx="238.84" cy="441.80" rx="1.42" ry="1.26" fill="#b07050" fill-opacity="1"/><polygon points="246.67,452.07 252.73,455.09 246.10,454.71" fill="#b07050" fill-opacity="1"/><rect x="241.56" y="455.47" width="0.79" height="5.04" fill="#3a3028" fill-opacity="1"/><rect x="244.40" y="455.47" width="0.79" height="4.41" fill="#3a3028" fill-opacity="1"/></g></g>
<rect x="74.00" y="432.80" width="37.00" height="36.90" fill="#f0d030" stroke="none" stroke-width="0" />
<g clip-path="url(#c46)"><rect x="74.70" y="433.50" width="35.60" height="35.50" fill="#f8f6f6"/><g filter="url(#b9)"><polygon points="79.86,436.13 92.50,436.13 95.66,446.52 96.61,459.12 94.08,466.37 81.44,466.37 79.86,454.40" fill="#b04a30" fill-opacity="1"/><ellipse cx="100.40" cy="452.82" rx="5.06" ry="6.30" fill="#b8aca8" fill-opacity="0.6"/><ellipse cx="86.18" cy="441.80" rx="3.79" ry="3.78" fill="#803020" fill-opacity="1"/><ellipse cx="90.92" cy="452.82" rx="3.79" ry="3.78" fill="#c08050" fill-opacity="0.7"/><ellipse cx="98.82" cy="449.68" rx="4.42" ry="3.78" fill="#803020" fill-opacity="0.8"/><ellipse cx="88.71" cy="464.48" rx="6.32" ry="1.89" fill="#3a3a40" fill-opacity="1"/><ellipse cx="89.97" cy="458.18" rx="6.32" ry="1.26" fill="#d0d0c0" fill-opacity="1"/><ellipse cx="100.40" cy="441.80" rx="3.79" ry="3.15" fill="#80c0b0" fill-opacity="0.6"/></g></g>
<rect x="263.32" y="432.80" width="36.96" height="36.90" fill="#f0b030" stroke="none" stroke-width="0" />
<g clip-path="url(#c47)"><rect x="264.02" y="433.50" width="35.56" height="35.50" fill="#86a848"/><g filter="url(#b9)"><rect x="266.02" y="435.50" width="31.56" height="9.45" fill="#a8a068" fill-opacity="0.45"/><ellipse cx="273.91" cy="460.70" rx="9.47" ry="4.72" fill="#6a8a38" fill-opacity="0.5"/><ellipse cx="291.27" cy="446.52" rx="6.31" ry="4.72" fill="#b0b870" fill-opacity="0.5"/><ellipse cx="272.33" cy="444.95" rx="4.73" ry="3.15" fill="#b0b470" fill-opacity="0.4"/><ellipse cx="288.11" cy="462.27" rx="7.89" ry="3.15" fill="#7a6040" fill-opacity="0.4"/></g></g>
<rect x="266.02" y="435.50" width="31.56" height="31.50" fill="#000" filter="url(#grain)"/>
<g clip-path="url(#c48)"><rect x="264.02" y="433.50" width="35.56" height="35.50" fill="none"/><g filter="url(#b4)"><ellipse cx="280.22" cy="452.82" rx="4.73" ry="3.15" fill="#6a6070" fill-opacity="1"/><polygon points="276.91,451.88 274.86,444.32 276.75,443.38 279.28,450.94" fill="#6a6070" fill-opacity="1"/><ellipse cx="275.80" cy="443.38" rx="1.42" ry="1.26" fill="#6a6070" fill-opacity="1"/><polygon points="283.06,452.19 288.74,454.71 282.59,454.40" fill="#6a6070" fill-opacity="1"/><rect x="278.80" y="455.03" width="0.79" height="5.04" fill="#3a3028" fill-opacity="1"/><rect x="281.17" y="455.03" width="0.79" height="4.41" fill="#3a3028" fill-opacity="1"/></g></g>
<rect x="111.00" y="432.80" width="37.00" height="36.90" fill="#f0b030" stroke="none" stroke-width="0" />
<g clip-path="url(#c49)"><rect x="111.70" y="433.50" width="35.60" height="35.50" fill="#f8f6f6"/><g filter="url(#b9)"><polygon points="116.86,436.13 129.50,436.13 132.66,446.52 133.61,459.12 131.08,466.37 118.44,466.37 116.86,454.40" fill="#6a3a28" fill-opacity="1"/><ellipse cx="137.40" cy="452.82" rx="5.06" ry="6.30" fill="#b8aca8" fill-opacity="0.6"/><ellipse cx="123.18" cy="441.80" rx="3.79" ry="3.78" fill="#30a070" fill-opacity="1"/><ellipse cx="127.92" cy="452.82" rx="3.79" ry="3.78" fill="#c08050" fill-opacity="0.7"/><ellipse cx="135.82" cy="449.68" rx="4.42" ry="3.78" fill="#30a070" fill-opacity="0.8"/><ellipse cx="125.71" cy="464.48" rx="6.32" ry="1.89" fill="#3a3a40" fill-opacity="1"/><ellipse cx="126.97" cy="458.18" rx="6.32" ry="1.26" fill="#d0d0c0" fill-opacity="1"/><ellipse cx="137.40" cy="441.80" rx="3.79" ry="3.15" fill="#80c0b0" fill-opacity="0.6"/></g></g>
<rect x="300.28" y="432.80" width="36.96" height="36.90" fill="#f0b030" stroke="none" stroke-width="0" />
<g clip-path="url(#c50)"><rect x="300.98" y="433.50" width="35.56" height="35.50" fill="#96a458"/><g filter="url(#b9)"><rect x="302.98" y="435.50" width="31.56" height="9.45" fill="#a8a068" fill-opacity="0.45"/><ellipse cx="310.87" cy="460.70" rx="9.47" ry="4.72" fill="#6a8a38" fill-opacity="0.5"/><ellipse cx="328.23" cy="446.52" rx="6.31" ry="4.72" fill="#b0b870" fill-opacity="0.5"/><ellipse cx="309.29" cy="444.95" rx="4.73" ry="3.15" fill="#b0b470" fill-opacity="0.4"/><ellipse cx="325.07" cy="462.27" rx="7.89" ry="3.15" fill="#7a6040" fill-opacity="0.4"/></g></g>
<rect x="302.98" y="435.50" width="31.56" height="31.50" fill="#000" filter="url(#grain)"/>
<g clip-path="url(#c51)"><rect x="300.98" y="433.50" width="35.56" height="35.50" fill="none"/><g filter="url(#b4)"><ellipse cx="317.18" cy="451.25" rx="4.42" ry="5.04" fill="#f0ecd8" fill-opacity="1"/><polygon points="314.09,449.74 313.39,442.75 315.29,441.80 316.30,448.23" fill="#f0ecd8" fill-opacity="1"/><ellipse cx="314.34" cy="441.80" rx="1.42" ry="1.26" fill="#f0ecd8" fill-opacity="1"/><polygon points="319.83,450.24 325.39,454.27 319.39,453.77" fill="#f0ecd8" fill-opacity="1"/><rect x="315.86" y="454.78" width="0.79" height="5.04" fill="#3a3028" fill-opacity="1"/><rect x="318.07" y="454.78" width="0.79" height="4.41" fill="#3a3028" fill-opacity="1"/></g></g>
<rect x="148.00" y="432.80" width="37.00" height="36.90" fill="#f0b838" stroke="none" stroke-width="0" />
<g clip-path="url(#c52)"><rect x="148.70" y="433.50" width="35.60" height="35.50" fill="#f8f6f6"/><g filter="url(#b9)"><polygon points="153.86,436.13 166.50,436.13 169.66,446.52 170.61,459.12 168.08,466.37 155.44,466.37 153.86,454.40" fill="#3a4030" fill-opacity="1"/><ellipse cx="174.40" cy="452.82" rx="5.06" ry="6.30" fill="#b8aca8" fill-opacity="0.6"/><ellipse cx="160.18" cy="441.80" rx="3.79" ry="3.78" fill="#80a060" fill-opacity="1"/><ellipse cx="164.92" cy="452.82" rx="3.79" ry="3.78" fill="#c08050" fill-opacity="0.7"/><ellipse cx="172.82" cy="449.68" rx="4.42" ry="3.78" fill="#80a060" fill-opacity="0.8"/><ellipse cx="162.71" cy="464.48" rx="6.32" ry="1.89" fill="#3a3a40" fill-opacity="1"/><ellipse cx="163.97" cy="458.18" rx="6.32" ry="1.26" fill="#d0d0c0" fill-opacity="1"/><ellipse cx="174.40" cy="441.80" rx="3.79" ry="3.15" fill="#80c0b0" fill-opacity="0.6"/></g></g>
<rect x="337.24" y="432.80" width="36.96" height="36.90" fill="#f0b030" stroke="none" stroke-width="0" />
<g clip-path="url(#c53)"><rect x="337.94" y="433.50" width="35.56" height="35.50" fill="#989858"/><g filter="url(#b9)"><rect x="339.94" y="435.50" width="31.56" height="9.45" fill="#a8a068" fill-opacity="0.45"/><ellipse cx="347.83" cy="460.70" rx="9.47" ry="4.72" fill="#6a8a38" fill-opacity="0.5"/><ellipse cx="365.19" cy="446.52" rx="6.31" ry="4.72" fill="#b0b870" fill-opacity="0.5"/><ellipse cx="346.25" cy="444.95" rx="4.73" ry="3.15" fill="#b0b470" fill-opacity="0.4"/><ellipse cx="362.03" cy="462.27" rx="7.89" ry="3.15" fill="#7a6040" fill-opacity="0.4"/></g></g>
<rect x="339.94" y="435.50" width="31.56" height="31.50" fill="#000" filter="url(#grain)"/>
<g clip-path="url(#c54)"><rect x="337.94" y="433.50" width="35.56" height="35.50" fill="none"/><g filter="url(#b4)"><ellipse cx="355.72" cy="454.40" rx="6.31" ry="3.46" fill="#8a5a30" fill-opacity="1"/><polygon points="351.30,453.36 348.78,445.26 350.67,444.32 354.46,452.32" fill="#8a5a30" fill-opacity="1"/><ellipse cx="349.72" cy="444.32" rx="1.42" ry="1.26" fill="#8a5a30" fill-opacity="1"/><polygon points="359.51,453.71 365.82,456.48 358.88,456.13" fill="#8a5a30" fill-opacity="1"/><rect x="353.83" y="456.83" width="0.79" height="5.04" fill="#3a3028" fill-opacity="1"/><rect x="356.98" y="456.83" width="0.79" height="4.41" fill="#3a3028" fill-opacity="1"/></g></g>
<rect x="0.00" y="469.70" width="37.00" height="37.00" fill="#f0b030" stroke="none" stroke-width="0" />
<g clip-path="url(#c55)"><rect x="0.70" y="470.40" width="35.60" height="35.60" fill="#f8f6f6"/><g filter="url(#b9)"><polygon points="5.86,473.03 18.50,473.03 21.66,483.46 22.61,496.10 20.08,503.37 7.44,503.37 5.86,491.36" fill="#404060" fill-opacity="1"/><ellipse cx="26.40" cy="489.78" rx="5.06" ry="6.32" fill="#b8aca8" fill-opacity="0.6"/><ellipse cx="12.18" cy="478.72" rx="3.79" ry="3.79" fill="#d08030" fill-opacity="1"/><ellipse cx="16.92" cy="489.78" rx="3.79" ry="3.79" fill="#c08050" fill-opacity="0.7"/><ellipse cx="24.82" cy="486.62" rx="4.42" ry="3.79" fill="#d08030" fill-opacity="0.8"/><ellipse cx="14.71" cy="501.47" rx="6.32" ry="1.90" fill="#3a3a40" fill-opacity="1"/><ellipse cx="15.97" cy="495.15" rx="6.32" ry="1.26" fill="#d0d0c0" fill-opacity="1"/><ellipse cx="26.40" cy="478.72" rx="3.79" ry="3.16" fill="#80c0b0" fill-opacity="0.6"/></g></g>
<rect x="189.40" y="469.70" width="36.96" height="37.00" fill="#f0b030" stroke="none" stroke-width="0" />
<g clip-path="url(#c56)"><rect x="190.10" y="470.40" width="35.56" height="35.60" fill="#989858"/><g filter="url(#b9)"><rect x="192.10" y="472.40" width="31.56" height="9.48" fill="#a8a068" fill-opacity="0.45"/><ellipse cx="199.99" cy="497.68" rx="9.47" ry="4.74" fill="#6a8a38" fill-opacity="0.5"/><ellipse cx="217.35" cy="483.46" rx="6.31" ry="4.74" fill="#b0b870" fill-opacity="0.5"/><ellipse cx="198.41" cy="481.88" rx="4.73" ry="3.16" fill="#b0b470" fill-opacity="0.4"/><ellipse cx="214.19" cy="499.26" rx="7.89" ry="3.16" fill="#7a6040" fill-opacity="0.4"/></g></g>
<rect x="192.10" y="472.40" width="31.56" height="31.60" fill="#000" filter="url(#grain)"/>
<g clip-path="url(#c57)"><rect x="190.10" y="470.40" width="35.56" height="35.60" fill="none"/><g filter="url(#b4)"><ellipse cx="206.30" cy="492.94" rx="6.31" ry="4.11" fill="#a07040" fill-opacity="1"/><polygon points="201.88,491.71 199.36,481.25 201.25,480.30 205.04,490.48" fill="#a07040" fill-opacity="1"/><ellipse cx="200.31" cy="480.30" rx="1.42" ry="1.26" fill="#a07040" fill-opacity="1"/><polygon points="210.09,492.12 216.40,495.40 209.46,494.99" fill="#a07040" fill-opacity="1"/><rect x="204.41" y="495.82" width="0.79" height="5.06" fill="#3a3028" fill-opacity="1"/><rect x="207.56" y="495.82" width="0.79" height="4.42" fill="#3a3028" fill-opacity="1"/></g></g>
<rect x="37.00" y="469.70" width="37.00" height="37.00" fill="#f8e020" stroke="none" stroke-width="0" />
<g clip-path="url(#c58)"><rect x="37.70" y="470.40" width="35.60" height="35.60" fill="#f8f6f6"/><g filter="url(#b9)"><polygon points="42.86,473.03 55.50,473.03 58.66,483.46 59.61,496.10 57.08,503.37 44.44,503.37 42.86,491.36" fill="#7a4a40" fill-opacity="1"/><ellipse cx="63.40" cy="489.78" rx="5.06" ry="6.32" fill="#b8aca8" fill-opacity="0.6"/><ellipse cx="49.18" cy="478.72" rx="3.79" ry="3.79" fill="#503030" fill-opacity="1"/><ellipse cx="53.92" cy="489.78" rx="3.79" ry="3.79" fill="#c08050" fill-opacity="0.7"/><ellipse cx="61.82" cy="486.62" rx="4.42" ry="3.79" fill="#503030" fill-opacity="0.8"/><ellipse cx="51.71" cy="501.47" rx="6.32" ry="1.90" fill="#3a3a40" fill-opacity="1"/><ellipse cx="52.97" cy="495.15" rx="6.32" ry="1.26" fill="#d0d0c0" fill-opacity="1"/><ellipse cx="63.40" cy="478.72" rx="3.79" ry="3.16" fill="#80c0b0" fill-opacity="0.6"/></g></g>
<rect x="226.36" y="469.70" width="36.96" height="37.00" fill="#f0b030" stroke="none" stroke-width="0" />
<g clip-path="url(#c59)"><rect x="227.06" y="470.40" width="35.56" height="35.60" fill="#8a9a50"/><g filter="url(#b9)"><rect x="229.06" y="472.40" width="31.56" height="9.48" fill="#a8a068" fill-opacity="0.45"/><ellipse cx="236.95" cy="497.68" rx="9.47" ry="4.74" fill="#6a8a38" fill-opacity="0.5"/><ellipse cx="254.31" cy="483.46" rx="6.31" ry="4.74" fill="#b0b870" fill-opacity="0.5"/><ellipse cx="235.37" cy="481.88" rx="4.73" ry="3.16" fill="#b0b470" fill-opacity="0.4"/><ellipse cx="251.15" cy="499.26" rx="7.89" ry="3.16" fill="#7a6040" fill-opacity="0.4"/></g></g>
<rect x="229.06" y="472.40" width="31.56" height="31.60" fill="#000" filter="url(#grain)"/>
<g clip-path="url(#c60)"><rect x="227.06" y="470.40" width="35.56" height="35.60" fill="none"/><g filter="url(#b4)"><ellipse cx="243.26" cy="491.36" rx="5.68" ry="3.48" fill="#906050" fill-opacity="1"/><polygon points="239.29,490.32 236.32,481.25 238.21,480.30 242.13,489.27" fill="#906050" fill-opacity="1"/><ellipse cx="237.27" cy="480.30" rx="1.42" ry="1.26" fill="#906050" fill-opacity="1"/><polygon points="246.67,490.66 252.73,493.45 246.10,493.10" fill="#906050" fill-opacity="1"/><rect x="241.56" y="493.79" width="0.79" height="5.06" fill="#3a3028" fill-opacity="1"/><rect x="244.40" y="493.79" width="0.79" height="4.42" fill="#3a3028" fill-opacity="1"/></g></g>
<rect x="74.00" y="469.70" width="37.00" height="37.00" fill="#f8f020" stroke="none" stroke-width="0" />
<g clip-path="url(#c61)"><rect x="74.70" y="470.40" width="35.60" height="35.60" fill="#f8f6f6"/><g filter="url(#b9)"><polygon points="79.86,473.03 92.50,473.03 95.66,483.46 96.61,496.10 94.08,503.37 81.44,503.37 79.86,491.36" fill="#6a6a40" fill-opacity="1"/><ellipse cx="100.40" cy="489.78" rx="5.06" ry="6.32" fill="#b8aca8" fill-opacity="0.6"/><ellipse cx="86.18" cy="478.72" rx="3.79" ry="3.79" fill="#a0a060" fill-opacity="1"/><ellipse cx="90.92" cy="489.78" rx="3.79" ry="3.79" fill="#c08050" fill-opacity="0.7"/><ellipse cx="98.82" cy="486.62" rx="4.42" ry="3.79" fill="#a0a060" fill-opacity="0.8"/><ellipse cx="88.71" cy="501.47" rx="6.32" ry="1.90" fill="#3a3a40" fill-opacity="1"/><ellipse cx="89.97" cy="495.15" rx="6.32" ry="1.26" fill="#d0d0c0" fill-opacity="1"/><ellipse cx="100.40" cy="478.72" rx="3.79" ry="3.16" fill="#80c0b0" fill-opacity="0.6"/></g></g>
<rect x="263.32" y="469.70" width="36.96" height="37.00" fill="#f0e020" stroke="none" stroke-width="0" />
<g clip-path="url(#c62)"><rect x="264.02" y="470.40" width="35.56" height="35.60" fill="#989858"/><g filter="url(#b9)"><rect x="266.02" y="472.40" width="31.56" height="9.48" fill="#a8a068" fill-opacity="0.45"/><ellipse cx="273.91" cy="497.68" rx="9.47" ry="4.74" fill="#6a8a38" fill-opacity="0.5"/><ellipse cx="291.27" cy="483.46" rx="6.31" ry="4.74" fill="#b0b870" fill-opacity="0.5"/><ellipse cx="272.33" cy="481.88" rx="4.73" ry="3.16" fill="#b0b470" fill-opacity="0.4"/><ellipse cx="288.11" cy="499.26" rx="7.89" ry="3.16" fill="#7a6040" fill-opacity="0.4"/></g></g>
<rect x="266.02" y="472.40" width="31.56" height="31.60" fill="#000" filter="url(#grain)"/>
<g clip-path="url(#c63)"><rect x="264.02" y="470.40" width="35.56" height="35.60" fill="none"/><g filter="url(#b4)"><ellipse cx="281.80" cy="492.94" rx="6.94" ry="4.11" fill="#7a5030" fill-opacity="1"/><polygon points="276.94,491.71 274.86,482.20 276.75,481.25 280.41,490.48" fill="#7a5030" fill-opacity="1"/><ellipse cx="275.80" cy="481.25" rx="1.42" ry="1.26" fill="#7a5030" fill-opacity="1"/><polygon points="285.97,492.12 292.53,495.40 285.27,494.99" fill="#7a5030" fill-opacity="1"/><rect x="279.72" y="495.82" width="0.79" height="5.06" fill="#3a3028" fill-opacity="1"/><rect x="283.19" y="495.82" width="0.79" height="4.42" fill="#3a3028" fill-opacity="1"/></g></g>
<rect x="111.00" y="469.70" width="37.00" height="37.00" fill="#f0d020" stroke="none" stroke-width="0" />
<g clip-path="url(#c64)"><rect x="111.70" y="470.40" width="35.60" height="35.60" fill="#f8f6f6"/><g filter="url(#b9)"><polygon points="116.86,473.03 129.50,473.03 132.66,483.46 133.61,496.10 131.08,503.37 118.44,503.37 116.86,491.36" fill="#6a3030" fill-opacity="1"/><ellipse cx="137.40" cy="489.78" rx="5.06" ry="6.32" fill="#b8aca8" fill-opacity="0.6"/><ellipse cx="123.18" cy="478.72" rx="3.79" ry="3.79" fill="#c0a040" fill-opacity="1"/><ellipse cx="127.92" cy="489.78" rx="3.79" ry="3.79" fill="#c08050" fill-opacity="0.7"/><ellipse cx="135.82" cy="486.62" rx="4.42" ry="3.79" fill="#c0a040" fill-opacity="0.8"/><ellipse cx="125.71" cy="501.47" rx="6.32" ry="1.90" fill="#3a3a40" fill-opacity="1"/><ellipse cx="126.97" cy="495.15" rx="6.32" ry="1.26" fill="#d0d0c0" fill-opacity="1"/><ellipse cx="137.40" cy="478.72" rx="3.79" ry="3.16" fill="#80c0b0" fill-opacity="0.6"/></g></g>
<rect x="300.28" y="469.70" width="36.96" height="37.00" fill="#c8c030" stroke="none" stroke-width="0" />
<g clip-path="url(#c65)"><rect x="300.98" y="470.40" width="35.56" height="35.60" fill="#98a058"/><g filter="url(#b9)"><rect x="302.98" y="472.40" width="31.56" height="9.48" fill="#a8a068" fill-opacity="0.45"/><ellipse cx="310.87" cy="497.68" rx="9.47" ry="4.74" fill="#6a8a38" fill-opacity="0.5"/><ellipse cx="328.23" cy="483.46" rx="6.31" ry="4.74" fill="#b0b870" fill-opacity="0.5"/><ellipse cx="309.29" cy="481.88" rx="4.73" ry="3.16" fill="#b0b470" fill-opacity="0.4"/><ellipse cx="325.07" cy="499.26" rx="7.89" ry="3.16" fill="#7a6040" fill-opacity="0.4"/></g></g>
<rect x="302.98" y="472.40" width="31.56" height="31.60" fill="#000" filter="url(#grain)"/>
<g clip-path="url(#c66)"><rect x="300.98" y="470.40" width="35.56" height="35.60" fill="none"/><g filter="url(#b4)"><ellipse cx="317.18" cy="491.36" rx="4.73" ry="3.16" fill="#6a5050" fill-opacity="1"/><polygon points="313.87,490.41 310.24,481.25 312.13,480.30 316.24,489.46" fill="#6a5050" fill-opacity="1"/><ellipse cx="311.19" cy="480.30" rx="1.42" ry="1.26" fill="#6a5050" fill-opacity="1"/><polygon points="320.02,490.73 325.70,493.26 319.55,492.94" fill="#6a5050" fill-opacity="1"/><rect x="315.76" y="493.57" width="0.79" height="5.06" fill="#3a3028" fill-opacity="1"/><rect x="318.13" y="493.57" width="0.79" height="4.42" fill="#3a3028" fill-opacity="1"/></g></g>
<rect x="148.00" y="469.70" width="37.00" height="37.00" fill="#f0b030" stroke="none" stroke-width="0" />
<g clip-path="url(#c67)"><rect x="148.70" y="470.40" width="35.60" height="35.60" fill="#f8f6f6"/><g filter="url(#b9)"><polygon points="153.86,473.03 166.50,473.03 169.66,483.46 170.61,496.10 168.08,503.37 155.44,503.37 153.86,491.36" fill="#5a2020" fill-opacity="1"/><ellipse cx="174.40" cy="489.78" rx="5.06" ry="6.32" fill="#b8aca8" fill-opacity="0.6"/><ellipse cx="160.18" cy="478.72" rx="3.79" ry="3.79" fill="#d08040" fill-opacity="1"/><ellipse cx="164.92" cy="489.78" rx="3.79" ry="3.79" fill="#c08050" fill-opacity="0.7"/><ellipse cx="172.82" cy="486.62" rx="4.42" ry="3.79" fill="#d08040" fill-opacity="0.8"/><ellipse cx="162.71" cy="501.47" rx="6.32" ry="1.90" fill="#3a3a40" fill-opacity="1"/><ellipse cx="163.97" cy="495.15" rx="6.32" ry="1.26" fill="#d0d0c0" fill-opacity="1"/><ellipse cx="174.40" cy="478.72" rx="3.79" ry="3.16" fill="#80c0b0" fill-opacity="0.6"/></g></g>
<rect x="337.24" y="469.70" width="36.96" height="37.00" fill="#f0b030" stroke="none" stroke-width="0" />
<g clip-path="url(#c68)"><rect x="337.94" y="470.40" width="35.56" height="35.60" fill="#989858"/><g filter="url(#b9)"><rect x="339.94" y="472.40" width="31.56" height="9.48" fill="#a8a068" fill-opacity="0.45"/><ellipse cx="347.83" cy="497.68" rx="9.47" ry="4.74" fill="#6a8a38" fill-opacity="0.5"/><ellipse cx="365.19" cy="483.46" rx="6.31" ry="4.74" fill="#b0b870" fill-opacity="0.5"/><ellipse cx="346.25" cy="481.88" rx="4.73" ry="3.16" fill="#b0b470" fill-opacity="0.4"/><ellipse cx="362.03" cy="499.26" rx="7.89" ry="3.16" fill="#7a6040" fill-opacity="0.4"/></g></g>
<rect x="339.94" y="472.40" width="31.56" height="31.60" fill="#000" filter="url(#grain)"/>
<g clip-path="url(#c69)"><rect x="337.94" y="470.40" width="35.56" height="35.60" fill="none"/><g filter="url(#b4)"><ellipse cx="355.72" cy="491.36" rx="4.73" ry="4.42" fill="#a07050" fill-opacity="1"/><polygon points="352.41,490.03 348.78,479.67 350.67,478.72 354.77,488.71" fill="#a07050" fill-opacity="1"/><ellipse cx="349.72" cy="478.72" rx="1.42" ry="1.26" fill="#a07050" fill-opacity="1"/><polygon points="358.56,490.48 364.24,494.01 358.09,493.57" fill="#a07050" fill-opacity="1"/><rect x="354.30" y="494.46" width="0.79" height="5.06" fill="#3a3028" fill-opacity="1"/><rect x="356.67" y="494.46" width="0.79" height="4.42" fill="#3a3028" fill-opacity="1"/></g></g>
<rect x="0.00" y="509.70" width="184.50" height="93.50" fill="#f2e41c" stroke="none" stroke-width="0" />
<rect x="189.40" y="510.20" width="185.40" height="92.00" fill="#f2e41c" stroke="none" stroke-width="0" />
<g clip-path="url(#c70)"><rect x="5.10" y="514.80" width="83.70" height="83.20" fill="#faf8fa"/><g filter="url(#b14)"><rect x="7.10" y="516.80" width="5.58" height="79.20" fill="#f2dce4" fill-opacity="1"/><ellipse cx="66.88" cy="528.68" rx="23.91" ry="11.88" fill="#e8f4f4" fill-opacity="1"/><polygon points="15.07,518.38 35.79,518.38 40.57,536.60 53.33,546.90 56.51,565.90 54.92,584.12 50.94,593.62 27.02,593.62 21.45,572.24 15.07,548.48" fill="#2a1c24" fill-opacity="1"/><ellipse cx="23.04" cy="526.30" rx="6.38" ry="7.92" fill="#5a1a28" fill-opacity="1"/><ellipse cx="42.97" cy="550.06" rx="11.16" ry="7.92" fill="#5a4048" fill-opacity="1"/><ellipse cx="42.97" cy="557.98" rx="9.56" ry="3.96" fill="#b05a30" fill-opacity="1"/><ellipse cx="34.99" cy="544.52" rx="4.78" ry="6.34" fill="#7a3a30" fill-opacity="1"/><ellipse cx="40.57" cy="584.12" rx="14.35" ry="7.92" fill="#3a4450" fill-opacity="1"/><ellipse cx="38.98" cy="573.03" rx="12.75" ry="1.19" fill="#b0a890" fill-opacity="1"/><ellipse cx="70.86" cy="542.94" rx="14.35" ry="5.54" fill="#88c898" fill-opacity="1"/><ellipse cx="62.89" cy="556.40" rx="11.16" ry="7.92" fill="#9a9098" fill-opacity="0.8"/><ellipse cx="72.45" cy="557.98" rx="9.56" ry="7.92" fill="#b8a8b8" fill-opacity="0.8"/><ellipse cx="54.92" cy="552.44" rx="3.19" ry="6.34" fill="#4a3a40" fill-opacity="1"/><ellipse cx="69.27" cy="564.32" rx="3.99" ry="3.17" fill="#3a5a80" fill-opacity="0.8"/><ellipse cx="56.51" cy="534.22" rx="3.19" ry="3.17" fill="#403040" fill-opacity="1"/></g></g>
<rect x="7.10" y="516.80" width="79.70" height="79.20" fill="none" stroke="#b0a880" stroke-width="0.5" />
<g clip-path="url(#c71)"><rect x="97.10" y="514.80" width="83.70" height="83.20" fill="#faf8fa"/><g filter="url(#b14)"><rect x="99.10" y="516.80" width="9.56" height="79.20" fill="#f4eef4" fill-opacity="1"/><ellipse cx="161.27" cy="528.68" rx="19.93" ry="12.67" fill="#c8e4f0" fill-opacity="1"/><ellipse cx="123.01" cy="524.72" rx="15.94" ry="9.50" fill="#4a1a20" fill-opacity="1"/><polygon points="108.66,536.60 126.99,528.68 142.94,536.60 151.70,552.44 146.92,565.90 108.66,565.90" fill="#8a7040" fill-opacity="1"/><ellipse cx="130.98" cy="554.82" rx="12.75" ry="8.71" fill="#b07038" fill-opacity="1"/><ellipse cx="119.02" cy="544.52" rx="7.97" ry="7.92" fill="#a0a050" fill-opacity="0.7"/><ellipse cx="137.36" cy="562.74" rx="7.97" ry="3.17" fill="#c04030" fill-opacity="1"/><polygon points="110.26,565.90 145.33,565.90 143.73,584.12 134.97,593.62 119.02,592.04 113.45,580.16" fill="#1e2a3a" fill-opacity="1"/><ellipse cx="156.48" cy="550.06" rx="12.75" ry="10.30" fill="#4a4a48" fill-opacity="0.85"/><ellipse cx="166.84" cy="544.52" rx="7.97" ry="6.34" fill="#a07050" fill-opacity="0.7"/><ellipse cx="162.86" cy="560.36" rx="7.97" ry="5.54" fill="#8a98a8" fill-opacity="0.7"/><ellipse cx="146.92" cy="550.06" rx="3.99" ry="7.92" fill="#f0f0f0" fill-opacity="1"/></g></g>
<rect x="99.10" y="516.80" width="79.70" height="79.20" fill="none" stroke="#b0a880" stroke-width="0.5" />
<g clip-path="url(#c72)"><rect x="193.10" y="515.00" width="84.20" height="84.20" fill="#8eaa48"/><g filter="url(#b12)"><rect x="195.10" y="517.00" width="80.20" height="17.64" fill="#a09a68" fill-opacity="1"/><ellipse cx="235.20" cy="541.06" rx="40.10" ry="8.02" fill="#8a9048" fill-opacity="0.7"/><ellipse cx="204.72" cy="554.69" rx="11.23" ry="5.61" fill="#343a20" fill-opacity="1"/><ellipse cx="263.27" cy="533.04" rx="8.02" ry="16.04" fill="#7a6a58" fill-opacity="0.8"/><ellipse cx="257.66" cy="525.02" rx="3.21" ry="3.21" fill="#d0a090" fill-opacity="1"/><ellipse cx="243.22" cy="577.15" rx="32.08" ry="16.04" fill="#88a440" fill-opacity="0.7"/><ellipse cx="219.16" cy="585.17" rx="24.06" ry="12.03" fill="#7a9c38" fill-opacity="0.6"/></g></g>
<rect x="195.1" y="517" width="80.2" height="80.2" fill="#000" filter="url(#grain)"/>
<g clip-path="url(#c73)"><rect x="193.10" y="515.00" width="84.20" height="84.20" fill="none"/><g filter="url(#b4)"><polygon points="219.16,527.43 223.17,528.23 221.57,541.06 219.96,553.09 216.75,554.69 217.56,541.06" fill="#ece6e6" fill-opacity="1"/><ellipse cx="230.39" cy="565.12" rx="16.84" ry="9.62" fill="#e4d6cc" fill-opacity="1" transform="rotate(35 230.39 565.12)"/><ellipse cx="233.60" cy="566.72" rx="10.43" ry="6.42" fill="#d6a070" fill-opacity="1" transform="rotate(35 233.60 566.72)"/><ellipse cx="241.62" cy="574.74" rx="4.81" ry="4.01" fill="#d8d0cc" fill-opacity="1" transform="rotate(35 241.62 574.74)"/><ellipse cx="219.16" cy="526.62" rx="2.81" ry="2.41" fill="#b02020" fill-opacity="1"/><polygon points="217.56,526.62 205.53,536.25 207.13,537.05 219.16,529.03" fill="#803020" fill-opacity="1"/><line x1="223.17" y1="574.74" x2="221.57" y2="595.60" stroke="#3a3028" stroke-width="1.3"/><line x1="233.60" y1="577.95" x2="231.19" y2="589.18" stroke="#3a3028" stroke-width="1.3"/></g></g>
<g clip-path="url(#c74)"><rect x="286.10" y="515.00" width="83.60" height="84.20" fill="#8a9452"/><g filter="url(#b13)"><rect x="288.10" y="517.00" width="10.35" height="80.20" fill="#5a3a28" fill-opacity="1"/><ellipse cx="319.94" cy="533.04" rx="15.92" ry="12.03" fill="#8a9a58" fill-opacity="0.8"/><ellipse cx="343.82" cy="545.07" rx="19.90" ry="20.05" fill="#a0a068" fill-opacity="1"/><ellipse cx="311.98" cy="553.09" rx="9.55" ry="16.04" fill="#98a060" fill-opacity="0.8"/><ellipse cx="350.19" cy="523.42" rx="7.96" ry="6.42" fill="#20503a" fill-opacity="1"/><ellipse cx="355.76" cy="573.14" rx="11.94" ry="24.06" fill="#6a5040" fill-opacity="0.7"/><ellipse cx="304.02" cy="573.14" rx="7.96" ry="20.05" fill="#3a3a28" fill-opacity="0.6"/><ellipse cx="335.86" cy="589.18" rx="27.86" ry="8.02" fill="#5a4a30" fill-opacity="0.8"/></g></g>
<rect x="288.1" y="517" width="79.6" height="80.2" fill="#000" filter="url(#grain)"/>
<g clip-path="url(#c75)"><rect x="286.10" y="515.00" width="83.60" height="84.20" fill="none"/><g filter="url(#b4)"><line x1="297.65" y1="545.07" x2="323.92" y2="553.09" stroke="#4a3020" stroke-width="1.2"/><line x1="331.88" y1="550.68" x2="367.70" y2="541.06" stroke="#5a3a28" stroke-width="1.3"/><line x1="327.90" y1="574.74" x2="363.72" y2="590.78" stroke="#4a3020" stroke-width="1.2"/><line x1="339.84" y1="526.62" x2="363.72" y2="517.00" stroke="#5a3a28" stroke-width="1.0"/><line x1="358.15" y1="529.03" x2="355.76" y2="597.20" stroke="#6a4030" stroke-width="1.8"/><line x1="300.04" y1="581.16" x2="315.96" y2="565.12" stroke="#3a2a20" stroke-width="1.0"/><line x1="335.86" y1="565.12" x2="351.78" y2="577.15" stroke="#5a4030" stroke-width="0.9"/><ellipse cx="323.12" cy="558.70" rx="12.74" ry="23.26" fill="#f0ecd0" fill-opacity="1" transform="rotate(-8 323.12 558.70)"/><ellipse cx="316.76" cy="533.04" rx="5.57" ry="6.42" fill="#f2eed8" fill-opacity="1"/><ellipse cx="314.37" cy="529.03" rx="5.17" ry="3.61" fill="#d02020" fill-opacity="1"/><polygon points="310.39,529.03 298.45,533.84 310.39,532.24" fill="#c03020" fill-opacity="1"/><polygon points="318.35,579.56 331.88,577.95 334.27,593.19 321.53,594.79" fill="#2a2a30" fill-opacity="1"/></g></g>
<text x="60.40" y="515.80" font-size="9.3" fill="#2a2ad8" textLength="24.80" lengthAdjust="spacingAndGlyphs" >Gen 21</text>
<text x="153.40" y="515.80" font-size="9.3" fill="#2a2ad8" textLength="28.00" lengthAdjust="spacingAndGlyphs" >Gen 22</text>
<text x="250.60" y="515.80" font-size="9.3" fill="#ff2010" textLength="25.20" lengthAdjust="spacingAndGlyphs" >Gen 21</text>
<text x="342.00" y="515.80" font-size="9.3" fill="#ff2010" textLength="27.00" lengthAdjust="spacingAndGlyphs" >Gen 22</text>
<rect x="381.70" y="358.10" width="7.40" height="242.20" fill="url(#cb)" stroke="#888" stroke-width="0.4" />
<line x1="389.1" y1="590.40" x2="393" y2="590.40" stroke="#555" stroke-width="0.8"/>
<line x1="389.1" y1="554.46" x2="393" y2="554.46" stroke="#555" stroke-width="0.8"/>
<line x1="389.1" y1="518.52" x2="393" y2="518.52" stroke="#555" stroke-width="0.8"/>
<line x1="389.1" y1="482.58" x2="393" y2="482.58" stroke="#555" stroke-width="0.8"/>
<line x1="389.1" y1="446.64" x2="393" y2="446.64" stroke="#555" stroke-width="0.8"/>
<line x1="389.1" y1="410.70" x2="393" y2="410.70" stroke="#555" stroke-width="0.8"/>
<line x1="389.1" y1="374.76" x2="393" y2="374.76" stroke="#555" stroke-width="0.8"/>
<text x="397.50" y="593.60" font-size="9" fill="#231f20" textLength="16.70" lengthAdjust="spacingAndGlyphs" >140</text>
<text x="397.50" y="521.72" font-size="9" fill="#231f20" textLength="16.70" lengthAdjust="spacingAndGlyphs" >180</text>
<text x="397.50" y="449.84" font-size="9" fill="#231f20" textLength="16.70" lengthAdjust="spacingAndGlyphs" >220</text>
<text x="397.50" y="377.96" font-size="9" fill="#231f20" textLength="16.70" lengthAdjust="spacingAndGlyphs" >260</text>
<text x="423.00" y="364.30" font-size="9.8" fill="#231f20" textLength="231.00" lengthAdjust="spacingAndGlyphs" transform="rotate(90 423.00 364.30)" >Mean firing rate (50, 200) ms after image onset</text>
<text x="455.40" y="310.30" font-size="14.5" fill="#000" font-weight="bold" stroke="#000" stroke-width="0.55">d</text>
<text x="496.40" y="332.60" font-size="8.8" fill="#231f20" textLength="95.00" lengthAdjust="spacingAndGlyphs" >IT multiunit, channel 12</text>
<line x1="497.1" y1="344" x2="497.1" y2="370.7" stroke="#333" stroke-width="1.1"/>
<text x="500.80" y="360.30" font-size="8.8" fill="#231f20" textLength="72.00" lengthAdjust="spacingAndGlyphs" >(210 events per s)</text>
<text x="609.60" y="349.00" font-size="8.8" fill="#ff2a2a" textLength="45.30" lengthAdjust="spacingAndGlyphs" >Object-like</text>
<text x="609.60" y="358.70" font-size="8.8" fill="#2a2aff" textLength="48.40" lengthAdjust="spacingAndGlyphs" >Texture-like</text>
<line x1="490" y1="387.6" x2="685" y2="387.6" stroke="#4a4a4a" stroke-width="0.8" stroke-dasharray="3 2.6"/>
<line x1="490" y1="414.3" x2="685" y2="414.3" stroke="#4a4a4a" stroke-width="0.8" stroke-dasharray="3 2.6"/>
<line x1="490" y1="441.3" x2="685" y2="441.3" stroke="#4a4a4a" stroke-width="0.8" stroke-dasharray="3 2.6"/>
<line x1="490" y1="468.3" x2="685" y2="468.3" stroke="#4a4a4a" stroke-width="0.8" stroke-dasharray="3 2.6"/>
<line x1="490" y1="495.4" x2="685" y2="495.4" stroke="#4a4a4a" stroke-width="0.8" stroke-dasharray="3 2.6"/>
<line x1="490" y1="522.5" x2="685" y2="522.5" stroke="#4a4a4a" stroke-width="0.8" stroke-dasharray="3 2.6"/>
<line x1="490" y1="549.2" x2="685" y2="549.2" stroke="#4a4a4a" stroke-width="0.8" stroke-dasharray="3 2.6"/>
<polygon points="498.40,403.76 499.10,403.38 499.80,402.96 500.50,402.57 501.20,402.26 501.90,402.22 502.60,402.57 503.30,403.10 504.00,403.66 504.70,404.02 505.40,403.91 506.10,403.45 506.80,402.87 507.50,402.16 508.20,401.36 508.90,400.76 509.60,400.78 510.30,401.43 511.00,402.35 511.70,403.29 512.40,404.13 513.10,404.82 513.80,405.32 514.50,405.40 515.20,404.93 515.90,404.27 516.60,403.71 517.30,403.19 518.00,402.66 518.70,402.12 519.40,401.77 520.10,401.92 520.80,402.43 521.50,402.98 522.20,403.44 522.90,403.82 523.60,404.21 524.30,404.67 525.00,405.29 525.70,405.95 526.40,406.26 527.10,405.95 527.80,405.26 528.50,404.40 529.20,403.46 529.90,402.56 530.60,401.79 531.30,401.32 532.00,401.31 532.70,401.53 533.40,401.71 534.10,401.83 534.80,401.91 535.50,401.98 536.20,402.03 536.90,401.98 537.60,401.61 538.30,400.92 539.00,400.16 539.70,399.52 540.40,398.99 541.10,398.52 541.80,398.00 542.50,397.34 543.20,396.38 543.90,395.03 544.60,393.52 545.30,392.12 546.00,390.88 546.70,389.76 547.40,388.70 548.10,387.67 548.80,386.62 549.50,385.53 550.20,384.45 550.90,383.60 551.60,383.06 552.30,382.65 553.00,382.25 553.70,381.86 554.40,381.52 555.10,381.32 555.80,381.29 556.50,381.30 557.20,381.21 557.90,380.97 558.60,380.63 559.30,380.27 560.00,380.02 560.70,379.93 561.40,379.99 562.10,379.94 562.80,379.31 563.50,377.99 564.20,376.34 564.90,374.64 565.60,372.97 566.30,371.44 567.00,370.51 567.70,370.50 568.40,370.89 569.10,371.28 569.80,371.69 570.50,372.13 571.20,372.47 571.90,372.51 572.60,372.25 573.30,371.86 574.00,371.43 574.70,371.07 575.40,370.98 576.10,371.49 576.80,372.56 577.50,373.77 578.20,374.73 578.90,374.71 579.60,373.27 580.30,371.23 581.00,369.28 581.70,367.45 582.40,365.66 583.10,364.38 583.80,364.16 584.50,364.58 585.20,365.08 585.90,365.60 586.60,366.11 587.30,366.51 588.00,366.65 588.70,366.55 589.40,366.43 590.10,366.39 590.80,366.41 591.50,366.35 592.20,366.18 592.90,365.89 593.60,365.61 594.30,365.69 595.00,366.17 595.70,366.87 596.40,367.70 597.10,368.61 597.80,369.52 598.50,370.37 599.20,371.09 599.90,371.34 600.60,370.92 601.30,370.21 602.00,369.52 602.70,368.82 603.40,368.46 604.10,368.93 604.80,369.96 605.50,371.14 606.20,372.40 606.90,373.68 607.60,374.89 608.30,376.00 609.00,376.81 609.70,377.00 610.40,376.60 611.10,376.07 611.80,375.64 612.50,375.25 613.20,374.91 613.90,374.64 614.60,374.38 615.30,374.11 616.00,373.89 616.70,373.74 617.40,373.61 618.10,373.46 618.80,373.32 619.50,373.34 620.20,373.51 620.90,373.78 621.60,374.11 622.30,374.43 623.00,374.65 623.70,374.61 624.40,374.32 625.10,373.95 625.80,373.67 626.50,373.50 627.20,373.37 627.90,373.20 628.60,372.94 629.30,372.96 630.00,373.73 630.70,375.03 631.40,376.48 632.10,377.70 632.80,378.23 633.50,378.18 634.20,377.95 634.90,377.70 635.60,377.48 636.30,377.34 637.00,377.25 637.70,377.16 638.40,377.14 639.10,377.24 639.80,377.40 640.50,377.61 641.20,377.89 641.90,378.23 642.60,378.58 643.30,378.87 644.00,378.99 644.70,378.84 645.40,378.54 646.10,378.29 646.80,378.12 647.50,377.96 648.20,377.74 648.90,377.44 649.60,377.06 650.30,376.67 651.00,376.31 651.70,376.03 652.40,375.80 653.10,375.55 653.80,375.21 654.50,374.80 655.20,374.36 655.90,374.25 656.60,374.85 657.30,375.89 658.00,376.98 658.70,378.00 659.40,378.94 660.10,379.85 660.80,380.80 661.50,381.82 662.20,382.88 662.90,383.89 663.60,384.83 664.30,385.63 665.00,386.08 665.70,386.03 666.40,385.83 667.10,385.73 667.80,385.64 668.50,385.48 669.20,385.30 669.90,385.27 670.60,385.36 671.30,385.54 672.00,385.80 672.70,386.12 673.40,386.43 674.10,386.69 674.80,386.91 675.50,387.11 676.20,387.30 676.20,394.90 675.50,394.71 674.80,394.51 674.10,394.29 673.40,394.03 672.70,393.72 672.00,393.40 671.30,393.14 670.60,392.96 669.90,392.87 669.20,392.90 668.50,393.08 667.80,393.24 667.10,393.33 666.40,393.43 665.70,393.63 665.00,393.68 664.30,393.23 663.60,392.43 662.90,391.49 662.20,390.48 661.50,389.42 660.80,388.40 660.10,387.45 659.40,386.54 658.70,385.60 658.00,384.58 657.30,383.49 656.60,382.45 655.90,381.85 655.20,381.96 654.50,382.40 653.80,382.81 653.10,383.15 652.40,383.40 651.70,383.63 651.00,383.91 650.30,384.27 649.60,384.66 648.90,385.04 648.20,385.34 647.50,385.56 646.80,385.72 646.10,385.89 645.40,386.14 644.70,386.44 644.00,386.59 643.30,386.47 642.60,386.18 641.90,385.83 641.20,385.49 640.50,385.21 639.80,385.00 639.10,384.84 638.40,384.74 637.70,384.76 637.00,384.85 636.30,384.94 635.60,385.08 634.90,385.30 634.20,385.55 633.50,385.78 632.80,385.83 632.10,385.30 631.40,384.08 630.70,382.63 630.00,381.33 629.30,380.56 628.60,380.54 627.90,380.80 627.20,380.97 626.50,381.10 625.80,381.27 625.10,381.55 624.40,381.92 623.70,382.21 623.00,382.25 622.30,382.03 621.60,381.71 620.90,381.38 620.20,381.11 619.50,380.94 618.80,380.92 618.10,381.06 617.40,381.21 616.70,381.34 616.00,381.49 615.30,381.71 614.60,381.98 613.90,382.24 613.20,382.51 612.50,382.85 611.80,383.24 611.10,383.67 610.40,384.20 609.70,384.60 609.00,384.41 608.30,383.60 607.60,382.49 606.90,381.28 606.20,380.00 605.50,378.74 604.80,377.56 604.10,376.53 603.40,376.06 602.70,376.42 602.00,377.12 601.30,377.81 600.60,378.52 599.90,378.94 599.20,378.69 598.50,377.97 597.80,377.12 597.10,376.21 596.40,375.30 595.70,374.47 595.00,373.77 594.30,373.29 593.60,373.21 592.90,373.49 592.20,373.78 591.50,373.95 590.80,374.01 590.10,373.99 589.40,374.03 588.70,374.15 588.00,374.25 587.30,374.11 586.60,373.71 585.90,373.20 585.20,372.68 584.50,372.18 583.80,371.76 583.10,371.98 582.40,373.26 581.70,375.05 581.00,376.88 580.30,378.83 579.60,380.87 578.90,382.31 578.20,382.33 577.50,381.37 576.80,380.16 576.10,379.09 575.40,378.58 574.70,378.67 574.00,379.03 573.30,379.46 572.60,379.85 571.90,380.11 571.20,380.07 570.50,379.73 569.80,379.29 569.10,378.88 568.40,378.49 567.70,378.10 567.00,378.11 566.30,379.04 565.60,380.57 564.90,382.24 564.20,383.94 563.50,385.59 562.80,386.91 562.10,387.54 561.40,387.59 560.70,387.53 560.00,387.62 559.30,387.87 558.60,388.23 557.90,388.57 557.20,388.81 556.50,388.90 555.80,388.89 555.10,388.92 554.40,389.12 553.70,389.46 553.00,389.85 552.30,390.25 551.60,390.66 550.90,391.20 550.20,392.05 549.50,393.13 548.80,394.22 548.10,395.27 547.40,396.30 546.70,397.36 546.00,398.48 545.30,399.72 544.60,401.12 543.90,402.63 543.20,403.98 542.50,404.94 541.80,405.60 541.10,406.12 540.40,406.59 539.70,407.12 539.00,407.76 538.30,408.52 537.60,409.21 536.90,409.58 536.20,409.63 535.50,409.58 534.80,409.51 534.10,409.43 533.40,409.31 532.70,409.13 532.00,408.91 531.30,408.92 530.60,409.39 529.90,410.16 529.20,411.06 528.50,412.00 527.80,412.86 527.10,413.55 526.40,413.86 525.70,413.55 525.00,412.89 524.30,412.27 523.60,411.81 522.90,411.42 522.20,411.04 521.50,410.58 520.80,410.03 520.10,409.52 519.40,409.37 518.70,409.72 518.00,410.26 517.30,410.79 516.60,411.31 515.90,411.87 515.20,412.53 514.50,413.00 513.80,412.92 513.10,412.42 512.40,411.73 511.70,410.89 511.00,409.95 510.30,409.03 509.60,408.38 508.90,408.36 508.20,408.96 507.50,409.76 506.80,410.47 506.10,411.05 505.40,411.51 504.70,411.62 504.00,411.26 503.30,410.70 502.60,410.17 501.90,409.82 501.20,409.86 500.50,410.17 499.80,410.56 499.10,410.98 498.40,411.36" fill="#8080ff" stroke="none" stroke-width="0" fill-opacity="0.5"/>
<polygon points="498.40,398.90 499.10,398.91 499.80,398.96 500.50,398.96 501.20,398.80 501.90,398.48 502.60,398.31 503.30,398.63 504.00,399.31 504.70,400.07 505.40,400.73 506.10,401.15 506.80,401.39 507.50,401.66 508.20,402.20 508.90,403.03 509.60,403.98 510.30,404.84 511.00,405.52 511.70,406.06 512.40,406.60 513.10,407.25 513.80,407.98 514.50,408.27 515.20,407.76 515.90,406.81 516.60,405.84 517.30,404.94 518.00,404.13 518.70,403.34 519.40,402.57 520.10,401.85 520.80,401.20 521.50,400.60 522.20,400.10 522.90,399.69 523.60,399.31 524.30,398.97 525.00,399.04 525.70,399.70 526.40,400.61 527.10,401.55 527.80,402.48 528.50,403.19 529.20,403.49 529.90,403.62 530.60,403.82 531.30,404.03 532.00,404.17 532.70,404.18 533.40,404.10 534.10,403.96 534.80,403.68 535.50,403.30 536.20,402.89 536.90,402.40 537.60,401.76 538.30,401.05 539.00,400.53 539.70,400.35 540.40,400.38 541.10,400.39 541.80,400.30 542.50,400.08 543.20,399.85 543.90,399.74 544.60,399.54 545.30,398.87 546.00,397.74 546.70,396.36 547.40,394.84 548.10,393.37 548.80,392.28 549.50,391.99 550.20,392.40 550.90,392.89 551.60,393.15 552.30,393.24 553.00,393.35 553.70,393.52 554.40,393.65 555.10,393.75 555.80,393.73 556.50,393.56 557.20,393.30 557.90,392.85 558.60,391.99 559.30,390.88 560.00,389.69 560.70,388.37 561.40,386.95 562.10,385.79 562.80,385.57 563.50,386.37 564.20,387.53 564.90,388.59 565.60,389.45 566.30,389.76 567.00,389.34 567.70,388.68 568.40,388.12 569.10,387.61 569.80,387.07 570.50,386.46 571.20,385.81 571.90,385.15 572.60,384.55 573.30,384.05 574.00,383.62 574.70,383.23 575.40,382.90 576.10,382.64 576.80,382.41 577.50,382.12 578.20,381.68 578.90,380.87 579.60,379.58 580.30,378.15 581.00,376.84 581.70,375.55 582.40,374.20 583.10,372.92 583.80,371.99 584.50,371.36 585.20,370.85 585.90,370.26 586.60,369.34 587.30,368.11 588.00,366.77 588.70,365.49 589.40,364.38 590.10,363.44 590.80,362.69 591.50,362.16 592.20,361.64 592.90,361.02 593.60,360.46 594.30,360.13 595.00,360.10 595.70,360.40 596.40,360.87 597.10,361.24 597.80,361.50 598.50,361.82 599.20,362.29 599.90,362.66 600.60,362.63 601.30,362.28 602.00,361.79 602.70,361.45 603.40,361.58 604.10,362.05 604.80,362.60 605.50,362.76 606.20,362.08 606.90,360.79 607.60,359.98 608.30,360.82 609.00,363.16 609.70,365.94 610.40,368.44 611.10,370.00 611.80,370.42 612.50,370.42 613.20,370.54 613.90,370.75 614.60,371.36 615.30,372.69 616.00,374.36 616.70,375.65 617.40,376.19 618.10,376.26 618.80,376.24 619.50,376.18 620.20,376.00 620.90,375.53 621.60,374.86 622.30,374.15 623.00,373.42 623.70,372.61 624.40,371.74 625.10,370.91 625.80,370.52 626.50,370.82 627.20,371.41 627.90,371.95 628.60,372.61 629.30,373.65 630.00,374.94 630.70,376.32 631.40,377.69 632.10,378.66 632.80,378.79 633.50,378.34 634.20,377.88 634.90,377.61 635.60,377.50 636.30,377.43 637.00,377.38 637.70,377.37 638.40,377.35 639.10,377.42 639.80,377.70 640.50,378.13 641.20,378.11 641.90,377.04 642.60,375.36 643.30,373.64 644.00,372.04 644.70,371.15 645.40,371.66 646.10,373.08 646.80,374.54 647.50,375.66 648.20,376.10 648.90,375.90 649.60,375.57 650.30,375.26 651.00,374.84 651.70,374.70 652.40,375.24 653.10,376.21 653.80,377.38 654.50,378.73 655.20,380.10 655.90,381.06 656.60,381.22 657.30,380.90 658.00,380.57 658.70,380.34 659.40,380.18 660.10,379.93 660.80,379.41 661.50,378.65 662.20,377.86 662.90,377.13 663.60,376.44 664.30,375.70 665.00,374.89 665.70,374.03 666.40,373.17 667.10,372.92 667.80,373.83 668.50,375.29 669.20,376.72 669.90,378.10 670.60,379.47 671.30,380.86 672.00,381.93 672.70,382.11 673.40,381.45 674.10,380.53 674.80,379.67 675.50,378.98 676.20,378.50 676.20,386.10 675.50,386.58 674.80,387.27 674.10,388.13 673.40,389.05 672.70,389.71 672.00,389.53 671.30,388.46 670.60,387.07 669.90,385.70 669.20,384.32 668.50,382.89 667.80,381.43 667.10,380.52 666.40,380.77 665.70,381.63 665.00,382.49 664.30,383.30 663.60,384.04 662.90,384.73 662.20,385.46 661.50,386.25 660.80,387.01 660.10,387.53 659.40,387.78 658.70,387.94 658.00,388.17 657.30,388.50 656.60,388.82 655.90,388.66 655.20,387.70 654.50,386.33 653.80,384.98 653.10,383.81 652.40,382.84 651.70,382.30 651.00,382.44 650.30,382.86 649.60,383.17 648.90,383.50 648.20,383.70 647.50,383.26 646.80,382.14 646.10,380.68 645.40,379.26 644.70,378.75 644.00,379.64 643.30,381.24 642.60,382.96 641.90,384.64 641.20,385.71 640.50,385.73 639.80,385.30 639.10,385.02 638.40,384.95 637.70,384.97 637.00,384.98 636.30,385.03 635.60,385.10 634.90,385.21 634.20,385.48 633.50,385.94 632.80,386.39 632.10,386.26 631.40,385.29 630.70,383.92 630.00,382.54 629.30,381.25 628.60,380.21 627.90,379.55 627.20,379.01 626.50,378.42 625.80,378.12 625.10,378.51 624.40,379.34 623.70,380.21 623.00,381.02 622.30,381.75 621.60,382.46 620.90,383.13 620.20,383.60 619.50,383.78 618.80,383.84 618.10,383.86 617.40,383.79 616.70,383.25 616.00,381.96 615.30,380.29 614.60,378.96 613.90,378.35 613.20,378.14 612.50,378.02 611.80,378.02 611.10,377.60 610.40,376.04 609.70,373.54 609.00,370.76 608.30,368.42 607.60,367.58 606.90,368.39 606.20,369.68 605.50,370.36 604.80,370.20 604.10,369.65 603.40,369.18 602.70,369.05 602.00,369.39 601.30,369.88 600.60,370.23 599.90,370.26 599.20,369.89 598.50,369.42 597.80,369.10 597.10,368.84 596.40,368.47 595.70,368.00 595.00,367.70 594.30,367.73 593.60,368.06 592.90,368.62 592.20,369.24 591.50,369.76 590.80,370.29 590.10,371.04 589.40,371.98 588.70,373.09 588.00,374.37 587.30,375.71 586.60,376.94 585.90,377.86 585.20,378.45 584.50,378.96 583.80,379.59 583.10,380.52 582.40,381.80 581.70,383.15 581.00,384.44 580.30,385.75 579.60,387.18 578.90,388.47 578.20,389.28 577.50,389.72 576.80,390.01 576.10,390.24 575.40,390.50 574.70,390.83 574.00,391.22 573.30,391.65 572.60,392.15 571.90,392.75 571.20,393.41 570.50,394.06 569.80,394.67 569.10,395.21 568.40,395.72 567.70,396.28 567.00,396.94 566.30,397.36 565.60,397.05 564.90,396.19 564.20,395.13 563.50,393.97 562.80,393.17 562.10,393.39 561.40,394.55 560.70,395.97 560.00,397.29 559.30,398.48 558.60,399.59 557.90,400.45 557.20,400.90 556.50,401.16 555.80,401.33 555.10,401.35 554.40,401.25 553.70,401.12 553.00,400.95 552.30,400.84 551.60,400.75 550.90,400.49 550.20,400.00 549.50,399.59 548.80,399.88 548.10,400.97 547.40,402.44 546.70,403.96 546.00,405.34 545.30,406.47 544.60,407.14 543.90,407.34 543.20,407.45 542.50,407.68 541.80,407.90 541.10,407.99 540.40,407.98 539.70,407.95 539.00,408.13 538.30,408.65 537.60,409.36 536.90,410.00 536.20,410.49 535.50,410.90 534.80,411.28 534.10,411.56 533.40,411.70 532.70,411.78 532.00,411.77 531.30,411.63 530.60,411.42 529.90,411.22 529.20,411.09 528.50,410.79 527.80,410.08 527.10,409.15 526.40,408.21 525.70,407.30 525.00,406.64 524.30,406.57 523.60,406.91 522.90,407.29 522.20,407.70 521.50,408.20 520.80,408.80 520.10,409.45 519.40,410.17 518.70,410.94 518.00,411.73 517.30,412.54 516.60,413.44 515.90,414.41 515.20,415.36 514.50,415.87 513.80,415.58 513.10,414.85 512.40,414.20 511.70,413.66 511.00,413.12 510.30,412.44 509.60,411.58 508.90,410.63 508.20,409.80 507.50,409.26 506.80,408.99 506.10,408.75 505.40,408.33 504.70,407.67 504.00,406.91 503.30,406.23 502.60,405.91 501.90,406.08 501.20,406.40 500.50,406.56 499.80,406.56 499.10,406.51 498.40,406.50" fill="#ff8080" stroke="none" stroke-width="0" fill-opacity="0.52"/>
<polyline points="498.40,407.56 499.10,407.18 499.80,406.76 500.50,406.37 501.20,406.06 501.90,406.02 502.60,406.37 503.30,406.90 504.00,407.46 504.70,407.82 505.40,407.71 506.10,407.25 506.80,406.67 507.50,405.96 508.20,405.16 508.90,404.56 509.60,404.58 510.30,405.23 511.00,406.15 511.70,407.09 512.40,407.93 513.10,408.62 513.80,409.12 514.50,409.20 515.20,408.73 515.90,408.07 516.60,407.51 517.30,406.99 518.00,406.46 518.70,405.92 519.40,405.57 520.10,405.72 520.80,406.23 521.50,406.78 522.20,407.24 522.90,407.62 523.60,408.01 524.30,408.47 525.00,409.09 525.70,409.75 526.40,410.06 527.10,409.75 527.80,409.06 528.50,408.20 529.20,407.26 529.90,406.36 530.60,405.59 531.30,405.12 532.00,405.11 532.70,405.33 533.40,405.51 534.10,405.63 534.80,405.71 535.50,405.78 536.20,405.83 536.90,405.78 537.60,405.41 538.30,404.72 539.00,403.96 539.70,403.32 540.40,402.79 541.10,402.32 541.80,401.80 542.50,401.14 543.20,400.18 543.90,398.83 544.60,397.32 545.30,395.92 546.00,394.68 546.70,393.56 547.40,392.50 548.10,391.47 548.80,390.42 549.50,389.33 550.20,388.25 550.90,387.40 551.60,386.86 552.30,386.45 553.00,386.05 553.70,385.66 554.40,385.32 555.10,385.12 555.80,385.09 556.50,385.10 557.20,385.01 557.90,384.77 558.60,384.43 559.30,384.07 560.00,383.82 560.70,383.73 561.40,383.79 562.10,383.74 562.80,383.11 563.50,381.79 564.20,380.14 564.90,378.44 565.60,376.77 566.30,375.24 567.00,374.31 567.70,374.30 568.40,374.69 569.10,375.08 569.80,375.49 570.50,375.93 571.20,376.27 571.90,376.31 572.60,376.05 573.30,375.66 574.00,375.23 574.70,374.87 575.40,374.78 576.10,375.29 576.80,376.36 577.50,377.57 578.20,378.53 578.90,378.51 579.60,377.07 580.30,375.03 581.00,373.08 581.70,371.25 582.40,369.46 583.10,368.18 583.80,367.96 584.50,368.38 585.20,368.88 585.90,369.40 586.60,369.91 587.30,370.31 588.00,370.45 588.70,370.35 589.40,370.23 590.10,370.19 590.80,370.21 591.50,370.15 592.20,369.98 592.90,369.69 593.60,369.41 594.30,369.49 595.00,369.97 595.70,370.67 596.40,371.50 597.10,372.41 597.80,373.32 598.50,374.17 599.20,374.89 599.90,375.14 600.60,374.72 601.30,374.01 602.00,373.32 602.70,372.62 603.40,372.26 604.10,372.73 604.80,373.76 605.50,374.94 606.20,376.20 606.90,377.48 607.60,378.69 608.30,379.80 609.00,380.61 609.70,380.80 610.40,380.40 611.10,379.87 611.80,379.44 612.50,379.05 613.20,378.71 613.90,378.44 614.60,378.18 615.30,377.91 616.00,377.69 616.70,377.54 617.40,377.41 618.10,377.26 618.80,377.12 619.50,377.14 620.20,377.31 620.90,377.58 621.60,377.91 622.30,378.23 623.00,378.45 623.70,378.41 624.40,378.12 625.10,377.75 625.80,377.47 626.50,377.30 627.20,377.17 627.90,377.00 628.60,376.74 629.30,376.76 630.00,377.53 630.70,378.83 631.40,380.28 632.10,381.50 632.80,382.03 633.50,381.98 634.20,381.75 634.90,381.50 635.60,381.28 636.30,381.14 637.00,381.05 637.70,380.96 638.40,380.94 639.10,381.04 639.80,381.20 640.50,381.41 641.20,381.69 641.90,382.03 642.60,382.38 643.30,382.67 644.00,382.79 644.70,382.64 645.40,382.34 646.10,382.09 646.80,381.92 647.50,381.76 648.20,381.54 648.90,381.24 649.60,380.86 650.30,380.47 651.00,380.11 651.70,379.83 652.40,379.60 653.10,379.35 653.80,379.01 654.50,378.60 655.20,378.16 655.90,378.05 656.60,378.65 657.30,379.69 658.00,380.78 658.70,381.80 659.40,382.74 660.10,383.65 660.80,384.60 661.50,385.62 662.20,386.68 662.90,387.69 663.60,388.63 664.30,389.43 665.00,389.88 665.70,389.83 666.40,389.63 667.10,389.53 667.80,389.44 668.50,389.28 669.20,389.10 669.90,389.07 670.60,389.16 671.30,389.34 672.00,389.60 672.70,389.92 673.40,390.23 674.10,390.49 674.80,390.71 675.50,390.91 676.20,391.10" fill="none" stroke="#0000ff" stroke-width="2.3" stroke-linejoin="round" stroke-linecap="round" />
<polyline points="498.40,402.70 499.10,402.71 499.80,402.76 500.50,402.76 501.20,402.60 501.90,402.28 502.60,402.11 503.30,402.43 504.00,403.11 504.70,403.87 505.40,404.53 506.10,404.95 506.80,405.19 507.50,405.46 508.20,406.00 508.90,406.83 509.60,407.78 510.30,408.64 511.00,409.32 511.70,409.86 512.40,410.40 513.10,411.05 513.80,411.78 514.50,412.07 515.20,411.56 515.90,410.61 516.60,409.64 517.30,408.74 518.00,407.93 518.70,407.14 519.40,406.37 520.10,405.65 520.80,405.00 521.50,404.40 522.20,403.90 522.90,403.49 523.60,403.11 524.30,402.77 525.00,402.84 525.70,403.50 526.40,404.41 527.10,405.35 527.80,406.28 528.50,406.99 529.20,407.29 529.90,407.42 530.60,407.62 531.30,407.83 532.00,407.97 532.70,407.98 533.40,407.90 534.10,407.76 534.80,407.48 535.50,407.10 536.20,406.69 536.90,406.20 537.60,405.56 538.30,404.85 539.00,404.33 539.70,404.15 540.40,404.18 541.10,404.19 541.80,404.10 542.50,403.88 543.20,403.65 543.90,403.54 544.60,403.34 545.30,402.67 546.00,401.54 546.70,400.16 547.40,398.64 548.10,397.17 548.80,396.08 549.50,395.79 550.20,396.20 550.90,396.69 551.60,396.95 552.30,397.04 553.00,397.15 553.70,397.32 554.40,397.45 555.10,397.55 555.80,397.53 556.50,397.36 557.20,397.10 557.90,396.65 558.60,395.79 559.30,394.68 560.00,393.49 560.70,392.17 561.40,390.75 562.10,389.59 562.80,389.37 563.50,390.17 564.20,391.33 564.90,392.39 565.60,393.25 566.30,393.56 567.00,393.14 567.70,392.48 568.40,391.92 569.10,391.41 569.80,390.87 570.50,390.26 571.20,389.61 571.90,388.95 572.60,388.35 573.30,387.85 574.00,387.42 574.70,387.03 575.40,386.70 576.10,386.44 576.80,386.21 577.50,385.92 578.20,385.48 578.90,384.67 579.60,383.38 580.30,381.95 581.00,380.64 581.70,379.35 582.40,378.00 583.10,376.72 583.80,375.79 584.50,375.16 585.20,374.65 585.90,374.06 586.60,373.14 587.30,371.91 588.00,370.57 588.70,369.29 589.40,368.18 590.10,367.24 590.80,366.49 591.50,365.96 592.20,365.44 592.90,364.82 593.60,364.26 594.30,363.93 595.00,363.90 595.70,364.20 596.40,364.67 597.10,365.04 597.80,365.30 598.50,365.62 599.20,366.09 599.90,366.46 600.60,366.43 601.30,366.08 602.00,365.59 602.70,365.25 603.40,365.38 604.10,365.85 604.80,366.40 605.50,366.56 606.20,365.88 606.90,364.59 607.60,363.78 608.30,364.62 609.00,366.96 609.70,369.74 610.40,372.24 611.10,373.80 611.80,374.22 612.50,374.22 613.20,374.34 613.90,374.55 614.60,375.16 615.30,376.49 616.00,378.16 616.70,379.45 617.40,379.99 618.10,380.06 618.80,380.04 619.50,379.98 620.20,379.80 620.90,379.33 621.60,378.66 622.30,377.95 623.00,377.22 623.70,376.41 624.40,375.54 625.10,374.71 625.80,374.32 626.50,374.62 627.20,375.21 627.90,375.75 628.60,376.41 629.30,377.45 630.00,378.74 630.70,380.12 631.40,381.49 632.10,382.46 632.80,382.59 633.50,382.14 634.20,381.68 634.90,381.41 635.60,381.30 636.30,381.23 637.00,381.18 637.70,381.17 638.40,381.15 639.10,381.22 639.80,381.50 640.50,381.93 641.20,381.91 641.90,380.84 642.60,379.16 643.30,377.44 644.00,375.84 644.70,374.95 645.40,375.46 646.10,376.88 646.80,378.34 647.50,379.46 648.20,379.90 648.90,379.70 649.60,379.37 650.30,379.06 651.00,378.64 651.70,378.50 652.40,379.04 653.10,380.01 653.80,381.18 654.50,382.53 655.20,383.90 655.90,384.86 656.60,385.02 657.30,384.70 658.00,384.37 658.70,384.14 659.40,383.98 660.10,383.73 660.80,383.21 661.50,382.45 662.20,381.66 662.90,380.93 663.60,380.24 664.30,379.50 665.00,378.69 665.70,377.83 666.40,376.97 667.10,376.72 667.80,377.63 668.50,379.09 669.20,380.52 669.90,381.90 670.60,383.27 671.30,384.66 672.00,385.73 672.70,385.91 673.40,385.25 674.10,384.33 674.80,383.47 675.50,382.78 676.20,382.30" fill="none" stroke="#ff0000" stroke-width="2.3" stroke-linejoin="round" stroke-linecap="round" />
<polygon points="498.40,429.09 499.10,428.97 499.80,428.87 500.50,428.72 501.20,428.42 501.90,427.95 502.60,427.45 503.30,427.18 504.00,427.29 504.70,427.58 505.40,427.81 506.10,427.94 506.80,428.03 507.50,428.19 508.20,428.43 508.90,428.66 509.60,428.71 510.30,428.55 511.00,428.35 511.70,428.24 512.40,428.26 513.10,428.32 513.80,428.29 514.50,428.09 515.20,427.86 515.90,427.77 516.60,427.88 517.30,428.13 518.00,428.39 518.70,428.55 519.40,428.60 520.10,428.62 520.80,428.70 521.50,428.87 522.20,429.06 522.90,429.17 523.60,429.24 524.30,429.38 525.00,429.70 525.70,430.14 526.40,430.58 527.10,430.84 527.80,430.90 528.50,430.83 529.20,430.76 529.90,430.82 530.60,430.99 531.30,431.17 532.00,431.30 532.70,431.40 533.40,431.54 534.10,431.74 534.80,431.93 535.50,432.01 536.20,431.94 536.90,431.83 537.60,431.83 538.30,431.89 539.00,431.43 539.70,430.06 540.40,428.17 541.10,426.12 541.80,424.03 542.50,422.00 543.20,420.19 543.90,418.69 544.60,417.32 545.30,415.92 546.00,414.56 546.70,413.32 547.40,412.16 548.10,410.98 548.80,409.79 549.50,408.93 550.20,408.57 550.90,408.51 551.60,408.60 552.30,408.76 553.00,408.85 553.70,408.80 554.40,408.67 555.10,408.66 555.80,408.95 556.50,409.40 557.20,409.82 557.90,410.15 558.60,410.43 559.30,410.75 560.00,411.17 560.70,411.63 561.40,412.01 562.10,412.26 562.80,412.43 563.50,412.52 564.20,412.10 564.90,410.90 565.60,409.33 566.30,407.67 567.00,406.29 567.70,405.55 568.40,405.20 569.10,404.95 569.80,404.74 570.50,404.51 571.20,404.33 571.90,404.38 572.60,404.69 573.30,405.12 574.00,405.51 574.70,405.73 575.40,405.68 576.10,405.34 576.80,404.83 577.50,404.43 578.20,404.18 578.90,403.94 579.60,403.59 580.30,403.13 581.00,402.64 581.70,402.22 582.40,401.88 583.10,401.51 583.80,401.06 584.50,400.58 585.20,400.13 585.90,399.77 586.60,399.48 587.30,399.16 588.00,398.65 588.70,397.98 589.40,397.25 590.10,396.63 590.80,396.13 591.50,395.68 592.20,395.17 592.90,394.58 593.60,393.96 594.30,393.53 595.00,393.54 595.70,393.89 596.40,394.23 597.10,394.46 597.80,394.67 598.50,394.93 599.20,395.09 599.90,394.98 600.60,394.66 601.30,394.18 602.00,393.61 602.70,393.08 603.40,392.70 604.10,392.84 604.80,393.87 605.50,395.32 606.20,396.75 606.90,398.16 607.60,399.63 608.30,401.17 609.00,402.52 609.70,403.25 610.40,403.34 611.10,403.29 611.80,403.38 612.50,403.60 613.20,403.79 613.90,403.82 614.60,403.65 615.30,403.41 616.00,402.97 616.70,402.10 617.40,400.97 618.10,399.80 618.80,398.57 619.50,397.29 620.20,396.29 620.90,396.00 621.60,396.31 622.30,396.69 623.00,396.92 623.70,397.14 624.40,397.48 625.10,398.03 625.80,398.74 626.50,399.53 627.20,400.32 627.90,401.03 628.60,401.68 629.30,402.38 630.00,403.18 630.70,403.74 631.40,403.61 632.10,402.96 632.80,402.25 633.50,401.65 634.20,401.34 634.90,401.68 635.60,402.62 636.30,403.69 637.00,404.73 637.70,405.84 638.40,406.68 639.10,406.91 639.80,406.76 640.50,406.48 641.20,406.12 641.90,405.79 642.60,405.56 643.30,405.38 644.00,405.24 644.70,405.19 645.40,405.24 646.10,405.38 646.80,405.63 647.50,405.93 648.20,406.16 648.90,406.26 649.60,406.24 650.30,406.17 651.00,406.11 651.70,406.11 652.40,406.11 653.10,405.98 653.80,405.69 654.50,405.35 655.20,405.07 655.90,405.14 656.60,405.78 657.30,406.70 658.00,407.61 658.70,408.54 659.40,409.56 660.10,410.54 660.80,411.15 661.50,411.30 662.20,411.18 662.90,411.02 663.60,410.97 664.30,411.14 665.00,411.44 665.70,411.74 666.40,411.87 667.10,411.78 667.80,411.61 668.50,411.48 669.20,411.37 669.90,411.22 670.60,411.00 671.30,410.78 672.00,410.76 672.70,411.17 673.40,411.92 674.10,412.68 674.80,413.25 675.50,413.59 676.20,413.77 676.20,421.37 675.50,421.19 674.80,420.85 674.10,420.28 673.40,419.52 672.70,418.77 672.00,418.36 671.30,418.38 670.60,418.60 669.90,418.82 669.20,418.97 668.50,419.08 667.80,419.21 667.10,419.38 666.40,419.47 665.70,419.34 665.00,419.04 664.30,418.74 663.60,418.57 662.90,418.62 662.20,418.78 661.50,418.90 660.80,418.75 660.10,418.14 659.40,417.16 658.70,416.14 658.00,415.21 657.30,414.30 656.60,413.38 655.90,412.74 655.20,412.67 654.50,412.95 653.80,413.29 653.10,413.58 652.40,413.71 651.70,413.71 651.00,413.71 650.30,413.77 649.60,413.84 648.90,413.86 648.20,413.76 647.50,413.53 646.80,413.23 646.10,412.98 645.40,412.84 644.70,412.79 644.00,412.84 643.30,412.98 642.60,413.16 641.90,413.39 641.20,413.72 640.50,414.08 639.80,414.36 639.10,414.51 638.40,414.28 637.70,413.44 637.00,412.33 636.30,411.29 635.60,410.22 634.90,409.28 634.20,408.94 633.50,409.25 632.80,409.85 632.10,410.56 631.40,411.21 630.70,411.34 630.00,410.78 629.30,409.98 628.60,409.28 627.90,408.63 627.20,407.92 626.50,407.13 625.80,406.34 625.10,405.63 624.40,405.08 623.70,404.74 623.00,404.52 622.30,404.29 621.60,403.91 620.90,403.60 620.20,403.89 619.50,404.89 618.80,406.17 618.10,407.40 617.40,408.57 616.70,409.70 616.00,410.57 615.30,411.01 614.60,411.25 613.90,411.42 613.20,411.39 612.50,411.20 611.80,410.98 611.10,410.89 610.40,410.94 609.70,410.85 609.00,410.12 608.30,408.77 607.60,407.23 606.90,405.76 606.20,404.35 605.50,402.92 604.80,401.47 604.10,400.44 603.40,400.30 602.70,400.68 602.00,401.21 601.30,401.78 600.60,402.26 599.90,402.58 599.20,402.69 598.50,402.53 597.80,402.27 597.10,402.06 596.40,401.83 595.70,401.49 595.00,401.14 594.30,401.13 593.60,401.56 592.90,402.18 592.20,402.77 591.50,403.28 590.80,403.73 590.10,404.23 589.40,404.85 588.70,405.58 588.00,406.25 587.30,406.76 586.60,407.08 585.90,407.37 585.20,407.73 584.50,408.18 583.80,408.66 583.10,409.11 582.40,409.48 581.70,409.82 581.00,410.24 580.30,410.73 579.60,411.19 578.90,411.54 578.20,411.78 577.50,412.03 576.80,412.43 576.10,412.94 575.40,413.28 574.70,413.33 574.00,413.11 573.30,412.72 572.60,412.29 571.90,411.98 571.20,411.93 570.50,412.11 569.80,412.34 569.10,412.55 568.40,412.80 567.70,413.15 567.00,413.89 566.30,415.27 565.60,416.93 564.90,418.50 564.20,419.70 563.50,420.12 562.80,420.03 562.10,419.86 561.40,419.61 560.70,419.23 560.00,418.77 559.30,418.35 558.60,418.03 557.90,417.75 557.20,417.42 556.50,417.00 555.80,416.55 555.10,416.26 554.40,416.27 553.70,416.40 553.00,416.45 552.30,416.36 551.60,416.20 550.90,416.11 550.20,416.17 549.50,416.53 548.80,417.39 548.10,418.58 547.40,419.76 546.70,420.92 546.00,422.16 545.30,423.52 544.60,424.92 543.90,426.29 543.20,427.79 542.50,429.60 541.80,431.63 541.10,433.72 540.40,435.77 539.70,437.66 539.00,439.03 538.30,439.49 537.60,439.43 536.90,439.43 536.20,439.54 535.50,439.61 534.80,439.53 534.10,439.34 533.40,439.14 532.70,439.00 532.00,438.90 531.30,438.77 530.60,438.59 529.90,438.42 529.20,438.36 528.50,438.43 527.80,438.50 527.10,438.44 526.40,438.18 525.70,437.74 525.00,437.30 524.30,436.98 523.60,436.84 522.90,436.77 522.20,436.66 521.50,436.47 520.80,436.30 520.10,436.22 519.40,436.20 518.70,436.15 518.00,435.99 517.30,435.73 516.60,435.48 515.90,435.37 515.20,435.46 514.50,435.69 513.80,435.89 513.10,435.92 512.40,435.86 511.70,435.84 511.00,435.95 510.30,436.15 509.60,436.31 508.90,436.26 508.20,436.03 507.50,435.79 506.80,435.63 506.10,435.54 505.40,435.41 504.70,435.18 504.00,434.89 503.30,434.78 502.60,435.05 501.90,435.55 501.20,436.02 500.50,436.32 499.80,436.47 499.10,436.57 498.40,436.69" fill="#8080ff" stroke="none" stroke-width="0" fill-opacity="0.5"/>
<polygon points="498.40,425.11 499.10,425.22 499.80,425.26 500.50,425.21 501.20,425.17 501.90,425.27 502.60,425.53 503.30,425.89 504.00,426.21 504.70,426.35 505.40,426.36 506.10,426.42 506.80,426.67 507.50,427.11 508.20,427.64 508.90,428.14 509.60,428.56 510.30,428.99 511.00,429.53 511.70,430.15 512.40,430.74 513.10,431.19 513.80,431.27 514.50,430.94 515.20,430.49 515.90,430.13 516.60,429.77 517.30,429.34 518.00,428.83 518.70,428.25 519.40,427.64 520.10,427.02 520.80,426.39 521.50,425.96 522.20,426.07 522.90,426.68 523.60,427.39 524.30,427.94 525.00,428.34 525.70,428.74 526.40,429.33 527.10,430.15 527.80,431.07 528.50,431.91 529.20,432.21 529.90,431.70 530.60,430.88 531.30,430.21 532.00,429.62 532.70,429.13 533.40,428.88 534.10,428.82 534.80,428.87 535.50,429.05 536.20,429.29 536.90,429.55 537.60,429.90 538.30,430.41 539.00,431.02 539.70,431.69 540.40,432.36 541.10,432.69 541.80,432.42 542.50,431.90 543.20,431.38 543.90,430.80 544.60,430.12 545.30,429.36 546.00,428.64 546.70,428.12 547.40,427.77 548.10,427.44 548.80,426.97 549.50,426.31 550.20,425.56 550.90,424.92 551.60,424.42 552.30,423.84 553.00,422.97 553.70,421.88 554.40,420.72 555.10,419.63 555.80,418.66 556.50,417.73 557.20,416.73 557.90,415.87 558.60,415.51 559.30,415.57 560.00,415.78 560.70,416.06 561.40,416.33 562.10,416.54 562.80,416.69 563.50,416.72 564.20,416.22 564.90,415.01 565.60,413.51 566.30,412.09 567.00,410.78 567.70,409.54 568.40,408.72 569.10,408.69 569.80,408.99 570.50,409.29 571.20,409.75 571.90,410.40 572.60,411.09 573.30,411.41 574.00,410.86 574.70,409.62 575.40,408.27 576.10,407.05 576.80,405.87 577.50,404.60 578.20,403.24 578.90,402.13 579.60,401.54 580.30,401.29 581.00,401.08 581.70,400.79 582.40,400.39 583.10,399.92 583.80,399.47 584.50,399.04 585.20,398.53 585.90,397.95 586.60,397.37 587.30,396.82 588.00,396.27 588.70,395.64 589.40,394.91 590.10,394.12 590.80,393.42 591.50,392.89 592.20,392.49 592.90,392.21 593.60,392.06 594.30,391.99 595.00,391.95 595.70,392.03 596.40,392.16 597.10,391.96 597.80,391.26 598.50,390.30 599.20,389.35 599.90,388.66 600.60,388.33 601.30,388.11 602.00,387.78 602.70,387.31 603.40,386.82 604.10,386.41 604.80,386.13 605.50,386.14 606.20,386.74 606.90,387.72 607.60,388.77 608.30,389.79 609.00,390.79 609.70,391.75 610.40,392.72 611.10,393.66 611.80,394.15 612.50,393.95 613.20,393.34 613.90,392.56 614.60,391.65 615.30,390.80 616.00,390.45 616.70,390.98 617.40,391.95 618.10,392.85 618.80,393.61 619.50,394.37 620.20,395.26 620.90,396.25 621.60,397.21 622.30,397.98 623.00,398.58 623.70,399.17 624.40,399.89 625.10,400.74 625.80,401.61 626.50,402.37 627.20,403.00 627.90,403.57 628.60,404.17 629.30,404.83 630.00,405.51 630.70,405.98 631.40,405.89 632.10,405.40 632.80,404.78 633.50,404.06 634.20,403.22 634.90,402.49 635.60,402.35 636.30,402.93 637.00,403.81 637.70,404.59 638.40,404.93 639.10,404.73 639.80,404.36 640.50,404.14 641.20,404.03 641.90,403.88 642.60,403.58 643.30,403.13 644.00,402.71 644.70,402.42 645.40,402.24 646.10,402.02 646.80,401.65 647.50,401.16 648.20,400.85 648.90,401.26 649.60,402.47 650.30,403.97 651.00,405.43 651.70,406.85 652.40,408.24 653.10,409.60 653.80,410.31 654.50,409.80 655.20,408.72 655.90,407.76 656.60,406.91 657.30,406.09 658.00,405.15 658.70,404.19 659.40,403.59 660.10,403.46 660.80,403.61 661.50,403.86 662.20,404.06 662.90,404.11 663.60,404.07 664.30,404.14 665.00,404.59 665.70,405.54 666.40,406.60 667.10,407.51 667.80,408.33 668.50,409.22 669.20,410.26 669.90,411.16 670.60,411.43 671.30,411.12 672.00,410.61 672.70,410.07 673.40,409.56 674.10,409.08 674.80,408.64 675.50,408.26 676.20,407.98 676.20,415.58 675.50,415.86 674.80,416.24 674.10,416.68 673.40,417.16 672.70,417.67 672.00,418.21 671.30,418.72 670.60,419.03 669.90,418.76 669.20,417.86 668.50,416.82 667.80,415.93 667.10,415.11 666.40,414.20 665.70,413.14 665.00,412.19 664.30,411.74 663.60,411.67 662.90,411.71 662.20,411.66 661.50,411.46 660.80,411.21 660.10,411.06 659.40,411.19 658.70,411.79 658.00,412.75 657.30,413.69 656.60,414.51 655.90,415.36 655.20,416.32 654.50,417.40 653.80,417.91 653.10,417.20 652.40,415.84 651.70,414.45 651.00,413.03 650.30,411.57 649.60,410.07 648.90,408.86 648.20,408.45 647.50,408.76 646.80,409.25 646.10,409.62 645.40,409.84 644.70,410.02 644.00,410.31 643.30,410.73 642.60,411.18 641.90,411.48 641.20,411.63 640.50,411.74 639.80,411.96 639.10,412.33 638.40,412.53 637.70,412.19 637.00,411.41 636.30,410.53 635.60,409.95 634.90,410.09 634.20,410.82 633.50,411.66 632.80,412.38 632.10,413.00 631.40,413.49 630.70,413.58 630.00,413.11 629.30,412.43 628.60,411.77 627.90,411.17 627.20,410.60 626.50,409.97 625.80,409.21 625.10,408.34 624.40,407.49 623.70,406.77 623.00,406.18 622.30,405.58 621.60,404.81 620.90,403.85 620.20,402.86 619.50,401.97 618.80,401.21 618.10,400.45 617.40,399.55 616.70,398.58 616.00,398.05 615.30,398.40 614.60,399.25 613.90,400.16 613.20,400.94 612.50,401.55 611.80,401.75 611.10,401.26 610.40,400.32 609.70,399.35 609.00,398.39 608.30,397.39 607.60,396.37 606.90,395.32 606.20,394.34 605.50,393.74 604.80,393.73 604.10,394.01 603.40,394.42 602.70,394.91 602.00,395.38 601.30,395.71 600.60,395.93 599.90,396.26 599.20,396.95 598.50,397.90 597.80,398.86 597.10,399.56 596.40,399.76 595.70,399.63 595.00,399.55 594.30,399.59 593.60,399.66 592.90,399.81 592.20,400.09 591.50,400.49 590.80,401.02 590.10,401.72 589.40,402.51 588.70,403.24 588.00,403.87 587.30,404.42 586.60,404.97 585.90,405.55 585.20,406.13 584.50,406.64 583.80,407.07 583.10,407.52 582.40,407.99 581.70,408.39 581.00,408.68 580.30,408.89 579.60,409.14 578.90,409.73 578.20,410.84 577.50,412.20 576.80,413.47 576.10,414.65 575.40,415.87 574.70,417.22 574.00,418.46 573.30,419.01 572.60,418.69 571.90,418.00 571.20,417.35 570.50,416.89 569.80,416.59 569.10,416.29 568.40,416.32 567.70,417.14 567.00,418.38 566.30,419.69 565.60,421.11 564.90,422.61 564.20,423.82 563.50,424.32 562.80,424.29 562.10,424.14 561.40,423.93 560.70,423.66 560.00,423.38 559.30,423.17 558.60,423.11 557.90,423.47 557.20,424.33 556.50,425.33 555.80,426.26 555.10,427.23 554.40,428.32 553.70,429.48 553.00,430.57 552.30,431.44 551.60,432.02 550.90,432.52 550.20,433.16 549.50,433.91 548.80,434.57 548.10,435.04 547.40,435.37 546.70,435.72 546.00,436.24 545.30,436.96 544.60,437.72 543.90,438.40 543.20,438.98 542.50,439.50 541.80,440.02 541.10,440.29 540.40,439.96 539.70,439.29 539.00,438.62 538.30,438.01 537.60,437.50 536.90,437.15 536.20,436.89 535.50,436.65 534.80,436.47 534.10,436.42 533.40,436.48 532.70,436.73 532.00,437.22 531.30,437.81 530.60,438.48 529.90,439.30 529.20,439.81 528.50,439.51 527.80,438.67 527.10,437.75 526.40,436.93 525.70,436.34 525.00,435.94 524.30,435.54 523.60,434.99 522.90,434.28 522.20,433.67 521.50,433.56 520.80,433.99 520.10,434.62 519.40,435.24 518.70,435.85 518.00,436.43 517.30,436.94 516.60,437.37 515.90,437.73 515.20,438.09 514.50,438.54 513.80,438.87 513.10,438.79 512.40,438.34 511.70,437.75 511.00,437.13 510.30,436.59 509.60,436.16 508.90,435.74 508.20,435.24 507.50,434.71 506.80,434.27 506.10,434.02 505.40,433.96 504.70,433.95 504.00,433.81 503.30,433.49 502.60,433.13 501.90,432.87 501.20,432.77 500.50,432.81 499.80,432.86 499.10,432.82 498.40,432.71" fill="#ff8080" stroke="none" stroke-width="0" fill-opacity="0.52"/>
<polyline points="498.40,432.89 499.10,432.77 499.80,432.67 500.50,432.52 501.20,432.22 501.90,431.75 502.60,431.25 503.30,430.98 504.00,431.09 504.70,431.38 505.40,431.61 506.10,431.74 506.80,431.83 507.50,431.99 508.20,432.23 508.90,432.46 509.60,432.51 510.30,432.35 511.00,432.15 511.70,432.04 512.40,432.06 513.10,432.12 513.80,432.09 514.50,431.89 515.20,431.66 515.90,431.57 516.60,431.68 517.30,431.93 518.00,432.19 518.70,432.35 519.40,432.40 520.10,432.42 520.80,432.50 521.50,432.67 522.20,432.86 522.90,432.97 523.60,433.04 524.30,433.18 525.00,433.50 525.70,433.94 526.40,434.38 527.10,434.64 527.80,434.70 528.50,434.63 529.20,434.56 529.90,434.62 530.60,434.79 531.30,434.97 532.00,435.10 532.70,435.20 533.40,435.34 534.10,435.54 534.80,435.73 535.50,435.81 536.20,435.74 536.90,435.63 537.60,435.63 538.30,435.69 539.00,435.23 539.70,433.86 540.40,431.97 541.10,429.92 541.80,427.83 542.50,425.80 543.20,423.99 543.90,422.49 544.60,421.12 545.30,419.72 546.00,418.36 546.70,417.12 547.40,415.96 548.10,414.78 548.80,413.59 549.50,412.73 550.20,412.37 550.90,412.31 551.60,412.40 552.30,412.56 553.00,412.65 553.70,412.60 554.40,412.47 555.10,412.46 555.80,412.75 556.50,413.20 557.20,413.62 557.90,413.95 558.60,414.23 559.30,414.55 560.00,414.97 560.70,415.43 561.40,415.81 562.10,416.06 562.80,416.23 563.50,416.32 564.20,415.90 564.90,414.70 565.60,413.13 566.30,411.47 567.00,410.09 567.70,409.35 568.40,409.00 569.10,408.75 569.80,408.54 570.50,408.31 571.20,408.13 571.90,408.18 572.60,408.49 573.30,408.92 574.00,409.31 574.70,409.53 575.40,409.48 576.10,409.14 576.80,408.63 577.50,408.23 578.20,407.98 578.90,407.74 579.60,407.39 580.30,406.93 581.00,406.44 581.70,406.02 582.40,405.68 583.10,405.31 583.80,404.86 584.50,404.38 585.20,403.93 585.90,403.57 586.60,403.28 587.30,402.96 588.00,402.45 588.70,401.78 589.40,401.05 590.10,400.43 590.80,399.93 591.50,399.48 592.20,398.97 592.90,398.38 593.60,397.76 594.30,397.33 595.00,397.34 595.70,397.69 596.40,398.03 597.10,398.26 597.80,398.47 598.50,398.73 599.20,398.89 599.90,398.78 600.60,398.46 601.30,397.98 602.00,397.41 602.70,396.88 603.40,396.50 604.10,396.64 604.80,397.67 605.50,399.12 606.20,400.55 606.90,401.96 607.60,403.43 608.30,404.97 609.00,406.32 609.70,407.05 610.40,407.14 611.10,407.09 611.80,407.18 612.50,407.40 613.20,407.59 613.90,407.62 614.60,407.45 615.30,407.21 616.00,406.77 616.70,405.90 617.40,404.77 618.10,403.60 618.80,402.37 619.50,401.09 620.20,400.09 620.90,399.80 621.60,400.11 622.30,400.49 623.00,400.72 623.70,400.94 624.40,401.28 625.10,401.83 625.80,402.54 626.50,403.33 627.20,404.12 627.90,404.83 628.60,405.48 629.30,406.18 630.00,406.98 630.70,407.54 631.40,407.41 632.10,406.76 632.80,406.05 633.50,405.45 634.20,405.14 634.90,405.48 635.60,406.42 636.30,407.49 637.00,408.53 637.70,409.64 638.40,410.48 639.10,410.71 639.80,410.56 640.50,410.28 641.20,409.92 641.90,409.59 642.60,409.36 643.30,409.18 644.00,409.04 644.70,408.99 645.40,409.04 646.10,409.18 646.80,409.43 647.50,409.73 648.20,409.96 648.90,410.06 649.60,410.04 650.30,409.97 651.00,409.91 651.70,409.91 652.40,409.91 653.10,409.78 653.80,409.49 654.50,409.15 655.20,408.87 655.90,408.94 656.60,409.58 657.30,410.50 658.00,411.41 658.70,412.34 659.40,413.36 660.10,414.34 660.80,414.95 661.50,415.10 662.20,414.98 662.90,414.82 663.60,414.77 664.30,414.94 665.00,415.24 665.70,415.54 666.40,415.67 667.10,415.58 667.80,415.41 668.50,415.28 669.20,415.17 669.90,415.02 670.60,414.80 671.30,414.58 672.00,414.56 672.70,414.97 673.40,415.72 674.10,416.48 674.80,417.05 675.50,417.39 676.20,417.57" fill="none" stroke="#0000ff" stroke-width="2.3" stroke-linejoin="round" stroke-linecap="round" />
<polyline points="498.40,428.91 499.10,429.02 499.80,429.06 500.50,429.01 501.20,428.97 501.90,429.07 502.60,429.33 503.30,429.69 504.00,430.01 504.70,430.15 505.40,430.16 506.10,430.22 506.80,430.47 507.50,430.91 508.20,431.44 508.90,431.94 509.60,432.36 510.30,432.79 511.00,433.33 511.70,433.95 512.40,434.54 513.10,434.99 513.80,435.07 514.50,434.74 515.20,434.29 515.90,433.93 516.60,433.57 517.30,433.14 518.00,432.63 518.70,432.05 519.40,431.44 520.10,430.82 520.80,430.19 521.50,429.76 522.20,429.87 522.90,430.48 523.60,431.19 524.30,431.74 525.00,432.14 525.70,432.54 526.40,433.13 527.10,433.95 527.80,434.87 528.50,435.71 529.20,436.01 529.90,435.50 530.60,434.68 531.30,434.01 532.00,433.42 532.70,432.93 533.40,432.68 534.10,432.62 534.80,432.67 535.50,432.85 536.20,433.09 536.90,433.35 537.60,433.70 538.30,434.21 539.00,434.82 539.70,435.49 540.40,436.16 541.10,436.49 541.80,436.22 542.50,435.70 543.20,435.18 543.90,434.60 544.60,433.92 545.30,433.16 546.00,432.44 546.70,431.92 547.40,431.57 548.10,431.24 548.80,430.77 549.50,430.11 550.20,429.36 550.90,428.72 551.60,428.22 552.30,427.64 553.00,426.77 553.70,425.68 554.40,424.52 555.10,423.43 555.80,422.46 556.50,421.53 557.20,420.53 557.90,419.67 558.60,419.31 559.30,419.37 560.00,419.58 560.70,419.86 561.40,420.13 562.10,420.34 562.80,420.49 563.50,420.52 564.20,420.02 564.90,418.81 565.60,417.31 566.30,415.89 567.00,414.58 567.70,413.34 568.40,412.52 569.10,412.49 569.80,412.79 570.50,413.09 571.20,413.55 571.90,414.20 572.60,414.89 573.30,415.21 574.00,414.66 574.70,413.42 575.40,412.07 576.10,410.85 576.80,409.67 577.50,408.40 578.20,407.04 578.90,405.93 579.60,405.34 580.30,405.09 581.00,404.88 581.70,404.59 582.40,404.19 583.10,403.72 583.80,403.27 584.50,402.84 585.20,402.33 585.90,401.75 586.60,401.17 587.30,400.62 588.00,400.07 588.70,399.44 589.40,398.71 590.10,397.92 590.80,397.22 591.50,396.69 592.20,396.29 592.90,396.01 593.60,395.86 594.30,395.79 595.00,395.75 595.70,395.83 596.40,395.96 597.10,395.76 597.80,395.06 598.50,394.10 599.20,393.15 599.90,392.46 600.60,392.13 601.30,391.91 602.00,391.58 602.70,391.11 603.40,390.62 604.10,390.21 604.80,389.93 605.50,389.94 606.20,390.54 606.90,391.52 607.60,392.57 608.30,393.59 609.00,394.59 609.70,395.55 610.40,396.52 611.10,397.46 611.80,397.95 612.50,397.75 613.20,397.14 613.90,396.36 614.60,395.45 615.30,394.60 616.00,394.25 616.70,394.78 617.40,395.75 618.10,396.65 618.80,397.41 619.50,398.17 620.20,399.06 620.90,400.05 621.60,401.01 622.30,401.78 623.00,402.38 623.70,402.97 624.40,403.69 625.10,404.54 625.80,405.41 626.50,406.17 627.20,406.80 627.90,407.37 628.60,407.97 629.30,408.63 630.00,409.31 630.70,409.78 631.40,409.69 632.10,409.20 632.80,408.58 633.50,407.86 634.20,407.02 634.90,406.29 635.60,406.15 636.30,406.73 637.00,407.61 637.70,408.39 638.40,408.73 639.10,408.53 639.80,408.16 640.50,407.94 641.20,407.83 641.90,407.68 642.60,407.38 643.30,406.93 644.00,406.51 644.70,406.22 645.40,406.04 646.10,405.82 646.80,405.45 647.50,404.96 648.20,404.65 648.90,405.06 649.60,406.27 650.30,407.77 651.00,409.23 651.70,410.65 652.40,412.04 653.10,413.40 653.80,414.11 654.50,413.60 655.20,412.52 655.90,411.56 656.60,410.71 657.30,409.89 658.00,408.95 658.70,407.99 659.40,407.39 660.10,407.26 660.80,407.41 661.50,407.66 662.20,407.86 662.90,407.91 663.60,407.87 664.30,407.94 665.00,408.39 665.70,409.34 666.40,410.40 667.10,411.31 667.80,412.13 668.50,413.02 669.20,414.06 669.90,414.96 670.60,415.23 671.30,414.92 672.00,414.41 672.70,413.87 673.40,413.36 674.10,412.88 674.80,412.44 675.50,412.06 676.20,411.78" fill="none" stroke="#ff0000" stroke-width="2.3" stroke-linejoin="round" stroke-linecap="round" />
<polygon points="498.40,454.40 499.10,454.58 499.80,454.67 500.50,454.60 501.20,454.39 501.90,454.15 502.60,454.02 503.30,453.99 504.00,453.98 504.70,453.91 505.40,453.83 506.10,453.80 506.80,453.91 507.50,454.20 508.20,454.63 508.90,455.07 509.60,455.36 510.30,455.45 511.00,455.43 511.70,455.39 512.40,455.31 513.10,455.21 513.80,455.10 514.50,454.94 515.20,454.71 515.90,454.46 516.60,454.25 517.30,454.12 518.00,453.99 518.70,453.79 519.40,453.50 520.10,453.24 520.80,453.19 521.50,453.32 522.20,453.58 522.90,453.91 523.60,454.22 524.30,454.46 525.00,454.62 525.70,454.73 526.40,454.84 527.10,454.95 527.80,455.02 528.50,454.98 529.20,454.88 529.90,454.81 530.60,454.79 531.30,454.79 532.00,454.76 532.70,454.68 533.40,454.55 534.10,454.39 534.80,454.28 535.50,454.30 536.20,454.41 536.90,454.54 537.60,454.72 538.30,454.86 539.00,454.61 539.70,453.77 540.40,452.60 541.10,451.31 541.80,449.91 542.50,448.49 543.20,447.14 543.90,445.92 544.60,444.78 545.30,443.63 546.00,442.49 546.70,441.48 547.40,440.61 548.10,439.83 548.80,439.12 549.50,438.38 550.20,437.63 550.90,437.20 551.60,437.33 552.30,437.81 553.00,438.48 553.70,439.31 554.40,440.14 555.10,440.47 555.80,439.90 556.50,438.87 557.20,437.88 557.90,437.03 558.60,436.30 559.30,435.82 560.00,435.82 560.70,436.15 561.40,436.58 562.10,437.13 562.80,437.84 563.50,438.59 564.20,439.23 564.90,439.56 565.60,439.28 566.30,438.40 567.00,437.45 567.70,436.72 568.40,436.11 569.10,435.44 569.80,434.60 570.50,433.62 571.20,432.73 571.90,432.19 572.60,431.96 573.30,431.79 574.00,431.53 574.70,431.13 575.40,430.69 576.10,430.36 576.80,430.17 577.50,429.98 578.20,429.56 578.90,428.91 579.60,428.06 580.30,427.11 581.00,426.21 581.70,426.03 582.40,427.12 583.10,428.82 583.80,430.46 584.50,431.87 585.20,432.57 585.90,432.43 586.60,431.98 587.30,431.54 588.00,431.03 588.70,430.41 589.40,429.72 590.10,429.06 590.80,428.34 591.50,427.33 592.20,426.13 592.90,424.86 593.60,423.51 594.30,422.36 595.00,422.00 595.70,422.40 596.40,423.04 597.10,423.70 597.80,424.37 598.50,425.07 599.20,425.78 599.90,426.27 600.60,426.38 601.30,426.26 602.00,426.09 602.70,425.87 603.40,425.62 604.10,425.37 604.80,425.14 605.50,425.06 606.20,425.33 606.90,425.88 607.60,426.54 608.30,427.25 609.00,427.96 609.70,428.58 610.40,428.99 611.10,429.21 611.80,429.38 612.50,429.64 613.20,430.01 613.90,430.47 614.60,430.92 615.30,431.29 616.00,431.23 616.70,430.34 617.40,429.01 618.10,427.67 618.80,426.31 619.50,424.84 620.20,423.26 620.90,422.04 621.60,421.97 622.30,423.02 623.00,424.50 623.70,425.96 624.40,427.27 625.10,428.38 625.80,429.40 626.50,430.47 627.20,431.68 627.90,432.65 628.60,432.87 629.30,432.62 630.00,432.27 630.70,431.91 631.40,431.68 632.10,431.58 632.80,431.52 633.50,431.41 634.20,431.29 634.90,431.20 635.60,431.18 636.30,431.36 637.00,431.75 637.70,432.26 638.40,432.75 639.10,433.15 639.80,433.45 640.50,433.74 641.20,434.13 641.90,434.65 642.60,435.18 643.30,435.61 644.00,435.86 644.70,435.92 645.40,435.97 646.10,436.18 646.80,436.51 647.50,436.80 648.20,436.92 648.90,436.84 649.60,436.65 650.30,436.45 651.00,436.31 651.70,436.25 652.40,436.23 653.10,436.12 653.80,435.92 654.50,435.69 655.20,435.51 655.90,435.47 656.60,435.61 657.30,435.78 658.00,435.85 658.70,435.86 659.40,435.92 660.10,436.10 660.80,436.41 661.50,436.79 662.20,437.17 662.90,437.52 663.60,437.80 664.30,438.04 665.00,438.30 665.70,438.61 666.40,438.94 667.10,439.28 667.80,439.64 668.50,440.03 669.20,440.32 669.90,440.31 670.60,440.09 671.30,439.79 672.00,439.43 672.70,439.04 673.40,438.66 674.10,438.30 674.80,437.98 675.50,437.70 676.20,437.49 676.20,445.09 675.50,445.30 674.80,445.58 674.10,445.90 673.40,446.26 672.70,446.64 672.00,447.03 671.30,447.39 670.60,447.69 669.90,447.91 669.20,447.92 668.50,447.63 667.80,447.24 667.10,446.88 666.40,446.54 665.70,446.21 665.00,445.90 664.30,445.64 663.60,445.40 662.90,445.12 662.20,444.77 661.50,444.39 660.80,444.01 660.10,443.70 659.40,443.52 658.70,443.46 658.00,443.45 657.30,443.38 656.60,443.21 655.90,443.07 655.20,443.11 654.50,443.29 653.80,443.52 653.10,443.72 652.40,443.83 651.70,443.85 651.00,443.91 650.30,444.05 649.60,444.25 648.90,444.44 648.20,444.52 647.50,444.40 646.80,444.11 646.10,443.78 645.40,443.57 644.70,443.52 644.00,443.46 643.30,443.21 642.60,442.78 641.90,442.25 641.20,441.73 640.50,441.34 639.80,441.05 639.10,440.75 638.40,440.35 637.70,439.86 637.00,439.35 636.30,438.96 635.60,438.78 634.90,438.80 634.20,438.89 633.50,439.01 632.80,439.12 632.10,439.18 631.40,439.28 630.70,439.51 630.00,439.87 629.30,440.22 628.60,440.47 627.90,440.25 627.20,439.28 626.50,438.07 625.80,437.00 625.10,435.98 624.40,434.87 623.70,433.56 623.00,432.10 622.30,430.62 621.60,429.57 620.90,429.64 620.20,430.86 619.50,432.44 618.80,433.91 618.10,435.27 617.40,436.61 616.70,437.94 616.00,438.83 615.30,438.89 614.60,438.52 613.90,438.07 613.20,437.61 612.50,437.24 611.80,436.98 611.10,436.81 610.40,436.59 609.70,436.18 609.00,435.56 608.30,434.85 607.60,434.14 606.90,433.48 606.20,432.93 605.50,432.66 604.80,432.74 604.10,432.97 603.40,433.22 602.70,433.47 602.00,433.69 601.30,433.86 600.60,433.98 599.90,433.87 599.20,433.38 598.50,432.67 597.80,431.97 597.10,431.30 596.40,430.64 595.70,430.00 595.00,429.60 594.30,429.96 593.60,431.11 592.90,432.46 592.20,433.73 591.50,434.93 590.80,435.94 590.10,436.66 589.40,437.32 588.70,438.01 588.00,438.63 587.30,439.14 586.60,439.58 585.90,440.03 585.20,440.17 584.50,439.47 583.80,438.06 583.10,436.42 582.40,434.72 581.70,433.63 581.00,433.81 580.30,434.71 579.60,435.66 578.90,436.51 578.20,437.16 577.50,437.58 576.80,437.77 576.10,437.96 575.40,438.29 574.70,438.73 574.00,439.13 573.30,439.39 572.60,439.56 571.90,439.79 571.20,440.33 570.50,441.22 569.80,442.20 569.10,443.04 568.40,443.71 567.70,444.32 567.00,445.05 566.30,446.00 565.60,446.88 564.90,447.16 564.20,446.83 563.50,446.19 562.80,445.44 562.10,444.73 561.40,444.18 560.70,443.75 560.00,443.42 559.30,443.42 558.60,443.90 557.90,444.63 557.20,445.48 556.50,446.47 555.80,447.50 555.10,448.07 554.40,447.74 553.70,446.91 553.00,446.08 552.30,445.41 551.60,444.93 550.90,444.80 550.20,445.23 549.50,445.98 548.80,446.72 548.10,447.43 547.40,448.21 546.70,449.08 546.00,450.09 545.30,451.23 544.60,452.38 543.90,453.52 543.20,454.74 542.50,456.09 541.80,457.51 541.10,458.91 540.40,460.20 539.70,461.37 539.00,462.21 538.30,462.46 537.60,462.32 536.90,462.14 536.20,462.01 535.50,461.90 534.80,461.88 534.10,461.99 533.40,462.15 532.70,462.28 532.00,462.36 531.30,462.39 530.60,462.39 529.90,462.41 529.20,462.48 528.50,462.58 527.80,462.62 527.10,462.55 526.40,462.44 525.70,462.33 525.00,462.22 524.30,462.06 523.60,461.82 522.90,461.51 522.20,461.18 521.50,460.92 520.80,460.79 520.10,460.84 519.40,461.10 518.70,461.39 518.00,461.59 517.30,461.72 516.60,461.85 515.90,462.06 515.20,462.31 514.50,462.54 513.80,462.70 513.10,462.81 512.40,462.91 511.70,462.99 511.00,463.03 510.30,463.05 509.60,462.96 508.90,462.67 508.20,462.23 507.50,461.80 506.80,461.51 506.10,461.40 505.40,461.43 504.70,461.51 504.00,461.58 503.30,461.59 502.60,461.62 501.90,461.75 501.20,461.99 500.50,462.20 499.80,462.27 499.10,462.18 498.40,462.00" fill="#8080ff" stroke="none" stroke-width="0" fill-opacity="0.5"/>
<polygon points="498.40,454.49 499.10,454.54 499.80,454.79 500.50,455.17 501.20,455.51 501.90,455.67 502.60,455.67 503.30,455.65 504.00,455.72 504.70,455.86 505.40,455.94 506.10,455.86 506.80,455.63 507.50,455.46 508.20,455.46 508.90,455.46 509.60,455.26 510.30,454.79 511.00,454.19 511.70,453.67 512.40,453.36 513.10,453.21 513.80,453.08 514.50,452.91 515.20,452.86 515.90,453.05 516.60,453.34 517.30,453.53 518.00,453.53 518.70,453.38 519.40,453.27 520.10,453.38 520.80,453.73 521.50,454.14 522.20,454.35 522.90,454.28 523.60,454.09 524.30,453.96 525.00,453.90 525.70,453.82 526.40,453.63 527.10,453.39 527.80,453.23 528.50,453.24 529.20,453.35 529.90,453.53 530.60,453.80 531.30,454.13 532.00,454.51 532.70,455.05 533.40,455.71 534.10,456.31 534.80,456.75 535.50,457.08 536.20,457.44 536.90,457.78 537.60,457.85 538.30,457.66 539.00,457.35 539.70,457.00 540.40,456.73 541.10,456.55 541.80,456.37 542.50,456.02 543.20,455.47 543.90,454.88 544.60,454.45 545.30,454.21 546.00,454.06 546.70,453.85 547.40,453.47 548.10,452.97 548.80,452.37 549.50,451.57 550.20,450.56 550.90,449.41 551.60,448.21 552.30,447.12 553.00,446.29 553.70,445.87 554.40,445.81 555.10,445.70 555.80,445.34 556.50,444.87 557.20,444.48 557.90,444.23 558.60,444.06 559.30,443.85 560.00,443.63 560.70,443.49 561.40,443.57 562.10,443.76 562.80,443.85 563.50,443.73 564.20,443.47 564.90,443.26 565.60,443.25 566.30,443.39 567.00,443.46 567.70,443.28 568.40,442.93 569.10,442.61 569.80,442.40 570.50,442.26 571.20,442.06 571.90,441.72 572.60,441.34 573.30,441.06 574.00,440.95 574.70,440.89 575.40,440.73 576.10,440.43 576.80,440.10 577.50,439.90 578.20,439.87 578.90,439.65 579.60,438.90 580.30,437.76 581.00,436.49 581.70,435.26 582.40,434.16 583.10,433.35 583.80,433.01 584.50,432.86 585.20,432.46 585.90,431.75 586.60,430.95 587.30,430.06 588.00,428.93 588.70,427.58 589.40,426.20 590.10,424.99 590.80,423.95 591.50,422.89 592.20,421.70 592.90,420.41 593.60,419.07 594.30,417.77 595.00,416.73 595.70,416.47 596.40,417.04 597.10,417.90 597.80,418.90 598.50,420.05 599.20,420.95 599.90,421.26 600.60,421.14 601.30,420.83 602.00,420.49 602.70,420.23 603.40,420.04 604.10,419.87 604.80,419.72 605.50,419.60 606.20,419.59 606.90,419.74 607.60,419.94 608.30,420.03 609.00,419.93 609.70,419.75 610.40,419.73 611.10,420.15 611.80,421.03 612.50,421.96 613.20,422.73 613.90,423.44 614.60,424.23 615.30,425.18 616.00,426.20 616.70,426.92 617.40,426.99 618.10,426.69 618.80,426.44 619.50,426.26 620.20,426.17 620.90,426.30 621.60,426.66 622.30,427.17 623.00,427.89 623.70,428.84 624.40,429.66 625.10,429.49 625.80,427.96 626.50,425.86 627.20,423.78 627.90,421.75 628.60,420.77 629.30,421.82 630.00,423.93 630.70,426.18 631.40,428.64 632.10,430.80 632.80,431.90 633.50,432.01 634.20,431.75 634.90,431.46 635.60,431.32 636.30,431.43 637.00,431.91 637.70,432.77 638.40,433.77 639.10,434.83 639.80,435.98 640.50,436.69 641.20,436.40 641.90,435.50 642.60,434.52 643.30,433.68 644.00,433.17 644.70,433.06 645.40,433.10 646.10,433.03 646.80,432.86 647.50,432.74 648.20,432.74 648.90,432.78 649.60,432.73 650.30,432.55 651.00,432.33 651.70,432.06 652.40,431.66 653.10,431.15 653.80,430.52 654.50,429.77 655.20,429.04 655.90,428.47 656.60,428.06 657.30,427.68 658.00,427.20 658.70,426.58 659.40,425.91 660.10,425.35 660.80,424.93 661.50,424.57 662.20,424.18 662.90,423.83 663.60,423.99 664.30,424.84 665.00,425.95 665.70,426.93 666.40,427.67 667.10,428.27 667.80,428.93 668.50,429.85 669.20,430.98 669.90,432.02 670.60,432.59 671.30,432.76 672.00,432.82 672.70,432.90 673.40,432.97 674.10,432.94 674.80,432.79 675.50,432.65 676.20,432.62 676.20,440.22 675.50,440.25 674.80,440.39 674.10,440.54 673.40,440.57 672.70,440.50 672.00,440.42 671.30,440.36 670.60,440.19 669.90,439.62 669.20,438.58 668.50,437.45 667.80,436.53 667.10,435.87 666.40,435.27 665.70,434.53 665.00,433.55 664.30,432.44 663.60,431.59 662.90,431.43 662.20,431.78 661.50,432.17 660.80,432.53 660.10,432.95 659.40,433.51 658.70,434.18 658.00,434.80 657.30,435.28 656.60,435.66 655.90,436.07 655.20,436.64 654.50,437.37 653.80,438.12 653.10,438.75 652.40,439.26 651.70,439.66 651.00,439.93 650.30,440.15 649.60,440.33 648.90,440.38 648.20,440.34 647.50,440.34 646.80,440.46 646.10,440.63 645.40,440.70 644.70,440.66 644.00,440.77 643.30,441.28 642.60,442.12 641.90,443.10 641.20,444.00 640.50,444.29 639.80,443.58 639.10,442.43 638.40,441.37 637.70,440.37 637.00,439.51 636.30,439.03 635.60,438.92 634.90,439.06 634.20,439.35 633.50,439.61 632.80,439.50 632.10,438.40 631.40,436.24 630.70,433.78 630.00,431.53 629.30,429.42 628.60,428.37 627.90,429.35 627.20,431.38 626.50,433.46 625.80,435.56 625.10,437.09 624.40,437.26 623.70,436.44 623.00,435.49 622.30,434.77 621.60,434.26 620.90,433.90 620.20,433.77 619.50,433.86 618.80,434.04 618.10,434.29 617.40,434.59 616.70,434.52 616.00,433.80 615.30,432.78 614.60,431.83 613.90,431.04 613.20,430.33 612.50,429.56 611.80,428.63 611.10,427.75 610.40,427.33 609.70,427.35 609.00,427.53 608.30,427.63 607.60,427.54 606.90,427.34 606.20,427.19 605.50,427.20 604.80,427.32 604.10,427.47 603.40,427.64 602.70,427.83 602.00,428.09 601.30,428.43 600.60,428.74 599.90,428.86 599.20,428.55 598.50,427.65 597.80,426.50 597.10,425.50 596.40,424.64 595.70,424.07 595.00,424.33 594.30,425.37 593.60,426.67 592.90,428.01 592.20,429.30 591.50,430.49 590.80,431.55 590.10,432.59 589.40,433.80 588.70,435.18 588.00,436.53 587.30,437.66 586.60,438.55 585.90,439.35 585.20,440.06 584.50,440.46 583.80,440.61 583.10,440.95 582.40,441.76 581.70,442.86 581.00,444.09 580.30,445.36 579.60,446.50 578.90,447.25 578.20,447.47 577.50,447.50 576.80,447.70 576.10,448.03 575.40,448.33 574.70,448.49 574.00,448.55 573.30,448.66 572.60,448.94 571.90,449.32 571.20,449.66 570.50,449.86 569.80,450.00 569.10,450.21 568.40,450.53 567.70,450.88 567.00,451.06 566.30,450.99 565.60,450.85 564.90,450.86 564.20,451.07 563.50,451.33 562.80,451.45 562.10,451.36 561.40,451.17 560.70,451.09 560.00,451.23 559.30,451.45 558.60,451.66 557.90,451.83 557.20,452.08 556.50,452.47 555.80,452.94 555.10,453.30 554.40,453.41 553.70,453.47 553.00,453.89 552.30,454.72 551.60,455.81 550.90,457.01 550.20,458.16 549.50,459.17 548.80,459.97 548.10,460.57 547.40,461.07 546.70,461.45 546.00,461.66 545.30,461.81 544.60,462.05 543.90,462.48 543.20,463.07 542.50,463.62 541.80,463.97 541.10,464.15 540.40,464.33 539.70,464.60 539.00,464.95 538.30,465.26 537.60,465.45 536.90,465.38 536.20,465.04 535.50,464.68 534.80,464.35 534.10,463.91 533.40,463.31 532.70,462.65 532.00,462.11 531.30,461.73 530.60,461.40 529.90,461.13 529.20,460.95 528.50,460.84 527.80,460.83 527.10,460.99 526.40,461.23 525.70,461.42 525.00,461.50 524.30,461.56 523.60,461.69 522.90,461.88 522.20,461.95 521.50,461.74 520.80,461.33 520.10,460.98 519.40,460.87 518.70,460.98 518.00,461.13 517.30,461.13 516.60,460.94 515.90,460.65 515.20,460.46 514.50,460.51 513.80,460.68 513.10,460.81 512.40,460.96 511.70,461.27 511.00,461.79 510.30,462.39 509.60,462.86 508.90,463.06 508.20,463.06 507.50,463.06 506.80,463.23 506.10,463.46 505.40,463.54 504.70,463.46 504.00,463.32 503.30,463.25 502.60,463.27 501.90,463.27 501.20,463.11 500.50,462.77 499.80,462.39 499.10,462.14 498.40,462.09" fill="#ff8080" stroke="none" stroke-width="0" fill-opacity="0.52"/>
<polyline points="498.40,458.20 499.10,458.38 499.80,458.47 500.50,458.40 501.20,458.19 501.90,457.95 502.60,457.82 503.30,457.79 504.00,457.78 504.70,457.71 505.40,457.63 506.10,457.60 506.80,457.71 507.50,458.00 508.20,458.43 508.90,458.87 509.60,459.16 510.30,459.25 511.00,459.23 511.70,459.19 512.40,459.11 513.10,459.01 513.80,458.90 514.50,458.74 515.20,458.51 515.90,458.26 516.60,458.05 517.30,457.92 518.00,457.79 518.70,457.59 519.40,457.30 520.10,457.04 520.80,456.99 521.50,457.12 522.20,457.38 522.90,457.71 523.60,458.02 524.30,458.26 525.00,458.42 525.70,458.53 526.40,458.64 527.10,458.75 527.80,458.82 528.50,458.78 529.20,458.68 529.90,458.61 530.60,458.59 531.30,458.59 532.00,458.56 532.70,458.48 533.40,458.35 534.10,458.19 534.80,458.08 535.50,458.10 536.20,458.21 536.90,458.34 537.60,458.52 538.30,458.66 539.00,458.41 539.70,457.57 540.40,456.40 541.10,455.11 541.80,453.71 542.50,452.29 543.20,450.94 543.90,449.72 544.60,448.58 545.30,447.43 546.00,446.29 546.70,445.28 547.40,444.41 548.10,443.63 548.80,442.92 549.50,442.18 550.20,441.43 550.90,441.00 551.60,441.13 552.30,441.61 553.00,442.28 553.70,443.11 554.40,443.94 555.10,444.27 555.80,443.70 556.50,442.67 557.20,441.68 557.90,440.83 558.60,440.10 559.30,439.62 560.00,439.62 560.70,439.95 561.40,440.38 562.10,440.93 562.80,441.64 563.50,442.39 564.20,443.03 564.90,443.36 565.60,443.08 566.30,442.20 567.00,441.25 567.70,440.52 568.40,439.91 569.10,439.24 569.80,438.40 570.50,437.42 571.20,436.53 571.90,435.99 572.60,435.76 573.30,435.59 574.00,435.33 574.70,434.93 575.40,434.49 576.10,434.16 576.80,433.97 577.50,433.78 578.20,433.36 578.90,432.71 579.60,431.86 580.30,430.91 581.00,430.01 581.70,429.83 582.40,430.92 583.10,432.62 583.80,434.26 584.50,435.67 585.20,436.37 585.90,436.23 586.60,435.78 587.30,435.34 588.00,434.83 588.70,434.21 589.40,433.52 590.10,432.86 590.80,432.14 591.50,431.13 592.20,429.93 592.90,428.66 593.60,427.31 594.30,426.16 595.00,425.80 595.70,426.20 596.40,426.84 597.10,427.50 597.80,428.17 598.50,428.87 599.20,429.58 599.90,430.07 600.60,430.18 601.30,430.06 602.00,429.89 602.70,429.67 603.40,429.42 604.10,429.17 604.80,428.94 605.50,428.86 606.20,429.13 606.90,429.68 607.60,430.34 608.30,431.05 609.00,431.76 609.70,432.38 610.40,432.79 611.10,433.01 611.80,433.18 612.50,433.44 613.20,433.81 613.90,434.27 614.60,434.72 615.30,435.09 616.00,435.03 616.70,434.14 617.40,432.81 618.10,431.47 618.80,430.11 619.50,428.64 620.20,427.06 620.90,425.84 621.60,425.77 622.30,426.82 623.00,428.30 623.70,429.76 624.40,431.07 625.10,432.18 625.80,433.20 626.50,434.27 627.20,435.48 627.90,436.45 628.60,436.67 629.30,436.42 630.00,436.07 630.70,435.71 631.40,435.48 632.10,435.38 632.80,435.32 633.50,435.21 634.20,435.09 634.90,435.00 635.60,434.98 636.30,435.16 637.00,435.55 637.70,436.06 638.40,436.55 639.10,436.95 639.80,437.25 640.50,437.54 641.20,437.93 641.90,438.45 642.60,438.98 643.30,439.41 644.00,439.66 644.70,439.72 645.40,439.77 646.10,439.98 646.80,440.31 647.50,440.60 648.20,440.72 648.90,440.64 649.60,440.45 650.30,440.25 651.00,440.11 651.70,440.05 652.40,440.03 653.10,439.92 653.80,439.72 654.50,439.49 655.20,439.31 655.90,439.27 656.60,439.41 657.30,439.58 658.00,439.65 658.70,439.66 659.40,439.72 660.10,439.90 660.80,440.21 661.50,440.59 662.20,440.97 662.90,441.32 663.60,441.60 664.30,441.84 665.00,442.10 665.70,442.41 666.40,442.74 667.10,443.08 667.80,443.44 668.50,443.83 669.20,444.12 669.90,444.11 670.60,443.89 671.30,443.59 672.00,443.23 672.70,442.84 673.40,442.46 674.10,442.10 674.80,441.78 675.50,441.50 676.20,441.29" fill="none" stroke="#0000ff" stroke-width="2.3" stroke-linejoin="round" stroke-linecap="round" />
<polyline points="498.40,458.29 499.10,458.34 499.80,458.59 500.50,458.97 501.20,459.31 501.90,459.47 502.60,459.47 503.30,459.45 504.00,459.52 504.70,459.66 505.40,459.74 506.10,459.66 506.80,459.43 507.50,459.26 508.20,459.26 508.90,459.26 509.60,459.06 510.30,458.59 511.00,457.99 511.70,457.47 512.40,457.16 513.10,457.01 513.80,456.88 514.50,456.71 515.20,456.66 515.90,456.85 516.60,457.14 517.30,457.33 518.00,457.33 518.70,457.18 519.40,457.07 520.10,457.18 520.80,457.53 521.50,457.94 522.20,458.15 522.90,458.08 523.60,457.89 524.30,457.76 525.00,457.70 525.70,457.62 526.40,457.43 527.10,457.19 527.80,457.03 528.50,457.04 529.20,457.15 529.90,457.33 530.60,457.60 531.30,457.93 532.00,458.31 532.70,458.85 533.40,459.51 534.10,460.11 534.80,460.55 535.50,460.88 536.20,461.24 536.90,461.58 537.60,461.65 538.30,461.46 539.00,461.15 539.70,460.80 540.40,460.53 541.10,460.35 541.80,460.17 542.50,459.82 543.20,459.27 543.90,458.68 544.60,458.25 545.30,458.01 546.00,457.86 546.70,457.65 547.40,457.27 548.10,456.77 548.80,456.17 549.50,455.37 550.20,454.36 550.90,453.21 551.60,452.01 552.30,450.92 553.00,450.09 553.70,449.67 554.40,449.61 555.10,449.50 555.80,449.14 556.50,448.67 557.20,448.28 557.90,448.03 558.60,447.86 559.30,447.65 560.00,447.43 560.70,447.29 561.40,447.37 562.10,447.56 562.80,447.65 563.50,447.53 564.20,447.27 564.90,447.06 565.60,447.05 566.30,447.19 567.00,447.26 567.70,447.08 568.40,446.73 569.10,446.41 569.80,446.20 570.50,446.06 571.20,445.86 571.90,445.52 572.60,445.14 573.30,444.86 574.00,444.75 574.70,444.69 575.40,444.53 576.10,444.23 576.80,443.90 577.50,443.70 578.20,443.67 578.90,443.45 579.60,442.70 580.30,441.56 581.00,440.29 581.70,439.06 582.40,437.96 583.10,437.15 583.80,436.81 584.50,436.66 585.20,436.26 585.90,435.55 586.60,434.75 587.30,433.86 588.00,432.73 588.70,431.38 589.40,430.00 590.10,428.79 590.80,427.75 591.50,426.69 592.20,425.50 592.90,424.21 593.60,422.87 594.30,421.57 595.00,420.53 595.70,420.27 596.40,420.84 597.10,421.70 597.80,422.70 598.50,423.85 599.20,424.75 599.90,425.06 600.60,424.94 601.30,424.63 602.00,424.29 602.70,424.03 603.40,423.84 604.10,423.67 604.80,423.52 605.50,423.40 606.20,423.39 606.90,423.54 607.60,423.74 608.30,423.83 609.00,423.73 609.70,423.55 610.40,423.53 611.10,423.95 611.80,424.83 612.50,425.76 613.20,426.53 613.90,427.24 614.60,428.03 615.30,428.98 616.00,430.00 616.70,430.72 617.40,430.79 618.10,430.49 618.80,430.24 619.50,430.06 620.20,429.97 620.90,430.10 621.60,430.46 622.30,430.97 623.00,431.69 623.70,432.64 624.40,433.46 625.10,433.29 625.80,431.76 626.50,429.66 627.20,427.58 627.90,425.55 628.60,424.57 629.30,425.62 630.00,427.73 630.70,429.98 631.40,432.44 632.10,434.60 632.80,435.70 633.50,435.81 634.20,435.55 634.90,435.26 635.60,435.12 636.30,435.23 637.00,435.71 637.70,436.57 638.40,437.57 639.10,438.63 639.80,439.78 640.50,440.49 641.20,440.20 641.90,439.30 642.60,438.32 643.30,437.48 644.00,436.97 644.70,436.86 645.40,436.90 646.10,436.83 646.80,436.66 647.50,436.54 648.20,436.54 648.90,436.58 649.60,436.53 650.30,436.35 651.00,436.13 651.70,435.86 652.40,435.46 653.10,434.95 653.80,434.32 654.50,433.57 655.20,432.84 655.90,432.27 656.60,431.86 657.30,431.48 658.00,431.00 658.70,430.38 659.40,429.71 660.10,429.15 660.80,428.73 661.50,428.37 662.20,427.98 662.90,427.63 663.60,427.79 664.30,428.64 665.00,429.75 665.70,430.73 666.40,431.47 667.10,432.07 667.80,432.73 668.50,433.65 669.20,434.78 669.90,435.82 670.60,436.39 671.30,436.56 672.00,436.62 672.70,436.70 673.40,436.77 674.10,436.74 674.80,436.59 675.50,436.45 676.20,436.42" fill="none" stroke="#ff0000" stroke-width="2.3" stroke-linejoin="round" stroke-linecap="round" />
<polygon points="498.40,480.83 499.10,481.23 499.80,481.68 500.50,482.18 501.20,482.66 501.90,483.10 502.60,483.53 503.30,483.98 504.00,484.48 504.70,484.85 505.40,484.87 506.10,484.61 506.80,484.26 507.50,483.88 508.20,483.53 508.90,483.27 509.60,483.08 510.30,482.90 511.00,482.68 511.70,482.44 512.40,482.29 513.10,482.26 513.80,482.31 514.50,482.40 515.20,482.46 515.90,482.46 516.60,482.40 517.30,482.36 518.00,482.40 518.70,482.56 519.40,482.78 520.10,482.93 520.80,482.85 521.50,482.56 522.20,482.17 522.90,481.83 523.60,481.65 524.30,481.68 525.00,481.82 525.70,481.93 526.40,481.87 527.10,481.62 527.80,481.23 528.50,480.87 529.20,480.64 529.90,480.57 530.60,480.60 531.30,480.60 532.00,480.50 532.70,480.29 533.40,480.04 534.10,479.74 534.80,479.28 535.50,478.64 536.20,477.93 536.90,477.17 537.60,476.37 538.30,475.58 539.00,474.85 539.70,474.20 540.40,473.56 541.10,472.89 541.80,472.13 542.50,471.31 543.20,470.46 543.90,469.66 544.60,468.94 545.30,468.26 546.00,467.58 546.70,466.87 547.40,466.12 548.10,465.38 548.80,464.84 549.50,464.91 550.20,465.60 550.90,466.47 551.60,467.26 552.30,468.03 553.00,468.86 553.70,469.83 554.40,470.88 555.10,471.56 555.80,471.50 556.50,470.96 557.20,470.25 557.90,469.50 558.60,468.85 559.30,468.40 560.00,468.14 560.70,467.93 561.40,467.62 562.10,467.13 562.80,466.69 563.50,466.71 564.20,467.20 564.90,467.92 565.60,468.75 566.30,469.60 567.00,470.39 567.70,471.08 568.40,471.39 569.10,471.10 569.80,470.55 570.50,470.06 571.20,469.56 571.90,468.99 572.60,468.36 573.30,467.69 574.00,467.08 574.70,466.55 575.40,466.10 576.10,465.70 576.80,465.27 577.50,464.76 578.20,464.19 578.90,463.61 579.60,463.07 580.30,462.59 581.00,462.32 581.70,462.41 582.40,462.66 583.10,462.92 583.80,463.21 584.50,463.45 585.20,463.34 585.90,462.69 586.60,461.76 587.30,460.76 588.00,459.79 588.70,458.94 589.40,458.25 590.10,457.65 590.80,457.04 591.50,456.27 592.20,455.30 592.90,454.48 593.60,454.33 594.30,454.81 595.00,455.60 595.70,456.52 596.40,457.43 597.10,458.10 597.80,458.13 598.50,457.42 599.20,456.48 599.90,455.65 600.60,454.93 601.30,454.26 602.00,453.55 602.70,452.75 603.40,451.88 604.10,451.24 604.80,451.13 605.50,451.38 606.20,451.69 606.90,451.94 607.60,452.09 608.30,452.17 609.00,452.19 609.70,452.14 610.40,452.02 611.10,451.90 611.80,451.79 612.50,451.61 613.20,451.38 613.90,451.41 614.60,451.93 615.30,452.72 616.00,453.54 616.70,454.37 617.40,454.99 618.10,455.19 618.80,455.16 619.50,455.15 620.20,455.15 620.90,455.10 621.60,454.89 622.30,454.43 623.00,453.77 623.70,453.14 624.40,452.71 625.10,452.86 625.80,453.74 626.50,454.85 627.20,455.78 627.90,456.54 628.60,457.22 629.30,457.96 630.00,458.86 630.70,459.91 631.40,461.02 632.10,461.84 632.80,462.02 633.50,461.70 634.20,461.27 634.90,460.92 635.60,460.75 636.30,460.89 637.00,461.27 637.70,461.66 638.40,461.97 639.10,462.26 639.80,462.63 640.50,463.11 641.20,463.63 641.90,464.05 642.60,464.34 643.30,464.50 644.00,464.59 644.70,464.72 645.40,464.95 646.10,465.29 646.80,465.66 647.50,465.94 648.20,466.09 648.90,466.15 649.60,466.17 650.30,466.19 651.00,466.23 651.70,466.28 652.40,466.31 653.10,466.28 653.80,466.18 654.50,466.09 655.20,466.05 655.90,466.00 656.60,465.86 657.30,465.58 658.00,465.20 658.70,464.70 659.40,463.97 660.10,463.09 660.80,462.26 661.50,461.65 662.20,461.64 662.90,462.26 663.60,463.04 664.30,463.81 665.00,464.65 665.70,465.29 666.40,465.43 667.10,465.28 667.80,465.03 668.50,464.66 669.20,464.24 669.90,463.87 670.60,463.67 671.30,463.73 672.00,463.90 672.70,464.00 673.40,463.99 674.10,463.93 674.80,463.92 675.50,464.03 676.20,464.24 676.20,471.84 675.50,471.63 674.80,471.52 674.10,471.53 673.40,471.59 672.70,471.60 672.00,471.50 671.30,471.33 670.60,471.27 669.90,471.47 669.20,471.84 668.50,472.26 667.80,472.63 667.10,472.88 666.40,473.03 665.70,472.89 665.00,472.25 664.30,471.41 663.60,470.64 662.90,469.86 662.20,469.24 661.50,469.25 660.80,469.86 660.10,470.69 659.40,471.57 658.70,472.30 658.00,472.80 657.30,473.18 656.60,473.46 655.90,473.60 655.20,473.65 654.50,473.69 653.80,473.78 653.10,473.88 652.40,473.91 651.70,473.88 651.00,473.83 650.30,473.79 649.60,473.77 648.90,473.75 648.20,473.69 647.50,473.54 646.80,473.26 646.10,472.89 645.40,472.55 644.70,472.32 644.00,472.19 643.30,472.10 642.60,471.94 641.90,471.65 641.20,471.23 640.50,470.71 639.80,470.23 639.10,469.86 638.40,469.57 637.70,469.26 637.00,468.87 636.30,468.49 635.60,468.35 634.90,468.52 634.20,468.87 633.50,469.30 632.80,469.62 632.10,469.44 631.40,468.62 630.70,467.51 630.00,466.46 629.30,465.56 628.60,464.82 627.90,464.14 627.20,463.38 626.50,462.45 625.80,461.34 625.10,460.46 624.40,460.31 623.70,460.74 623.00,461.37 622.30,462.03 621.60,462.49 620.90,462.70 620.20,462.75 619.50,462.75 618.80,462.76 618.10,462.79 617.40,462.59 616.70,461.97 616.00,461.14 615.30,460.32 614.60,459.53 613.90,459.01 613.20,458.98 612.50,459.21 611.80,459.39 611.10,459.50 610.40,459.62 609.70,459.74 609.00,459.79 608.30,459.77 607.60,459.69 606.90,459.54 606.20,459.29 605.50,458.98 604.80,458.73 604.10,458.84 603.40,459.48 602.70,460.35 602.00,461.15 601.30,461.86 600.60,462.53 599.90,463.25 599.20,464.08 598.50,465.02 597.80,465.73 597.10,465.70 596.40,465.03 595.70,464.12 595.00,463.20 594.30,462.41 593.60,461.93 592.90,462.08 592.20,462.90 591.50,463.87 590.80,464.64 590.10,465.25 589.40,465.85 588.70,466.54 588.00,467.39 587.30,468.36 586.60,469.36 585.90,470.29 585.20,470.94 584.50,471.05 583.80,470.81 583.10,470.52 582.40,470.26 581.70,470.01 581.00,469.92 580.30,470.19 579.60,470.67 578.90,471.21 578.20,471.79 577.50,472.36 576.80,472.87 576.10,473.30 575.40,473.70 574.70,474.15 574.00,474.68 573.30,475.29 572.60,475.96 571.90,476.59 571.20,477.16 570.50,477.66 569.80,478.15 569.10,478.70 568.40,478.99 567.70,478.68 567.00,477.99 566.30,477.20 565.60,476.35 564.90,475.52 564.20,474.80 563.50,474.31 562.80,474.29 562.10,474.73 561.40,475.22 560.70,475.53 560.00,475.74 559.30,476.00 558.60,476.45 557.90,477.10 557.20,477.85 556.50,478.56 555.80,479.10 555.10,479.16 554.40,478.48 553.70,477.43 553.00,476.46 552.30,475.63 551.60,474.86 550.90,474.07 550.20,473.20 549.50,472.51 548.80,472.44 548.10,472.98 547.40,473.72 546.70,474.47 546.00,475.18 545.30,475.86 544.60,476.54 543.90,477.26 543.20,478.06 542.50,478.91 541.80,479.73 541.10,480.49 540.40,481.16 539.70,481.80 539.00,482.45 538.30,483.18 537.60,483.97 536.90,484.77 536.20,485.53 535.50,486.24 534.80,486.88 534.10,487.34 533.40,487.64 532.70,487.89 532.00,488.10 531.30,488.20 530.60,488.20 529.90,488.17 529.20,488.24 528.50,488.47 527.80,488.83 527.10,489.22 526.40,489.47 525.70,489.53 525.00,489.42 524.30,489.28 523.60,489.25 522.90,489.43 522.20,489.77 521.50,490.16 520.80,490.45 520.10,490.53 519.40,490.38 518.70,490.16 518.00,490.00 517.30,489.96 516.60,490.00 515.90,490.06 515.20,490.06 514.50,490.00 513.80,489.91 513.10,489.86 512.40,489.89 511.70,490.04 511.00,490.28 510.30,490.50 509.60,490.68 508.90,490.87 508.20,491.13 507.50,491.48 506.80,491.86 506.10,492.21 505.40,492.47 504.70,492.45 504.00,492.08 503.30,491.58 502.60,491.13 501.90,490.70 501.20,490.26 500.50,489.78 499.80,489.28 499.10,488.83 498.40,488.43" fill="#8080ff" stroke="none" stroke-width="0" fill-opacity="0.5"/>
<polygon points="498.40,482.18 499.10,482.00 499.80,481.82 500.50,481.68 501.20,481.60 501.90,481.57 502.60,481.54 503.30,481.50 504.00,481.42 504.70,481.29 505.40,481.10 506.10,480.91 506.80,480.78 507.50,480.72 508.20,480.72 508.90,480.70 509.60,480.58 510.30,480.35 511.00,480.08 511.70,479.88 512.40,479.83 513.10,479.87 513.80,479.88 514.50,479.76 515.20,479.50 515.90,479.20 516.60,478.92 517.30,478.61 518.00,478.29 518.70,477.93 519.40,477.45 520.10,476.87 520.80,476.28 521.50,475.76 522.20,475.53 522.90,475.92 523.60,476.82 524.30,477.83 525.00,478.82 525.70,479.75 526.40,480.52 527.10,481.13 527.80,481.71 528.50,482.33 529.20,483.03 529.90,483.77 530.60,484.45 531.30,484.82 532.00,484.66 532.70,484.26 533.40,483.96 534.10,483.82 534.80,483.71 535.50,483.49 536.20,483.09 536.90,482.59 537.60,482.15 538.30,481.90 539.00,481.81 539.70,481.72 540.40,481.50 541.10,481.12 541.80,480.70 542.50,480.36 543.20,480.14 543.90,479.99 544.60,479.80 545.30,479.54 546.00,479.21 546.70,478.85 547.40,478.50 548.10,478.14 548.80,477.76 549.50,477.37 550.20,477.04 550.90,476.78 551.60,476.54 552.30,476.25 553.00,475.85 553.70,475.41 554.40,475.06 555.10,474.89 555.80,474.83 556.50,474.72 557.20,474.42 557.90,474.11 558.60,474.18 559.30,474.64 560.00,475.34 560.70,475.86 561.40,475.58 562.10,474.48 562.80,473.09 563.50,471.75 564.20,470.58 564.90,469.70 565.60,469.54 566.30,470.28 567.00,471.35 567.70,472.42 568.40,473.55 569.10,474.73 569.80,475.48 570.50,475.23 571.20,474.27 571.90,473.22 572.60,472.24 573.30,471.23 574.00,470.10 574.70,468.85 575.40,467.81 576.10,467.57 576.80,468.21 577.50,469.15 578.20,469.92 578.90,470.48 579.60,470.86 580.30,470.76 581.00,469.91 581.70,468.76 582.40,467.56 583.10,466.13 583.80,464.53 584.50,462.94 585.20,461.63 585.90,460.65 586.60,459.76 587.30,458.76 588.00,457.62 588.70,456.43 589.40,455.41 590.10,454.68 590.80,454.05 591.50,453.36 592.20,452.62 592.90,451.92 593.60,451.36 594.30,451.02 595.00,450.76 595.70,450.41 596.40,450.00 597.10,449.69 597.80,449.52 598.50,449.29 599.20,448.74 599.90,447.85 600.60,446.79 601.30,445.76 602.00,444.95 602.70,444.51 603.40,444.40 604.10,444.29 604.80,443.95 605.50,443.53 606.20,443.23 606.90,443.16 607.60,443.21 608.30,443.23 609.00,443.23 609.70,443.29 610.40,443.44 611.10,443.71 611.80,444.11 612.50,444.81 613.20,445.97 613.90,447.36 614.60,448.81 615.30,449.81 616.00,449.73 616.70,448.99 617.40,448.13 618.10,447.38 618.80,446.99 619.50,446.92 620.20,446.89 620.90,446.67 621.60,446.23 622.30,445.87 623.00,446.16 623.70,447.24 624.40,448.65 625.10,449.94 625.80,450.96 626.50,451.77 627.20,452.57 627.90,453.56 628.60,454.75 629.30,455.95 630.00,456.88 630.70,457.45 631.40,457.87 632.10,458.38 632.80,459.03 633.50,459.54 634.20,459.54 634.90,459.06 635.60,458.47 636.30,458.09 637.00,458.28 637.70,459.10 638.40,460.09 639.10,460.96 639.80,461.43 640.50,461.24 641.20,460.75 641.90,460.16 642.60,459.35 643.30,458.47 644.00,457.86 644.70,457.61 645.40,457.58 646.10,457.53 646.80,457.25 647.50,456.73 648.20,456.22 648.90,456.08 649.60,456.38 650.30,456.85 651.00,457.20 651.70,457.35 652.40,457.40 653.10,457.68 653.80,458.40 654.50,459.33 655.20,460.22 655.90,461.01 656.60,461.74 657.30,462.31 658.00,462.40 658.70,462.09 659.40,461.60 660.10,461.02 660.80,460.46 661.50,460.20 662.20,460.58 662.90,461.50 663.60,462.44 664.30,463.20 665.00,463.87 665.70,464.15 666.40,463.74 667.10,462.99 667.80,462.08 668.50,461.29 669.20,461.16 669.90,461.61 670.60,462.37 671.30,463.31 672.00,464.12 672.70,464.45 673.40,464.36 674.10,464.17 674.80,464.12 675.50,464.22 676.20,464.39 676.20,471.99 675.50,471.82 674.80,471.72 674.10,471.77 673.40,471.96 672.70,472.05 672.00,471.72 671.30,470.91 670.60,469.97 669.90,469.21 669.20,468.76 668.50,468.89 667.80,469.68 667.10,470.59 666.40,471.34 665.70,471.75 665.00,471.47 664.30,470.80 663.60,470.04 662.90,469.10 662.20,468.18 661.50,467.80 660.80,468.06 660.10,468.62 659.40,469.20 658.70,469.69 658.00,470.00 657.30,469.91 656.60,469.34 655.90,468.61 655.20,467.82 654.50,466.93 653.80,466.00 653.10,465.28 652.40,465.00 651.70,464.95 651.00,464.80 650.30,464.45 649.60,463.98 648.90,463.68 648.20,463.82 647.50,464.33 646.80,464.85 646.10,465.13 645.40,465.18 644.70,465.21 644.00,465.46 643.30,466.07 642.60,466.95 641.90,467.76 641.20,468.35 640.50,468.84 639.80,469.03 639.10,468.56 638.40,467.69 637.70,466.70 637.00,465.88 636.30,465.69 635.60,466.07 634.90,466.66 634.20,467.14 633.50,467.14 632.80,466.63 632.10,465.98 631.40,465.47 630.70,465.05 630.00,464.48 629.30,463.55 628.60,462.35 627.90,461.16 627.20,460.17 626.50,459.37 625.80,458.56 625.10,457.54 624.40,456.25 623.70,454.84 623.00,453.76 622.30,453.47 621.60,453.83 620.90,454.27 620.20,454.49 619.50,454.52 618.80,454.59 618.10,454.98 617.40,455.73 616.70,456.59 616.00,457.33 615.30,457.41 614.60,456.41 613.90,454.96 613.20,453.57 612.50,452.41 611.80,451.71 611.10,451.31 610.40,451.04 609.70,450.89 609.00,450.83 608.30,450.83 607.60,450.81 606.90,450.76 606.20,450.83 605.50,451.13 604.80,451.55 604.10,451.89 603.40,452.00 602.70,452.11 602.00,452.55 601.30,453.36 600.60,454.39 599.90,455.45 599.20,456.34 598.50,456.89 597.80,457.12 597.10,457.29 596.40,457.60 595.70,458.01 595.00,458.36 594.30,458.62 593.60,458.96 592.90,459.52 592.20,460.22 591.50,460.96 590.80,461.65 590.10,462.28 589.40,463.01 588.70,464.03 588.00,465.22 587.30,466.36 586.60,467.36 585.90,468.25 585.20,469.23 584.50,470.54 583.80,472.13 583.10,473.73 582.40,475.16 581.70,476.36 581.00,477.51 580.30,478.36 579.60,478.46 578.90,478.08 578.20,477.52 577.50,476.75 576.80,475.81 576.10,475.17 575.40,475.41 574.70,476.45 574.00,477.70 573.30,478.83 572.60,479.84 571.90,480.82 571.20,481.87 570.50,482.83 569.80,483.08 569.10,482.33 568.40,481.15 567.70,480.02 567.00,478.95 566.30,477.88 565.60,477.14 564.90,477.30 564.20,478.18 563.50,479.35 562.80,480.69 562.10,482.08 561.40,483.18 560.70,483.46 560.00,482.94 559.30,482.24 558.60,481.78 557.90,481.71 557.20,482.02 556.50,482.32 555.80,482.43 555.10,482.49 554.40,482.66 553.70,483.01 553.00,483.45 552.30,483.85 551.60,484.14 550.90,484.38 550.20,484.64 549.50,484.97 548.80,485.36 548.10,485.74 547.40,486.10 546.70,486.45 546.00,486.81 545.30,487.14 544.60,487.40 543.90,487.59 543.20,487.74 542.50,487.96 541.80,488.30 541.10,488.72 540.40,489.10 539.70,489.32 539.00,489.41 538.30,489.50 537.60,489.75 536.90,490.19 536.20,490.69 535.50,491.09 534.80,491.31 534.10,491.42 533.40,491.56 532.70,491.86 532.00,492.26 531.30,492.42 530.60,492.05 529.90,491.37 529.20,490.63 528.50,489.93 527.80,489.31 527.10,488.73 526.40,488.12 525.70,487.35 525.00,486.42 524.30,485.43 523.60,484.42 522.90,483.52 522.20,483.13 521.50,483.36 520.80,483.88 520.10,484.47 519.40,485.05 518.70,485.53 518.00,485.89 517.30,486.21 516.60,486.52 515.90,486.80 515.20,487.10 514.50,487.36 513.80,487.48 513.10,487.47 512.40,487.43 511.70,487.48 511.00,487.68 510.30,487.95 509.60,488.18 508.90,488.30 508.20,488.32 507.50,488.32 506.80,488.38 506.10,488.51 505.40,488.70 504.70,488.89 504.00,489.02 503.30,489.10 502.60,489.14 501.90,489.17 501.20,489.20 500.50,489.28 499.80,489.42 499.10,489.60 498.40,489.78" fill="#ff8080" stroke="none" stroke-width="0" fill-opacity="0.52"/>
<polyline points="498.40,484.63 499.10,485.03 499.80,485.48 500.50,485.98 501.20,486.46 501.90,486.90 502.60,487.33 503.30,487.78 504.00,488.28 504.70,488.65 505.40,488.67 506.10,488.41 506.80,488.06 507.50,487.68 508.20,487.33 508.90,487.07 509.60,486.88 510.30,486.70 511.00,486.48 511.70,486.24 512.40,486.09 513.10,486.06 513.80,486.11 514.50,486.20 515.20,486.26 515.90,486.26 516.60,486.20 517.30,486.16 518.00,486.20 518.70,486.36 519.40,486.58 520.10,486.73 520.80,486.65 521.50,486.36 522.20,485.97 522.90,485.63 523.60,485.45 524.30,485.48 525.00,485.62 525.70,485.73 526.40,485.67 527.10,485.42 527.80,485.03 528.50,484.67 529.20,484.44 529.90,484.37 530.60,484.40 531.30,484.40 532.00,484.30 532.70,484.09 533.40,483.84 534.10,483.54 534.80,483.08 535.50,482.44 536.20,481.73 536.90,480.97 537.60,480.17 538.30,479.38 539.00,478.65 539.70,478.00 540.40,477.36 541.10,476.69 541.80,475.93 542.50,475.11 543.20,474.26 543.90,473.46 544.60,472.74 545.30,472.06 546.00,471.38 546.70,470.67 547.40,469.92 548.10,469.18 548.80,468.64 549.50,468.71 550.20,469.40 550.90,470.27 551.60,471.06 552.30,471.83 553.00,472.66 553.70,473.63 554.40,474.68 555.10,475.36 555.80,475.30 556.50,474.76 557.20,474.05 557.90,473.30 558.60,472.65 559.30,472.20 560.00,471.94 560.70,471.73 561.40,471.42 562.10,470.93 562.80,470.49 563.50,470.51 564.20,471.00 564.90,471.72 565.60,472.55 566.30,473.40 567.00,474.19 567.70,474.88 568.40,475.19 569.10,474.90 569.80,474.35 570.50,473.86 571.20,473.36 571.90,472.79 572.60,472.16 573.30,471.49 574.00,470.88 574.70,470.35 575.40,469.90 576.10,469.50 576.80,469.07 577.50,468.56 578.20,467.99 578.90,467.41 579.60,466.87 580.30,466.39 581.00,466.12 581.70,466.21 582.40,466.46 583.10,466.72 583.80,467.01 584.50,467.25 585.20,467.14 585.90,466.49 586.60,465.56 587.30,464.56 588.00,463.59 588.70,462.74 589.40,462.05 590.10,461.45 590.80,460.84 591.50,460.07 592.20,459.10 592.90,458.28 593.60,458.13 594.30,458.61 595.00,459.40 595.70,460.32 596.40,461.23 597.10,461.90 597.80,461.93 598.50,461.22 599.20,460.28 599.90,459.45 600.60,458.73 601.30,458.06 602.00,457.35 602.70,456.55 603.40,455.68 604.10,455.04 604.80,454.93 605.50,455.18 606.20,455.49 606.90,455.74 607.60,455.89 608.30,455.97 609.00,455.99 609.70,455.94 610.40,455.82 611.10,455.70 611.80,455.59 612.50,455.41 613.20,455.18 613.90,455.21 614.60,455.73 615.30,456.52 616.00,457.34 616.70,458.17 617.40,458.79 618.10,458.99 618.80,458.96 619.50,458.95 620.20,458.95 620.90,458.90 621.60,458.69 622.30,458.23 623.00,457.57 623.70,456.94 624.40,456.51 625.10,456.66 625.80,457.54 626.50,458.65 627.20,459.58 627.90,460.34 628.60,461.02 629.30,461.76 630.00,462.66 630.70,463.71 631.40,464.82 632.10,465.64 632.80,465.82 633.50,465.50 634.20,465.07 634.90,464.72 635.60,464.55 636.30,464.69 637.00,465.07 637.70,465.46 638.40,465.77 639.10,466.06 639.80,466.43 640.50,466.91 641.20,467.43 641.90,467.85 642.60,468.14 643.30,468.30 644.00,468.39 644.70,468.52 645.40,468.75 646.10,469.09 646.80,469.46 647.50,469.74 648.20,469.89 648.90,469.95 649.60,469.97 650.30,469.99 651.00,470.03 651.70,470.08 652.40,470.11 653.10,470.08 653.80,469.98 654.50,469.89 655.20,469.85 655.90,469.80 656.60,469.66 657.30,469.38 658.00,469.00 658.70,468.50 659.40,467.77 660.10,466.89 660.80,466.06 661.50,465.45 662.20,465.44 662.90,466.06 663.60,466.84 664.30,467.61 665.00,468.45 665.70,469.09 666.40,469.23 667.10,469.08 667.80,468.83 668.50,468.46 669.20,468.04 669.90,467.67 670.60,467.47 671.30,467.53 672.00,467.70 672.70,467.80 673.40,467.79 674.10,467.73 674.80,467.72 675.50,467.83 676.20,468.04" fill="none" stroke="#0000ff" stroke-width="2.3" stroke-linejoin="round" stroke-linecap="round" />
<polyline points="498.40,485.98 499.10,485.80 499.80,485.62 500.50,485.48 501.20,485.40 501.90,485.37 502.60,485.34 503.30,485.30 504.00,485.22 504.70,485.09 505.40,484.90 506.10,484.71 506.80,484.58 507.50,484.52 508.20,484.52 508.90,484.50 509.60,484.38 510.30,484.15 511.00,483.88 511.70,483.68 512.40,483.63 513.10,483.67 513.80,483.68 514.50,483.56 515.20,483.30 515.90,483.00 516.60,482.72 517.30,482.41 518.00,482.09 518.70,481.73 519.40,481.25 520.10,480.67 520.80,480.08 521.50,479.56 522.20,479.33 522.90,479.72 523.60,480.62 524.30,481.63 525.00,482.62 525.70,483.55 526.40,484.32 527.10,484.93 527.80,485.51 528.50,486.13 529.20,486.83 529.90,487.57 530.60,488.25 531.30,488.62 532.00,488.46 532.70,488.06 533.40,487.76 534.10,487.62 534.80,487.51 535.50,487.29 536.20,486.89 536.90,486.39 537.60,485.95 538.30,485.70 539.00,485.61 539.70,485.52 540.40,485.30 541.10,484.92 541.80,484.50 542.50,484.16 543.20,483.94 543.90,483.79 544.60,483.60 545.30,483.34 546.00,483.01 546.70,482.65 547.40,482.30 548.10,481.94 548.80,481.56 549.50,481.17 550.20,480.84 550.90,480.58 551.60,480.34 552.30,480.05 553.00,479.65 553.70,479.21 554.40,478.86 555.10,478.69 555.80,478.63 556.50,478.52 557.20,478.22 557.90,477.91 558.60,477.98 559.30,478.44 560.00,479.14 560.70,479.66 561.40,479.38 562.10,478.28 562.80,476.89 563.50,475.55 564.20,474.38 564.90,473.50 565.60,473.34 566.30,474.08 567.00,475.15 567.70,476.22 568.40,477.35 569.10,478.53 569.80,479.28 570.50,479.03 571.20,478.07 571.90,477.02 572.60,476.04 573.30,475.03 574.00,473.90 574.70,472.65 575.40,471.61 576.10,471.37 576.80,472.01 577.50,472.95 578.20,473.72 578.90,474.28 579.60,474.66 580.30,474.56 581.00,473.71 581.70,472.56 582.40,471.36 583.10,469.93 583.80,468.33 584.50,466.74 585.20,465.43 585.90,464.45 586.60,463.56 587.30,462.56 588.00,461.42 588.70,460.23 589.40,459.21 590.10,458.48 590.80,457.85 591.50,457.16 592.20,456.42 592.90,455.72 593.60,455.16 594.30,454.82 595.00,454.56 595.70,454.21 596.40,453.80 597.10,453.49 597.80,453.32 598.50,453.09 599.20,452.54 599.90,451.65 600.60,450.59 601.30,449.56 602.00,448.75 602.70,448.31 603.40,448.20 604.10,448.09 604.80,447.75 605.50,447.33 606.20,447.03 606.90,446.96 607.60,447.01 608.30,447.03 609.00,447.03 609.70,447.09 610.40,447.24 611.10,447.51 611.80,447.91 612.50,448.61 613.20,449.77 613.90,451.16 614.60,452.61 615.30,453.61 616.00,453.53 616.70,452.79 617.40,451.93 618.10,451.18 618.80,450.79 619.50,450.72 620.20,450.69 620.90,450.47 621.60,450.03 622.30,449.67 623.00,449.96 623.70,451.04 624.40,452.45 625.10,453.74 625.80,454.76 626.50,455.57 627.20,456.37 627.90,457.36 628.60,458.55 629.30,459.75 630.00,460.68 630.70,461.25 631.40,461.67 632.10,462.18 632.80,462.83 633.50,463.34 634.20,463.34 634.90,462.86 635.60,462.27 636.30,461.89 637.00,462.08 637.70,462.90 638.40,463.89 639.10,464.76 639.80,465.23 640.50,465.04 641.20,464.55 641.90,463.96 642.60,463.15 643.30,462.27 644.00,461.66 644.70,461.41 645.40,461.38 646.10,461.33 646.80,461.05 647.50,460.53 648.20,460.02 648.90,459.88 649.60,460.18 650.30,460.65 651.00,461.00 651.70,461.15 652.40,461.20 653.10,461.48 653.80,462.20 654.50,463.13 655.20,464.02 655.90,464.81 656.60,465.54 657.30,466.11 658.00,466.20 658.70,465.89 659.40,465.40 660.10,464.82 660.80,464.26 661.50,464.00 662.20,464.38 662.90,465.30 663.60,466.24 664.30,467.00 665.00,467.67 665.70,467.95 666.40,467.54 667.10,466.79 667.80,465.88 668.50,465.09 669.20,464.96 669.90,465.41 670.60,466.17 671.30,467.11 672.00,467.92 672.70,468.25 673.40,468.16 674.10,467.97 674.80,467.92 675.50,468.02 676.20,468.19" fill="none" stroke="#ff0000" stroke-width="2.3" stroke-linejoin="round" stroke-linecap="round" />
<polygon points="498.40,508.57 499.10,508.15 499.80,507.78 500.50,507.48 501.20,507.23 501.90,506.99 502.60,506.73 503.30,506.46 504.00,506.19 504.70,506.02 505.40,506.07 506.10,506.26 506.80,506.42 507.50,506.51 508.20,506.60 508.90,506.78 509.60,507.10 510.30,507.54 511.00,508.01 511.70,508.40 512.40,508.61 513.10,508.66 513.80,508.65 514.50,508.67 515.20,508.78 515.90,508.97 516.60,509.21 517.30,509.46 518.00,509.70 518.70,509.95 519.40,510.19 520.10,510.30 520.80,510.16 521.50,509.85 522.20,509.46 522.90,509.07 523.60,508.77 524.30,508.60 525.00,508.55 525.70,508.53 526.40,508.44 527.10,508.23 527.80,507.96 528.50,507.80 529.20,507.78 529.90,507.86 530.60,508.00 531.30,508.14 532.00,508.25 532.70,508.33 533.40,508.42 534.10,508.55 534.80,508.75 535.50,509.01 536.20,509.27 536.90,509.48 537.60,509.64 538.30,509.82 539.00,510.06 539.70,510.36 540.40,510.65 541.10,510.61 541.80,510.06 542.50,509.26 543.20,508.50 543.90,507.81 544.60,507.17 545.30,506.53 546.00,505.81 546.70,504.98 547.40,504.02 548.10,502.64 548.80,500.65 549.50,498.45 550.20,496.74 550.90,496.17 551.60,496.57 552.30,497.20 553.00,497.77 553.70,498.32 554.40,498.89 555.10,499.45 555.80,500.01 556.50,500.52 557.20,500.82 557.90,500.88 558.60,500.90 559.30,500.96 560.00,500.98 560.70,500.88 561.40,500.63 562.10,500.28 562.80,499.95 563.50,499.73 564.20,499.66 564.90,499.69 565.60,499.72 566.30,499.68 567.00,499.55 567.70,499.35 568.40,499.13 569.10,498.91 569.80,498.70 570.50,498.47 571.20,498.24 571.90,498.01 572.60,497.81 573.30,497.67 574.00,497.57 574.70,497.46 575.40,497.26 576.10,496.94 576.80,496.54 577.50,496.15 578.20,495.85 578.90,495.64 579.60,495.55 580.30,495.60 581.00,495.76 581.70,495.93 582.40,496.09 583.10,496.29 583.80,496.55 584.50,496.77 585.20,496.69 585.90,496.17 586.60,495.45 587.30,494.72 588.00,494.05 588.70,493.44 589.40,492.87 590.10,492.30 590.80,491.69 591.50,491.05 592.20,490.69 592.90,491.04 593.60,491.91 594.30,492.88 595.00,493.77 595.70,494.59 596.40,495.21 597.10,495.30 597.80,494.87 598.50,494.33 599.20,493.83 599.90,493.28 600.60,492.60 601.30,491.79 602.00,490.92 602.70,490.06 603.40,489.28 604.10,488.91 604.80,489.29 605.50,490.10 606.20,490.97 606.90,491.84 607.60,492.72 608.30,493.58 609.00,494.38 609.70,494.95 610.40,495.02 611.10,494.60 611.80,494.09 612.50,493.72 613.20,493.49 613.90,493.30 614.60,493.07 615.30,492.98 616.00,493.30 616.70,493.85 617.40,494.41 618.10,494.74 618.80,494.44 619.50,493.62 620.20,492.67 620.90,491.71 621.60,490.93 622.30,490.78 623.00,491.30 623.70,492.05 624.40,492.75 625.10,493.36 625.80,493.94 626.50,494.55 627.20,495.23 627.90,495.66 628.60,495.41 629.30,494.79 630.00,494.09 630.70,493.32 631.40,492.56 632.10,492.12 632.80,492.40 633.50,493.18 634.20,494.02 634.90,494.79 635.60,495.48 636.30,496.08 637.00,496.34 637.70,496.14 638.40,495.78 639.10,495.43 639.80,495.01 640.50,494.53 641.20,494.05 641.90,493.68 642.60,493.37 643.30,493.08 644.00,492.78 644.70,492.46 645.40,492.15 646.10,491.91 646.80,491.87 647.50,492.20 648.20,492.79 648.90,493.36 649.60,493.78 650.30,494.09 651.00,494.40 651.70,494.80 652.40,495.30 653.10,495.55 653.80,495.23 654.50,494.57 655.20,493.83 655.90,493.00 656.60,492.14 657.30,491.28 658.00,490.63 658.70,490.48 659.40,490.72 660.10,491.07 660.80,491.50 661.50,492.01 662.20,492.59 662.90,493.16 663.60,493.70 664.30,494.18 665.00,494.59 665.70,495.00 666.40,495.48 667.10,496.09 667.80,496.56 668.50,496.56 669.20,496.28 669.90,495.92 670.60,495.52 671.30,495.13 672.00,494.89 672.70,494.99 673.40,495.35 674.10,495.74 674.80,496.10 675.50,496.44 676.20,496.75 676.20,504.35 675.50,504.04 674.80,503.70 674.10,503.34 673.40,502.95 672.70,502.59 672.00,502.49 671.30,502.73 670.60,503.12 669.90,503.52 669.20,503.88 668.50,504.16 667.80,504.16 667.10,503.69 666.40,503.08 665.70,502.60 665.00,502.19 664.30,501.78 663.60,501.30 662.90,500.76 662.20,500.19 661.50,499.61 660.80,499.10 660.10,498.67 659.40,498.32 658.70,498.08 658.00,498.23 657.30,498.88 656.60,499.74 655.90,500.60 655.20,501.43 654.50,502.17 653.80,502.83 653.10,503.15 652.40,502.90 651.70,502.40 651.00,502.00 650.30,501.69 649.60,501.38 648.90,500.96 648.20,500.39 647.50,499.80 646.80,499.47 646.10,499.51 645.40,499.75 644.70,500.06 644.00,500.38 643.30,500.68 642.60,500.97 641.90,501.28 641.20,501.65 640.50,502.13 639.80,502.61 639.10,503.03 638.40,503.38 637.70,503.74 637.00,503.94 636.30,503.68 635.60,503.08 634.90,502.39 634.20,501.62 633.50,500.78 632.80,500.00 632.10,499.72 631.40,500.16 630.70,500.92 630.00,501.69 629.30,502.39 628.60,503.01 627.90,503.26 627.20,502.83 626.50,502.15 625.80,501.54 625.10,500.96 624.40,500.35 623.70,499.65 623.00,498.90 622.30,498.38 621.60,498.53 620.90,499.31 620.20,500.27 619.50,501.22 618.80,502.04 618.10,502.34 617.40,502.01 616.70,501.45 616.00,500.90 615.30,500.58 614.60,500.67 613.90,500.90 613.20,501.09 612.50,501.32 611.80,501.69 611.10,502.20 610.40,502.62 609.70,502.55 609.00,501.98 608.30,501.18 607.60,500.32 606.90,499.44 606.20,498.57 605.50,497.70 604.80,496.89 604.10,496.51 603.40,496.88 602.70,497.66 602.00,498.52 601.30,499.39 600.60,500.20 599.90,500.88 599.20,501.43 598.50,501.93 597.80,502.47 597.10,502.90 596.40,502.81 595.70,502.19 595.00,501.37 594.30,500.48 593.60,499.51 592.90,498.64 592.20,498.29 591.50,498.65 590.80,499.29 590.10,499.90 589.40,500.47 588.70,501.04 588.00,501.65 587.30,502.32 586.60,503.05 585.90,503.77 585.20,504.29 584.50,504.37 583.80,504.15 583.10,503.89 582.40,503.69 581.70,503.53 581.00,503.36 580.30,503.20 579.60,503.15 578.90,503.24 578.20,503.45 577.50,503.75 576.80,504.14 576.10,504.54 575.40,504.86 574.70,505.06 574.00,505.17 573.30,505.27 572.60,505.41 571.90,505.61 571.20,505.84 570.50,506.07 569.80,506.30 569.10,506.51 568.40,506.73 567.70,506.95 567.00,507.15 566.30,507.28 565.60,507.32 564.90,507.29 564.20,507.26 563.50,507.33 562.80,507.55 562.10,507.88 561.40,508.23 560.70,508.48 560.00,508.58 559.30,508.56 558.60,508.50 557.90,508.48 557.20,508.42 556.50,508.12 555.80,507.61 555.10,507.05 554.40,506.49 553.70,505.92 553.00,505.37 552.30,504.80 551.60,504.17 550.90,503.77 550.20,504.34 549.50,506.05 548.80,508.25 548.10,510.24 547.40,511.62 546.70,512.58 546.00,513.41 545.30,514.13 544.60,514.77 543.90,515.41 543.20,516.10 542.50,516.86 541.80,517.66 541.10,518.21 540.40,518.25 539.70,517.96 539.00,517.66 538.30,517.42 537.60,517.24 536.90,517.08 536.20,516.87 535.50,516.61 534.80,516.35 534.10,516.15 533.40,516.02 532.70,515.93 532.00,515.85 531.30,515.74 530.60,515.60 529.90,515.46 529.20,515.38 528.50,515.40 527.80,515.56 527.10,515.83 526.40,516.04 525.70,516.13 525.00,516.15 524.30,516.20 523.60,516.37 522.90,516.67 522.20,517.06 521.50,517.45 520.80,517.76 520.10,517.90 519.40,517.79 518.70,517.55 518.00,517.30 517.30,517.06 516.60,516.81 515.90,516.57 515.20,516.38 514.50,516.27 513.80,516.25 513.10,516.26 512.40,516.21 511.70,516.00 511.00,515.61 510.30,515.14 509.60,514.70 508.90,514.38 508.20,514.20 507.50,514.11 506.80,514.02 506.10,513.86 505.40,513.67 504.70,513.62 504.00,513.79 503.30,514.06 502.60,514.33 501.90,514.59 501.20,514.83 500.50,515.08 499.80,515.38 499.10,515.75 498.40,516.17" fill="#8080ff" stroke="none" stroke-width="0" fill-opacity="0.5"/>
<polygon points="498.40,506.77 499.10,506.60 499.80,506.53 500.50,506.55 501.20,506.59 501.90,506.57 502.60,506.41 503.30,506.12 504.00,505.75 504.70,505.43 505.40,505.20 506.10,505.10 506.80,505.14 507.50,505.26 508.20,505.38 508.90,505.42 509.60,505.40 510.30,505.48 511.00,505.70 511.70,506.01 512.40,506.36 513.10,506.79 513.80,507.29 514.50,507.83 515.20,508.38 515.90,508.92 516.60,509.43 517.30,509.92 518.00,510.15 518.70,509.89 519.40,509.38 520.10,508.85 520.80,508.33 521.50,507.86 522.20,507.46 522.90,507.28 523.60,507.46 524.30,507.81 525.00,508.12 525.70,508.30 526.40,508.38 527.10,508.38 527.80,508.42 528.50,508.63 529.20,509.04 529.90,509.58 530.60,510.18 531.30,510.76 532.00,510.94 532.70,510.38 533.40,509.40 534.10,508.38 534.80,507.38 535.50,506.48 536.20,505.69 536.90,505.35 537.60,505.85 538.30,506.83 539.00,507.80 539.70,508.71 540.40,509.50 541.10,509.85 541.80,509.51 542.50,508.87 543.20,508.25 543.90,507.66 544.60,507.10 545.30,506.58 546.00,506.09 546.70,505.62 547.40,505.14 548.10,504.59 548.80,503.97 549.50,503.32 550.20,502.87 550.90,502.76 551.60,502.87 552.30,503.09 553.00,503.41 553.70,503.78 554.40,504.11 555.10,504.33 555.80,504.35 556.50,504.09 557.20,503.68 557.90,503.29 558.60,503.01 559.30,502.86 560.00,502.79 560.70,502.74 561.40,502.64 562.10,502.43 562.80,502.13 563.50,501.77 564.20,501.40 564.90,501.10 565.60,500.90 566.30,500.79 567.00,500.71 567.70,500.64 568.40,500.57 569.10,500.47 569.80,500.36 570.50,500.23 571.20,500.07 571.90,499.87 572.60,499.61 573.30,499.33 574.00,499.07 574.70,498.87 575.40,498.75 576.10,498.69 576.80,498.66 577.50,498.55 578.20,498.21 578.90,497.55 579.60,496.73 580.30,495.90 581.00,495.13 581.70,494.47 582.40,493.92 583.10,493.46 583.80,492.99 584.50,492.47 585.20,491.95 585.90,491.47 586.60,490.99 587.30,490.53 588.00,490.15 588.70,489.85 589.40,489.63 590.10,489.38 590.80,489.00 591.50,488.54 592.20,488.01 592.90,487.36 593.60,486.47 594.30,485.43 595.00,484.36 595.70,483.31 596.40,482.26 597.10,481.25 597.80,480.37 598.50,479.66 599.20,479.03 599.90,478.42 600.60,477.78 601.30,477.08 602.00,476.30 602.70,475.56 603.40,475.00 604.10,474.60 604.80,474.31 605.50,474.11 606.20,473.97 606.90,473.82 607.60,473.69 608.30,473.70 609.00,473.85 609.70,474.02 610.40,474.22 611.10,474.51 611.80,474.85 612.50,474.90 613.20,474.37 613.90,473.53 614.60,473.02 615.30,473.27 616.00,473.88 616.70,474.50 617.40,475.15 618.10,475.86 618.80,476.57 619.50,477.20 620.20,477.75 620.90,478.27 621.60,478.78 622.30,479.29 623.00,479.81 623.70,480.24 624.40,480.31 625.10,479.88 625.80,479.23 626.50,478.56 627.20,477.93 627.90,477.35 628.60,477.53 629.30,479.17 630.00,481.52 630.70,483.81 631.40,486.01 632.10,487.69 632.80,488.28 633.50,488.11 634.20,487.84 634.90,487.66 635.60,487.56 636.30,487.53 637.00,487.77 637.70,488.33 638.40,488.97 639.10,489.56 639.80,490.16 640.50,490.82 641.20,491.32 641.90,491.39 642.60,491.25 643.30,491.08 644.00,490.86 644.70,490.60 645.40,490.49 646.10,490.82 646.80,491.58 647.50,492.49 648.20,493.18 648.90,493.16 649.60,492.35 650.30,491.26 651.00,490.18 651.70,489.14 652.40,488.20 653.10,487.88 653.80,488.52 654.50,489.55 655.20,490.53 655.90,491.47 656.60,492.43 657.30,493.08 658.00,492.96 658.70,492.26 659.40,491.44 660.10,490.58 660.80,489.65 661.50,488.84 662.20,488.65 662.90,489.19 663.60,490.06 664.30,491.01 665.00,492.01 665.70,493.03 666.40,493.76 667.10,493.91 667.80,493.75 668.50,493.57 669.20,493.39 669.90,493.26 670.60,493.25 671.30,493.43 672.00,493.74 672.70,494.05 673.40,494.32 674.10,494.58 674.80,494.85 675.50,495.13 676.20,495.40 676.20,503.00 675.50,502.73 674.80,502.45 674.10,502.18 673.40,501.92 672.70,501.65 672.00,501.34 671.30,501.03 670.60,500.85 669.90,500.86 669.20,500.99 668.50,501.17 667.80,501.35 667.10,501.51 666.40,501.36 665.70,500.63 665.00,499.61 664.30,498.61 663.60,497.66 662.90,496.79 662.20,496.25 661.50,496.44 660.80,497.25 660.10,498.18 659.40,499.04 658.70,499.86 658.00,500.56 657.30,500.68 656.60,500.03 655.90,499.07 655.20,498.13 654.50,497.15 653.80,496.12 653.10,495.48 652.40,495.80 651.70,496.74 651.00,497.78 650.30,498.86 649.60,499.95 648.90,500.76 648.20,500.78 647.50,500.09 646.80,499.18 646.10,498.42 645.40,498.09 644.70,498.20 644.00,498.46 643.30,498.68 642.60,498.85 641.90,498.99 641.20,498.92 640.50,498.42 639.80,497.76 639.10,497.16 638.40,496.57 637.70,495.93 637.00,495.37 636.30,495.13 635.60,495.16 634.90,495.26 634.20,495.44 633.50,495.71 632.80,495.88 632.10,495.29 631.40,493.61 630.70,491.41 630.00,489.12 629.30,486.77 628.60,485.13 627.90,484.95 627.20,485.53 626.50,486.16 625.80,486.83 625.10,487.48 624.40,487.91 623.70,487.84 623.00,487.41 622.30,486.89 621.60,486.38 620.90,485.87 620.20,485.35 619.50,484.80 618.80,484.17 618.10,483.46 617.40,482.75 616.70,482.10 616.00,481.48 615.30,480.87 614.60,480.62 613.90,481.13 613.20,481.97 612.50,482.50 611.80,482.45 611.10,482.11 610.40,481.82 609.70,481.62 609.00,481.45 608.30,481.30 607.60,481.29 606.90,481.42 606.20,481.57 605.50,481.71 604.80,481.91 604.10,482.20 603.40,482.60 602.70,483.16 602.00,483.90 601.30,484.68 600.60,485.38 599.90,486.02 599.20,486.63 598.50,487.26 597.80,487.97 597.10,488.85 596.40,489.86 595.70,490.91 595.00,491.96 594.30,493.03 593.60,494.07 592.90,494.96 592.20,495.61 591.50,496.14 590.80,496.60 590.10,496.98 589.40,497.23 588.70,497.45 588.00,497.75 587.30,498.13 586.60,498.59 585.90,499.07 585.20,499.55 584.50,500.07 583.80,500.59 583.10,501.06 582.40,501.52 581.70,502.07 581.00,502.73 580.30,503.50 579.60,504.33 578.90,505.15 578.20,505.81 577.50,506.15 576.80,506.26 576.10,506.29 575.40,506.35 574.70,506.47 574.00,506.67 573.30,506.93 572.60,507.21 571.90,507.47 571.20,507.67 570.50,507.83 569.80,507.96 569.10,508.07 568.40,508.17 567.70,508.24 567.00,508.31 566.30,508.39 565.60,508.50 564.90,508.70 564.20,509.00 563.50,509.37 562.80,509.73 562.10,510.03 561.40,510.24 560.70,510.34 560.00,510.39 559.30,510.46 558.60,510.61 557.90,510.89 557.20,511.28 556.50,511.69 555.80,511.95 555.10,511.93 554.40,511.71 553.70,511.38 553.00,511.01 552.30,510.69 551.60,510.47 550.90,510.36 550.20,510.47 549.50,510.92 548.80,511.57 548.10,512.19 547.40,512.74 546.70,513.22 546.00,513.69 545.30,514.18 544.60,514.70 543.90,515.26 543.20,515.85 542.50,516.47 541.80,517.11 541.10,517.45 540.40,517.10 539.70,516.31 539.00,515.40 538.30,514.43 537.60,513.45 536.90,512.95 536.20,513.29 535.50,514.08 534.80,514.98 534.10,515.98 533.40,517.00 532.70,517.98 532.00,518.54 531.30,518.36 530.60,517.78 529.90,517.18 529.20,516.64 528.50,516.23 527.80,516.02 527.10,515.98 526.40,515.98 525.70,515.90 525.00,515.72 524.30,515.41 523.60,515.06 522.90,514.88 522.20,515.06 521.50,515.46 520.80,515.93 520.10,516.45 519.40,516.98 518.70,517.49 518.00,517.75 517.30,517.52 516.60,517.03 515.90,516.52 515.20,515.98 514.50,515.43 513.80,514.89 513.10,514.39 512.40,513.96 511.70,513.61 511.00,513.30 510.30,513.08 509.60,513.00 508.90,513.02 508.20,512.98 507.50,512.86 506.80,512.74 506.10,512.70 505.40,512.80 504.70,513.03 504.00,513.35 503.30,513.72 502.60,514.01 501.90,514.17 501.20,514.19 500.50,514.15 499.80,514.13 499.10,514.20 498.40,514.37" fill="#ff8080" stroke="none" stroke-width="0" fill-opacity="0.52"/>
<polyline points="498.40,512.37 499.10,511.95 499.80,511.58 500.50,511.28 501.20,511.03 501.90,510.79 502.60,510.53 503.30,510.26 504.00,509.99 504.70,509.82 505.40,509.87 506.10,510.06 506.80,510.22 507.50,510.31 508.20,510.40 508.90,510.58 509.60,510.90 510.30,511.34 511.00,511.81 511.70,512.20 512.40,512.41 513.10,512.46 513.80,512.45 514.50,512.47 515.20,512.58 515.90,512.77 516.60,513.01 517.30,513.26 518.00,513.50 518.70,513.75 519.40,513.99 520.10,514.10 520.80,513.96 521.50,513.65 522.20,513.26 522.90,512.87 523.60,512.57 524.30,512.40 525.00,512.35 525.70,512.33 526.40,512.24 527.10,512.03 527.80,511.76 528.50,511.60 529.20,511.58 529.90,511.66 530.60,511.80 531.30,511.94 532.00,512.05 532.70,512.13 533.40,512.22 534.10,512.35 534.80,512.55 535.50,512.81 536.20,513.07 536.90,513.28 537.60,513.44 538.30,513.62 539.00,513.86 539.70,514.16 540.40,514.45 541.10,514.41 541.80,513.86 542.50,513.06 543.20,512.30 543.90,511.61 544.60,510.97 545.30,510.33 546.00,509.61 546.70,508.78 547.40,507.82 548.10,506.44 548.80,504.45 549.50,502.25 550.20,500.54 550.90,499.97 551.60,500.37 552.30,501.00 553.00,501.57 553.70,502.12 554.40,502.69 555.10,503.25 555.80,503.81 556.50,504.32 557.20,504.62 557.90,504.68 558.60,504.70 559.30,504.76 560.00,504.78 560.70,504.68 561.40,504.43 562.10,504.08 562.80,503.75 563.50,503.53 564.20,503.46 564.90,503.49 565.60,503.52 566.30,503.48 567.00,503.35 567.70,503.15 568.40,502.93 569.10,502.71 569.80,502.50 570.50,502.27 571.20,502.04 571.90,501.81 572.60,501.61 573.30,501.47 574.00,501.37 574.70,501.26 575.40,501.06 576.10,500.74 576.80,500.34 577.50,499.95 578.20,499.65 578.90,499.44 579.60,499.35 580.30,499.40 581.00,499.56 581.70,499.73 582.40,499.89 583.10,500.09 583.80,500.35 584.50,500.57 585.20,500.49 585.90,499.97 586.60,499.25 587.30,498.52 588.00,497.85 588.70,497.24 589.40,496.67 590.10,496.10 590.80,495.49 591.50,494.85 592.20,494.49 592.90,494.84 593.60,495.71 594.30,496.68 595.00,497.57 595.70,498.39 596.40,499.01 597.10,499.10 597.80,498.67 598.50,498.13 599.20,497.63 599.90,497.08 600.60,496.40 601.30,495.59 602.00,494.72 602.70,493.86 603.40,493.08 604.10,492.71 604.80,493.09 605.50,493.90 606.20,494.77 606.90,495.64 607.60,496.52 608.30,497.38 609.00,498.18 609.70,498.75 610.40,498.82 611.10,498.40 611.80,497.89 612.50,497.52 613.20,497.29 613.90,497.10 614.60,496.87 615.30,496.78 616.00,497.10 616.70,497.65 617.40,498.21 618.10,498.54 618.80,498.24 619.50,497.42 620.20,496.47 620.90,495.51 621.60,494.73 622.30,494.58 623.00,495.10 623.70,495.85 624.40,496.55 625.10,497.16 625.80,497.74 626.50,498.35 627.20,499.03 627.90,499.46 628.60,499.21 629.30,498.59 630.00,497.89 630.70,497.12 631.40,496.36 632.10,495.92 632.80,496.20 633.50,496.98 634.20,497.82 634.90,498.59 635.60,499.28 636.30,499.88 637.00,500.14 637.70,499.94 638.40,499.58 639.10,499.23 639.80,498.81 640.50,498.33 641.20,497.85 641.90,497.48 642.60,497.17 643.30,496.88 644.00,496.58 644.70,496.26 645.40,495.95 646.10,495.71 646.80,495.67 647.50,496.00 648.20,496.59 648.90,497.16 649.60,497.58 650.30,497.89 651.00,498.20 651.70,498.60 652.40,499.10 653.10,499.35 653.80,499.03 654.50,498.37 655.20,497.63 655.90,496.80 656.60,495.94 657.30,495.08 658.00,494.43 658.70,494.28 659.40,494.52 660.10,494.87 660.80,495.30 661.50,495.81 662.20,496.39 662.90,496.96 663.60,497.50 664.30,497.98 665.00,498.39 665.70,498.80 666.40,499.28 667.10,499.89 667.80,500.36 668.50,500.36 669.20,500.08 669.90,499.72 670.60,499.32 671.30,498.93 672.00,498.69 672.70,498.79 673.40,499.15 674.10,499.54 674.80,499.90 675.50,500.24 676.20,500.55" fill="none" stroke="#0000ff" stroke-width="2.3" stroke-linejoin="round" stroke-linecap="round" />
<polyline points="498.40,510.57 499.10,510.40 499.80,510.33 500.50,510.35 501.20,510.39 501.90,510.37 502.60,510.21 503.30,509.92 504.00,509.55 504.70,509.23 505.40,509.00 506.10,508.90 506.80,508.94 507.50,509.06 508.20,509.18 508.90,509.22 509.60,509.20 510.30,509.28 511.00,509.50 511.70,509.81 512.40,510.16 513.10,510.59 513.80,511.09 514.50,511.63 515.20,512.18 515.90,512.72 516.60,513.23 517.30,513.72 518.00,513.95 518.70,513.69 519.40,513.18 520.10,512.65 520.80,512.13 521.50,511.66 522.20,511.26 522.90,511.08 523.60,511.26 524.30,511.61 525.00,511.92 525.70,512.10 526.40,512.18 527.10,512.18 527.80,512.22 528.50,512.43 529.20,512.84 529.90,513.38 530.60,513.98 531.30,514.56 532.00,514.74 532.70,514.18 533.40,513.20 534.10,512.18 534.80,511.18 535.50,510.28 536.20,509.49 536.90,509.15 537.60,509.65 538.30,510.63 539.00,511.60 539.70,512.51 540.40,513.30 541.10,513.65 541.80,513.31 542.50,512.67 543.20,512.05 543.90,511.46 544.60,510.90 545.30,510.38 546.00,509.89 546.70,509.42 547.40,508.94 548.10,508.39 548.80,507.77 549.50,507.12 550.20,506.67 550.90,506.56 551.60,506.67 552.30,506.89 553.00,507.21 553.70,507.58 554.40,507.91 555.10,508.13 555.80,508.15 556.50,507.89 557.20,507.48 557.90,507.09 558.60,506.81 559.30,506.66 560.00,506.59 560.70,506.54 561.40,506.44 562.10,506.23 562.80,505.93 563.50,505.57 564.20,505.20 564.90,504.90 565.60,504.70 566.30,504.59 567.00,504.51 567.70,504.44 568.40,504.37 569.10,504.27 569.80,504.16 570.50,504.03 571.20,503.87 571.90,503.67 572.60,503.41 573.30,503.13 574.00,502.87 574.70,502.67 575.40,502.55 576.10,502.49 576.80,502.46 577.50,502.35 578.20,502.01 578.90,501.35 579.60,500.53 580.30,499.70 581.00,498.93 581.70,498.27 582.40,497.72 583.10,497.26 583.80,496.79 584.50,496.27 585.20,495.75 585.90,495.27 586.60,494.79 587.30,494.33 588.00,493.95 588.70,493.65 589.40,493.43 590.10,493.18 590.80,492.80 591.50,492.34 592.20,491.81 592.90,491.16 593.60,490.27 594.30,489.23 595.00,488.16 595.70,487.11 596.40,486.06 597.10,485.05 597.80,484.17 598.50,483.46 599.20,482.83 599.90,482.22 600.60,481.58 601.30,480.88 602.00,480.10 602.70,479.36 603.40,478.80 604.10,478.40 604.80,478.11 605.50,477.91 606.20,477.77 606.90,477.62 607.60,477.49 608.30,477.50 609.00,477.65 609.70,477.82 610.40,478.02 611.10,478.31 611.80,478.65 612.50,478.70 613.20,478.17 613.90,477.33 614.60,476.82 615.30,477.07 616.00,477.68 616.70,478.30 617.40,478.95 618.10,479.66 618.80,480.37 619.50,481.00 620.20,481.55 620.90,482.07 621.60,482.58 622.30,483.09 623.00,483.61 623.70,484.04 624.40,484.11 625.10,483.68 625.80,483.03 626.50,482.36 627.20,481.73 627.90,481.15 628.60,481.33 629.30,482.97 630.00,485.32 630.70,487.61 631.40,489.81 632.10,491.49 632.80,492.08 633.50,491.91 634.20,491.64 634.90,491.46 635.60,491.36 636.30,491.33 637.00,491.57 637.70,492.13 638.40,492.77 639.10,493.36 639.80,493.96 640.50,494.62 641.20,495.12 641.90,495.19 642.60,495.05 643.30,494.88 644.00,494.66 644.70,494.40 645.40,494.29 646.10,494.62 646.80,495.38 647.50,496.29 648.20,496.98 648.90,496.96 649.60,496.15 650.30,495.06 651.00,493.98 651.70,492.94 652.40,492.00 653.10,491.68 653.80,492.32 654.50,493.35 655.20,494.33 655.90,495.27 656.60,496.23 657.30,496.88 658.00,496.76 658.70,496.06 659.40,495.24 660.10,494.38 660.80,493.45 661.50,492.64 662.20,492.45 662.90,492.99 663.60,493.86 664.30,494.81 665.00,495.81 665.70,496.83 666.40,497.56 667.10,497.71 667.80,497.55 668.50,497.37 669.20,497.19 669.90,497.06 670.60,497.05 671.30,497.23 672.00,497.54 672.70,497.85 673.40,498.12 674.10,498.38 674.80,498.65 675.50,498.93 676.20,499.20" fill="none" stroke="#ff0000" stroke-width="2.3" stroke-linejoin="round" stroke-linecap="round" />
<polygon points="498.40,537.06 499.10,536.74 499.80,536.38 500.50,536.04 501.20,535.82 501.90,535.93 502.60,536.39 503.30,536.90 504.00,537.27 504.70,537.53 505.40,537.79 506.10,538.07 506.80,538.31 507.50,538.55 508.20,538.76 508.90,538.81 509.60,538.68 510.30,538.45 511.00,538.28 511.70,538.24 512.40,538.31 513.10,538.40 513.80,538.42 514.50,538.32 515.20,538.14 515.90,537.98 516.60,537.88 517.30,537.82 518.00,537.65 518.70,537.32 519.40,536.91 520.10,536.51 520.80,536.19 521.50,535.95 522.20,535.72 522.90,535.42 523.60,535.24 524.30,535.46 525.00,535.95 525.70,536.55 526.40,537.29 527.10,538.07 527.80,538.79 528.50,539.37 529.20,539.68 529.90,539.63 530.60,539.39 531.30,539.21 532.00,539.09 532.70,538.91 533.40,538.62 534.10,538.24 534.80,537.86 535.50,537.54 536.20,537.30 536.90,537.07 537.60,536.78 538.30,536.37 539.00,535.88 539.70,535.35 540.40,534.85 541.10,534.42 541.80,534.02 542.50,533.57 543.20,533.01 543.90,532.39 544.60,531.79 545.30,531.36 546.00,531.23 546.70,531.26 547.40,531.27 548.10,531.19 548.80,531.10 549.50,530.91 550.20,530.27 550.90,529.07 551.60,527.59 552.30,526.08 553.00,524.92 553.70,524.35 554.40,524.15 555.10,524.11 555.80,524.19 556.50,524.25 557.20,524.36 557.90,524.66 558.60,525.06 559.30,525.50 560.00,526.08 560.70,526.79 561.40,527.35 562.10,527.42 562.80,527.14 563.50,526.76 564.20,526.38 564.90,526.04 565.60,525.73 566.30,525.39 567.00,525.02 567.70,524.64 568.40,524.31 569.10,524.17 569.80,524.49 570.50,525.29 571.20,526.17 571.90,526.88 572.60,527.51 573.30,528.22 574.00,529.11 574.70,530.20 575.40,531.00 576.10,530.96 576.80,530.35 577.50,529.56 578.20,528.71 578.90,527.96 579.60,527.38 580.30,527.06 581.00,527.07 581.70,527.25 582.40,527.37 583.10,527.42 583.80,527.47 584.50,527.46 585.20,527.13 585.90,526.35 586.60,525.39 587.30,524.54 588.00,524.24 588.70,524.80 589.40,525.71 590.10,526.50 590.80,527.24 591.50,528.05 592.20,528.98 592.90,530.06 593.60,531.13 594.30,531.77 595.00,531.98 595.70,531.92 596.40,531.63 597.10,531.19 597.80,530.75 598.50,530.46 599.20,530.33 599.90,530.25 600.60,530.10 601.30,529.84 602.00,529.49 602.70,529.08 603.40,528.68 604.10,528.28 604.80,527.87 605.50,527.45 606.20,527.05 606.90,526.74 607.60,526.55 608.30,526.45 609.00,526.30 609.70,526.00 610.40,525.52 611.10,524.94 611.80,524.52 612.50,524.52 613.20,524.90 613.90,525.43 614.60,525.87 615.30,526.12 616.00,525.97 616.70,525.13 617.40,523.68 618.10,522.14 618.80,520.76 619.50,519.42 620.20,518.14 620.90,517.69 621.60,518.66 622.30,520.32 623.00,522.00 623.70,523.69 624.40,525.15 625.10,526.20 625.80,527.08 626.50,528.03 627.20,529.09 627.90,530.19 628.60,530.99 629.30,531.09 630.00,530.64 630.70,530.05 631.40,529.57 632.10,529.28 632.80,529.23 633.50,529.45 634.20,529.83 634.90,530.12 635.60,530.16 636.30,529.69 637.00,528.63 637.70,527.43 638.40,526.30 639.10,525.14 639.80,523.89 640.50,523.16 641.20,523.65 641.90,524.80 642.60,526.00 643.30,527.19 644.00,528.33 644.70,529.05 645.40,528.94 646.10,528.26 646.80,527.53 647.50,526.84 648.20,526.09 648.90,525.28 649.60,524.59 650.30,524.08 651.00,523.75 651.70,523.56 652.40,523.54 653.10,523.85 653.80,524.55 654.50,525.33 655.20,526.09 655.90,526.92 656.60,527.88 657.30,528.91 658.00,529.42 658.70,528.81 659.40,527.59 660.10,526.37 660.80,525.22 661.50,524.18 662.20,523.19 662.90,522.51 663.60,522.55 664.30,523.13 665.00,523.84 665.70,524.65 666.40,525.45 667.10,525.96 667.80,526.06 668.50,525.92 669.20,525.71 669.90,525.52 670.60,525.40 671.30,525.37 672.00,525.35 672.70,525.27 673.40,525.10 674.10,524.89 674.80,524.75 675.50,524.72 676.20,524.77 676.20,532.37 675.50,532.32 674.80,532.35 674.10,532.49 673.40,532.70 672.70,532.87 672.00,532.95 671.30,532.97 670.60,533.00 669.90,533.12 669.20,533.31 668.50,533.52 667.80,533.66 667.10,533.56 666.40,533.05 665.70,532.25 665.00,531.44 664.30,530.73 663.60,530.15 662.90,530.11 662.20,530.79 661.50,531.78 660.80,532.82 660.10,533.97 659.40,535.19 658.70,536.41 658.00,537.02 657.30,536.51 656.60,535.48 655.90,534.52 655.20,533.69 654.50,532.93 653.80,532.15 653.10,531.45 652.40,531.14 651.70,531.16 651.00,531.35 650.30,531.68 649.60,532.19 648.90,532.88 648.20,533.69 647.50,534.44 646.80,535.13 646.10,535.86 645.40,536.54 644.70,536.65 644.00,535.93 643.30,534.79 642.60,533.60 641.90,532.40 641.20,531.25 640.50,530.76 639.80,531.49 639.10,532.74 638.40,533.90 637.70,535.03 637.00,536.23 636.30,537.29 635.60,537.76 634.90,537.72 634.20,537.43 633.50,537.05 632.80,536.83 632.10,536.88 631.40,537.17 630.70,537.65 630.00,538.24 629.30,538.69 628.60,538.59 627.90,537.79 627.20,536.69 626.50,535.63 625.80,534.68 625.10,533.80 624.40,532.75 623.70,531.29 623.00,529.60 622.30,527.92 621.60,526.26 620.90,525.29 620.20,525.74 619.50,527.02 618.80,528.36 618.10,529.74 617.40,531.28 616.70,532.73 616.00,533.57 615.30,533.72 614.60,533.47 613.90,533.03 613.20,532.50 612.50,532.12 611.80,532.12 611.10,532.54 610.40,533.12 609.70,533.60 609.00,533.90 608.30,534.05 607.60,534.15 606.90,534.34 606.20,534.65 605.50,535.05 604.80,535.47 604.10,535.88 603.40,536.28 602.70,536.68 602.00,537.09 601.30,537.44 600.60,537.70 599.90,537.85 599.20,537.93 598.50,538.06 597.80,538.35 597.10,538.79 596.40,539.23 595.70,539.52 595.00,539.58 594.30,539.37 593.60,538.73 592.90,537.66 592.20,536.58 591.50,535.65 590.80,534.84 590.10,534.10 589.40,533.31 588.70,532.40 588.00,531.84 587.30,532.14 586.60,532.99 585.90,533.95 585.20,534.73 584.50,535.06 583.80,535.07 583.10,535.02 582.40,534.97 581.70,534.85 581.00,534.67 580.30,534.66 579.60,534.98 578.90,535.56 578.20,536.31 577.50,537.16 576.80,537.95 576.10,538.56 575.40,538.60 574.70,537.80 574.00,536.71 573.30,535.82 572.60,535.11 571.90,534.48 571.20,533.77 570.50,532.89 569.80,532.09 569.10,531.77 568.40,531.91 567.70,532.24 567.00,532.62 566.30,532.99 565.60,533.33 564.90,533.64 564.20,533.98 563.50,534.36 562.80,534.74 562.10,535.02 561.40,534.95 560.70,534.39 560.00,533.68 559.30,533.10 558.60,532.66 557.90,532.26 557.20,531.96 556.50,531.85 555.80,531.79 555.10,531.71 554.40,531.75 553.70,531.95 553.00,532.52 552.30,533.68 551.60,535.19 550.90,536.67 550.20,537.87 549.50,538.51 548.80,538.70 548.10,538.79 547.40,538.87 546.70,538.86 546.00,538.83 545.30,538.96 544.60,539.39 543.90,539.99 543.20,540.61 542.50,541.17 541.80,541.62 541.10,542.02 540.40,542.45 539.70,542.95 539.00,543.48 538.30,543.97 537.60,544.38 536.90,544.67 536.20,544.90 535.50,545.14 534.80,545.46 534.10,545.84 533.40,546.22 532.70,546.51 532.00,546.69 531.30,546.81 530.60,546.99 529.90,547.23 529.20,547.28 528.50,546.97 527.80,546.39 527.10,545.67 526.40,544.89 525.70,544.15 525.00,543.55 524.30,543.06 523.60,542.84 522.90,543.02 522.20,543.32 521.50,543.55 520.80,543.79 520.10,544.11 519.40,544.51 518.70,544.92 518.00,545.25 517.30,545.42 516.60,545.48 515.90,545.58 515.20,545.74 514.50,545.92 513.80,546.02 513.10,546.00 512.40,545.91 511.70,545.84 511.00,545.88 510.30,546.05 509.60,546.28 508.90,546.41 508.20,546.36 507.50,546.15 506.80,545.91 506.10,545.67 505.40,545.39 504.70,545.13 504.00,544.87 503.30,544.50 502.60,543.99 501.90,543.53 501.20,543.42 500.50,543.64 499.80,543.98 499.10,544.34 498.40,544.66" fill="#8080ff" stroke="none" stroke-width="0" fill-opacity="0.5"/>
<polygon points="498.40,537.08 499.10,537.72 499.80,538.31 500.50,538.28 501.20,537.44 501.90,536.27 502.60,535.03 503.30,533.73 504.00,532.47 504.70,531.89 505.40,532.43 506.10,533.51 506.80,534.64 507.50,535.85 508.20,536.88 508.90,537.39 509.60,537.55 510.30,537.56 511.00,537.44 511.70,537.31 512.40,537.32 513.10,537.60 513.80,538.15 514.50,538.79 515.20,539.28 515.90,539.53 516.60,539.53 517.30,539.18 518.00,538.62 518.70,538.13 519.40,537.74 520.10,537.25 520.80,536.58 521.50,536.02 522.20,535.91 522.90,536.15 523.60,536.58 524.30,537.15 525.00,537.75 525.70,538.26 526.40,538.60 527.10,538.75 527.80,538.81 528.50,538.90 529.20,539.05 529.90,539.24 530.60,539.48 531.30,539.76 532.00,540.08 532.70,540.42 533.40,540.72 534.10,540.93 534.80,541.07 535.50,541.28 536.20,541.65 536.90,542.19 537.60,542.76 538.30,542.86 539.00,542.16 539.70,540.98 540.40,539.75 541.10,538.67 541.80,537.84 542.50,537.44 543.20,537.54 543.90,537.76 544.60,537.77 545.30,537.61 546.00,537.26 546.70,536.56 547.40,535.69 548.10,534.85 548.80,533.96 549.50,532.90 550.20,531.63 550.90,530.24 551.60,528.86 552.30,527.67 553.00,527.00 553.70,526.95 554.40,527.14 555.10,527.31 555.80,527.43 556.50,527.50 557.20,527.49 557.90,527.43 558.60,527.48 559.30,527.81 560.00,528.38 560.70,529.06 561.40,529.73 562.10,530.24 562.80,530.44 563.50,530.24 564.20,529.88 564.90,529.68 565.60,529.72 566.30,529.89 567.00,529.98 567.70,529.83 568.40,529.43 569.10,528.97 569.80,528.79 570.50,529.05 571.20,529.62 571.90,530.24 572.60,530.73 573.30,531.01 574.00,531.12 574.70,531.21 575.40,531.41 576.10,531.51 576.80,531.21 577.50,530.67 578.20,530.06 578.90,529.38 579.60,528.63 580.30,527.96 581.00,527.58 581.70,527.44 582.40,527.40 583.10,527.45 583.80,527.60 584.50,527.77 585.20,527.85 585.90,527.73 586.60,527.44 587.30,527.10 588.00,526.87 588.70,526.86 589.40,527.04 590.10,527.26 590.80,526.83 591.50,525.15 592.20,522.79 592.90,520.42 593.60,518.54 594.30,517.60 595.00,517.33 595.70,517.14 596.40,516.74 597.10,516.10 597.80,515.35 598.50,514.66 599.20,514.15 599.90,513.83 600.60,513.59 601.30,513.29 602.00,512.93 602.70,512.76 603.40,512.92 604.10,513.26 604.80,513.65 605.50,514.11 606.20,514.62 606.90,514.96 607.60,514.85 608.30,514.49 609.00,514.04 609.70,513.46 610.40,512.79 611.10,512.27 611.80,512.19 612.50,512.53 613.20,513.03 613.90,513.48 614.60,513.72 615.30,513.71 616.00,513.50 616.70,513.30 617.40,513.31 618.10,513.56 618.80,513.90 619.50,514.11 620.20,514.06 620.90,513.84 621.60,513.90 622.30,514.65 623.00,515.88 623.70,517.28 624.40,518.69 625.10,519.97 625.80,520.56 626.50,519.93 627.20,518.60 627.90,517.28 628.60,516.06 629.30,514.92 630.00,513.80 630.70,512.67 631.40,511.72 632.10,511.34 632.80,511.44 633.50,511.65 634.20,511.84 634.90,512.11 635.60,512.52 636.30,513.06 637.00,513.63 637.70,514.00 638.40,514.06 639.10,513.88 639.80,513.68 640.50,513.64 641.20,513.86 641.90,514.25 642.60,514.63 643.30,514.69 644.00,514.21 644.70,513.41 645.40,512.65 646.10,512.10 646.80,511.79 647.50,511.59 648.20,511.61 648.90,512.21 649.60,513.34 650.30,514.62 651.00,515.97 651.70,517.19 652.40,517.29 653.10,515.76 653.80,513.50 654.50,511.17 655.20,508.76 655.90,506.49 656.60,505.62 657.30,507.08 658.00,509.64 658.70,512.29 659.40,515.03 660.10,517.04 660.80,517.26 661.50,516.28 662.20,514.99 662.90,513.61 663.60,512.71 664.30,513.01 665.00,514.28 665.70,515.82 666.40,517.26 667.10,518.23 667.80,518.22 668.50,517.30 669.20,516.22 669.90,515.40 670.60,514.78 671.30,514.20 672.00,513.49 672.70,512.93 673.40,512.80 674.10,512.96 674.80,513.27 675.50,513.76 676.20,514.38 676.20,521.98 675.50,521.36 674.80,520.87 674.10,520.56 673.40,520.40 672.70,520.53 672.00,521.09 671.30,521.80 670.60,522.38 669.90,523.00 669.20,523.82 668.50,524.90 667.80,525.82 667.10,525.83 666.40,524.86 665.70,523.42 665.00,521.88 664.30,520.61 663.60,520.31 662.90,521.21 662.20,522.59 661.50,523.88 660.80,524.86 660.10,524.64 659.40,522.63 658.70,519.89 658.00,517.24 657.30,514.68 656.60,513.22 655.90,514.09 655.20,516.36 654.50,518.77 653.80,521.10 653.10,523.36 652.40,524.89 651.70,524.79 651.00,523.57 650.30,522.22 649.60,520.94 648.90,519.81 648.20,519.21 647.50,519.19 646.80,519.39 646.10,519.70 645.40,520.25 644.70,521.01 644.00,521.81 643.30,522.29 642.60,522.23 641.90,521.85 641.20,521.46 640.50,521.24 639.80,521.28 639.10,521.48 638.40,521.66 637.70,521.60 637.00,521.23 636.30,520.66 635.60,520.12 634.90,519.71 634.20,519.44 633.50,519.25 632.80,519.04 632.10,518.94 631.40,519.32 630.70,520.27 630.00,521.40 629.30,522.52 628.60,523.66 627.90,524.88 627.20,526.20 626.50,527.53 625.80,528.16 625.10,527.57 624.40,526.29 623.70,524.88 623.00,523.48 622.30,522.25 621.60,521.50 620.90,521.44 620.20,521.66 619.50,521.71 618.80,521.50 618.10,521.16 617.40,520.91 616.70,520.90 616.00,521.10 615.30,521.31 614.60,521.32 613.90,521.08 613.20,520.63 612.50,520.13 611.80,519.79 611.10,519.87 610.40,520.39 609.70,521.06 609.00,521.64 608.30,522.09 607.60,522.45 606.90,522.56 606.20,522.22 605.50,521.71 604.80,521.25 604.10,520.86 603.40,520.52 602.70,520.36 602.00,520.53 601.30,520.89 600.60,521.19 599.90,521.43 599.20,521.75 598.50,522.26 597.80,522.95 597.10,523.70 596.40,524.34 595.70,524.74 595.00,524.93 594.30,525.20 593.60,526.14 592.90,528.02 592.20,530.39 591.50,532.75 590.80,534.43 590.10,534.86 589.40,534.64 588.70,534.46 588.00,534.47 587.30,534.70 586.60,535.04 585.90,535.33 585.20,535.45 584.50,535.37 583.80,535.20 583.10,535.05 582.40,535.00 581.70,535.04 581.00,535.18 580.30,535.56 579.60,536.23 578.90,536.98 578.20,537.66 577.50,538.27 576.80,538.81 576.10,539.11 575.40,539.01 574.70,538.81 574.00,538.72 573.30,538.61 572.60,538.33 571.90,537.84 571.20,537.22 570.50,536.65 569.80,536.39 569.10,536.57 568.40,537.03 567.70,537.43 567.00,537.58 566.30,537.49 565.60,537.32 564.90,537.28 564.20,537.48 563.50,537.84 562.80,538.04 562.10,537.84 561.40,537.33 560.70,536.66 560.00,535.98 559.30,535.41 558.60,535.08 557.90,535.03 557.20,535.09 556.50,535.10 555.80,535.03 555.10,534.91 554.40,534.74 553.70,534.55 553.00,534.60 552.30,535.27 551.60,536.46 550.90,537.84 550.20,539.23 549.50,540.50 548.80,541.56 548.10,542.45 547.40,543.29 546.70,544.16 546.00,544.86 545.30,545.21 544.60,545.37 543.90,545.36 543.20,545.14 542.50,545.04 541.80,545.44 541.10,546.27 540.40,547.35 539.70,548.58 539.00,549.76 538.30,550.46 537.60,550.36 536.90,549.79 536.20,549.25 535.50,548.88 534.80,548.67 534.10,548.53 533.40,548.32 532.70,548.02 532.00,547.68 531.30,547.36 530.60,547.08 529.90,546.84 529.20,546.65 528.50,546.50 527.80,546.41 527.10,546.35 526.40,546.20 525.70,545.86 525.00,545.35 524.30,544.75 523.60,544.18 522.90,543.75 522.20,543.51 521.50,543.62 520.80,544.18 520.10,544.85 519.40,545.34 518.70,545.73 518.00,546.22 517.30,546.78 516.60,547.13 515.90,547.13 515.20,546.88 514.50,546.39 513.80,545.75 513.10,545.20 512.40,544.92 511.70,544.91 511.00,545.04 510.30,545.16 509.60,545.15 508.90,544.99 508.20,544.48 507.50,543.45 506.80,542.24 506.10,541.11 505.40,540.03 504.70,539.49 504.00,540.07 503.30,541.33 502.60,542.63 501.90,543.87 501.20,545.04 500.50,545.88 499.80,545.91 499.10,545.32 498.40,544.68" fill="#ff8080" stroke="none" stroke-width="0" fill-opacity="0.52"/>
<polyline points="498.40,540.86 499.10,540.54 499.80,540.18 500.50,539.84 501.20,539.62 501.90,539.73 502.60,540.19 503.30,540.70 504.00,541.07 504.70,541.33 505.40,541.59 506.10,541.87 506.80,542.11 507.50,542.35 508.20,542.56 508.90,542.61 509.60,542.48 510.30,542.25 511.00,542.08 511.70,542.04 512.40,542.11 513.10,542.20 513.80,542.22 514.50,542.12 515.20,541.94 515.90,541.78 516.60,541.68 517.30,541.62 518.00,541.45 518.70,541.12 519.40,540.71 520.10,540.31 520.80,539.99 521.50,539.75 522.20,539.52 522.90,539.22 523.60,539.04 524.30,539.26 525.00,539.75 525.70,540.35 526.40,541.09 527.10,541.87 527.80,542.59 528.50,543.17 529.20,543.48 529.90,543.43 530.60,543.19 531.30,543.01 532.00,542.89 532.70,542.71 533.40,542.42 534.10,542.04 534.80,541.66 535.50,541.34 536.20,541.10 536.90,540.87 537.60,540.58 538.30,540.17 539.00,539.68 539.70,539.15 540.40,538.65 541.10,538.22 541.80,537.82 542.50,537.37 543.20,536.81 543.90,536.19 544.60,535.59 545.30,535.16 546.00,535.03 546.70,535.06 547.40,535.07 548.10,534.99 548.80,534.90 549.50,534.71 550.20,534.07 550.90,532.87 551.60,531.39 552.30,529.88 553.00,528.72 553.70,528.15 554.40,527.95 555.10,527.91 555.80,527.99 556.50,528.05 557.20,528.16 557.90,528.46 558.60,528.86 559.30,529.30 560.00,529.88 560.70,530.59 561.40,531.15 562.10,531.22 562.80,530.94 563.50,530.56 564.20,530.18 564.90,529.84 565.60,529.53 566.30,529.19 567.00,528.82 567.70,528.44 568.40,528.11 569.10,527.97 569.80,528.29 570.50,529.09 571.20,529.97 571.90,530.68 572.60,531.31 573.30,532.02 574.00,532.91 574.70,534.00 575.40,534.80 576.10,534.76 576.80,534.15 577.50,533.36 578.20,532.51 578.90,531.76 579.60,531.18 580.30,530.86 581.00,530.87 581.70,531.05 582.40,531.17 583.10,531.22 583.80,531.27 584.50,531.26 585.20,530.93 585.90,530.15 586.60,529.19 587.30,528.34 588.00,528.04 588.70,528.60 589.40,529.51 590.10,530.30 590.80,531.04 591.50,531.85 592.20,532.78 592.90,533.86 593.60,534.93 594.30,535.57 595.00,535.78 595.70,535.72 596.40,535.43 597.10,534.99 597.80,534.55 598.50,534.26 599.20,534.13 599.90,534.05 600.60,533.90 601.30,533.64 602.00,533.29 602.70,532.88 603.40,532.48 604.10,532.08 604.80,531.67 605.50,531.25 606.20,530.85 606.90,530.54 607.60,530.35 608.30,530.25 609.00,530.10 609.70,529.80 610.40,529.32 611.10,528.74 611.80,528.32 612.50,528.32 613.20,528.70 613.90,529.23 614.60,529.67 615.30,529.92 616.00,529.77 616.70,528.93 617.40,527.48 618.10,525.94 618.80,524.56 619.50,523.22 620.20,521.94 620.90,521.49 621.60,522.46 622.30,524.12 623.00,525.80 623.70,527.49 624.40,528.95 625.10,530.00 625.80,530.88 626.50,531.83 627.20,532.89 627.90,533.99 628.60,534.79 629.30,534.89 630.00,534.44 630.70,533.85 631.40,533.37 632.10,533.08 632.80,533.03 633.50,533.25 634.20,533.63 634.90,533.92 635.60,533.96 636.30,533.49 637.00,532.43 637.70,531.23 638.40,530.10 639.10,528.94 639.80,527.69 640.50,526.96 641.20,527.45 641.90,528.60 642.60,529.80 643.30,530.99 644.00,532.13 644.70,532.85 645.40,532.74 646.10,532.06 646.80,531.33 647.50,530.64 648.20,529.89 648.90,529.08 649.60,528.39 650.30,527.88 651.00,527.55 651.70,527.36 652.40,527.34 653.10,527.65 653.80,528.35 654.50,529.13 655.20,529.89 655.90,530.72 656.60,531.68 657.30,532.71 658.00,533.22 658.70,532.61 659.40,531.39 660.10,530.17 660.80,529.02 661.50,527.98 662.20,526.99 662.90,526.31 663.60,526.35 664.30,526.93 665.00,527.64 665.70,528.45 666.40,529.25 667.10,529.76 667.80,529.86 668.50,529.72 669.20,529.51 669.90,529.32 670.60,529.20 671.30,529.17 672.00,529.15 672.70,529.07 673.40,528.90 674.10,528.69 674.80,528.55 675.50,528.52 676.20,528.57" fill="none" stroke="#0000ff" stroke-width="2.3" stroke-linejoin="round" stroke-linecap="round" />
<polyline points="498.40,540.88 499.10,541.52 499.80,542.11 500.50,542.08 501.20,541.24 501.90,540.07 502.60,538.83 503.30,537.53 504.00,536.27 504.70,535.69 505.40,536.23 506.10,537.31 506.80,538.44 507.50,539.65 508.20,540.68 508.90,541.19 509.60,541.35 510.30,541.36 511.00,541.24 511.70,541.11 512.40,541.12 513.10,541.40 513.80,541.95 514.50,542.59 515.20,543.08 515.90,543.33 516.60,543.33 517.30,542.98 518.00,542.42 518.70,541.93 519.40,541.54 520.10,541.05 520.80,540.38 521.50,539.82 522.20,539.71 522.90,539.95 523.60,540.38 524.30,540.95 525.00,541.55 525.70,542.06 526.40,542.40 527.10,542.55 527.80,542.61 528.50,542.70 529.20,542.85 529.90,543.04 530.60,543.28 531.30,543.56 532.00,543.88 532.70,544.22 533.40,544.52 534.10,544.73 534.80,544.87 535.50,545.08 536.20,545.45 536.90,545.99 537.60,546.56 538.30,546.66 539.00,545.96 539.70,544.78 540.40,543.55 541.10,542.47 541.80,541.64 542.50,541.24 543.20,541.34 543.90,541.56 544.60,541.57 545.30,541.41 546.00,541.06 546.70,540.36 547.40,539.49 548.10,538.65 548.80,537.76 549.50,536.70 550.20,535.43 550.90,534.04 551.60,532.66 552.30,531.47 553.00,530.80 553.70,530.75 554.40,530.94 555.10,531.11 555.80,531.23 556.50,531.30 557.20,531.29 557.90,531.23 558.60,531.28 559.30,531.61 560.00,532.18 560.70,532.86 561.40,533.53 562.10,534.04 562.80,534.24 563.50,534.04 564.20,533.68 564.90,533.48 565.60,533.52 566.30,533.69 567.00,533.78 567.70,533.63 568.40,533.23 569.10,532.77 569.80,532.59 570.50,532.85 571.20,533.42 571.90,534.04 572.60,534.53 573.30,534.81 574.00,534.92 574.70,535.01 575.40,535.21 576.10,535.31 576.80,535.01 577.50,534.47 578.20,533.86 578.90,533.18 579.60,532.43 580.30,531.76 581.00,531.38 581.70,531.24 582.40,531.20 583.10,531.25 583.80,531.40 584.50,531.57 585.20,531.65 585.90,531.53 586.60,531.24 587.30,530.90 588.00,530.67 588.70,530.66 589.40,530.84 590.10,531.06 590.80,530.63 591.50,528.95 592.20,526.59 592.90,524.22 593.60,522.34 594.30,521.40 595.00,521.13 595.70,520.94 596.40,520.54 597.10,519.90 597.80,519.15 598.50,518.46 599.20,517.95 599.90,517.63 600.60,517.39 601.30,517.09 602.00,516.73 602.70,516.56 603.40,516.72 604.10,517.06 604.80,517.45 605.50,517.91 606.20,518.42 606.90,518.76 607.60,518.65 608.30,518.29 609.00,517.84 609.70,517.26 610.40,516.59 611.10,516.07 611.80,515.99 612.50,516.33 613.20,516.83 613.90,517.28 614.60,517.52 615.30,517.51 616.00,517.30 616.70,517.10 617.40,517.11 618.10,517.36 618.80,517.70 619.50,517.91 620.20,517.86 620.90,517.64 621.60,517.70 622.30,518.45 623.00,519.68 623.70,521.08 624.40,522.49 625.10,523.77 625.80,524.36 626.50,523.73 627.20,522.40 627.90,521.08 628.60,519.86 629.30,518.72 630.00,517.60 630.70,516.47 631.40,515.52 632.10,515.14 632.80,515.24 633.50,515.45 634.20,515.64 634.90,515.91 635.60,516.32 636.30,516.86 637.00,517.43 637.70,517.80 638.40,517.86 639.10,517.68 639.80,517.48 640.50,517.44 641.20,517.66 641.90,518.05 642.60,518.43 643.30,518.49 644.00,518.01 644.70,517.21 645.40,516.45 646.10,515.90 646.80,515.59 647.50,515.39 648.20,515.41 648.90,516.01 649.60,517.14 650.30,518.42 651.00,519.77 651.70,520.99 652.40,521.09 653.10,519.56 653.80,517.30 654.50,514.97 655.20,512.56 655.90,510.29 656.60,509.42 657.30,510.88 658.00,513.44 658.70,516.09 659.40,518.83 660.10,520.84 660.80,521.06 661.50,520.08 662.20,518.79 662.90,517.41 663.60,516.51 664.30,516.81 665.00,518.08 665.70,519.62 666.40,521.06 667.10,522.03 667.80,522.02 668.50,521.10 669.20,520.02 669.90,519.20 670.60,518.58 671.30,518.00 672.00,517.29 672.70,516.73 673.40,516.60 674.10,516.76 674.80,517.07 675.50,517.56 676.20,518.18" fill="none" stroke="#ff0000" stroke-width="2.3" stroke-linejoin="round" stroke-linecap="round" />
<polygon points="498.40,563.48 499.10,563.60 499.80,563.67 500.50,563.70 501.20,563.73 501.90,563.81 502.60,563.94 503.30,564.04 504.00,564.02 504.70,563.91 505.40,563.78 506.10,563.64 506.80,563.51 507.50,563.46 508.20,563.57 508.90,563.75 509.60,563.98 510.30,564.28 511.00,564.62 511.70,564.96 512.40,565.25 513.10,565.47 513.80,565.66 514.50,565.97 515.20,566.47 515.90,567.11 516.60,567.73 517.30,568.17 518.00,568.29 518.70,567.99 519.40,567.35 520.10,566.79 520.80,566.46 521.50,566.16 522.20,565.69 522.90,564.96 523.60,564.24 524.30,563.90 525.00,563.95 525.70,564.21 526.40,564.54 527.10,564.77 527.80,564.82 528.50,564.73 529.20,564.50 529.90,563.99 530.60,563.32 531.30,562.62 532.00,561.86 532.70,561.03 533.40,560.29 534.10,560.03 534.80,560.31 535.50,560.78 536.20,561.21 536.90,561.57 537.60,561.90 538.30,562.29 539.00,562.77 539.70,563.30 540.40,563.82 541.10,563.85 541.80,563.00 542.50,561.73 543.20,560.51 543.90,559.39 544.60,558.33 545.30,557.28 546.00,556.19 546.70,555.31 547.40,555.02 548.10,555.19 548.80,555.47 549.50,555.61 550.20,555.27 550.90,554.41 551.60,553.39 552.30,552.35 553.00,551.22 553.70,549.97 554.40,548.63 555.10,547.41 555.80,546.99 556.50,547.83 557.20,549.24 557.90,550.57 558.60,551.67 559.30,552.58 560.00,553.46 560.70,554.49 561.40,555.78 562.10,556.99 562.80,557.59 563.50,557.57 564.20,557.23 564.90,556.81 565.60,556.50 566.30,556.40 567.00,556.45 567.70,556.50 568.40,556.40 569.10,556.13 569.80,555.80 570.50,555.54 571.20,555.41 571.90,555.34 572.60,555.23 573.30,555.03 574.00,554.76 574.70,554.53 575.40,554.39 576.10,554.33 576.80,554.25 577.50,554.10 578.20,553.97 578.90,553.90 579.60,553.94 580.30,554.12 581.00,554.39 581.70,554.60 582.40,554.68 583.10,554.71 583.80,554.92 584.50,555.33 585.20,555.53 585.90,555.30 586.60,554.86 587.30,554.35 588.00,553.73 588.70,553.04 589.40,552.50 590.10,552.34 590.80,552.41 591.50,552.55 592.20,552.75 592.90,552.96 593.60,553.11 594.30,553.15 595.00,553.11 595.70,553.07 596.40,553.14 597.10,553.38 597.80,553.76 598.50,554.16 599.20,554.42 599.90,554.49 600.60,554.35 601.30,553.97 602.00,553.40 602.70,552.87 603.40,552.42 604.10,551.88 604.80,551.14 605.50,550.24 606.20,549.62 606.90,549.71 607.60,550.27 608.30,550.89 609.00,551.44 609.70,551.86 610.40,552.18 611.10,552.52 611.80,552.98 612.50,553.53 613.20,554.07 613.90,554.37 614.60,554.22 615.30,553.75 616.00,553.30 616.70,552.98 617.40,552.71 618.10,552.34 618.80,551.80 619.50,551.19 620.20,550.83 620.90,550.91 621.60,551.29 622.30,551.73 623.00,552.07 623.70,552.22 624.40,552.22 625.10,552.53 625.80,553.64 626.50,555.24 627.20,556.95 627.90,558.63 628.60,560.19 629.30,561.24 630.00,561.32 630.70,560.73 631.40,560.08 632.10,559.51 632.80,559.01 633.50,558.53 634.20,558.04 634.90,557.56 635.60,557.09 636.30,556.60 637.00,556.12 637.70,555.73 638.40,555.52 639.10,555.76 639.80,556.55 640.50,557.48 641.20,558.25 641.90,558.95 642.60,559.72 643.30,560.65 644.00,561.38 644.70,561.38 645.40,560.81 646.10,560.04 646.80,559.17 647.50,558.35 648.20,557.66 648.90,557.07 649.60,556.48 650.30,555.80 651.00,555.01 651.70,554.22 652.40,553.51 653.10,552.96 653.80,552.68 654.50,552.63 655.20,552.58 655.90,552.48 656.60,552.46 657.30,552.61 658.00,552.89 658.70,553.15 659.40,553.24 660.10,553.12 660.80,553.05 661.50,553.39 662.20,554.13 662.90,555.09 663.60,556.05 664.30,556.84 665.00,557.41 665.70,557.84 666.40,558.20 667.10,558.35 667.80,558.23 668.50,558.01 669.20,557.71 669.90,557.25 670.60,556.66 671.30,556.05 672.00,555.58 672.70,555.74 673.40,556.84 674.10,558.36 674.80,559.87 675.50,561.32 676.20,562.73 676.20,570.33 675.50,568.92 674.80,567.47 674.10,565.96 673.40,564.44 672.70,563.34 672.00,563.18 671.30,563.65 670.60,564.26 669.90,564.85 669.20,565.31 668.50,565.61 667.80,565.83 667.10,565.95 666.40,565.80 665.70,565.44 665.00,565.01 664.30,564.44 663.60,563.65 662.90,562.69 662.20,561.73 661.50,560.99 660.80,560.65 660.10,560.72 659.40,560.84 658.70,560.75 658.00,560.49 657.30,560.21 656.60,560.06 655.90,560.08 655.20,560.18 654.50,560.23 653.80,560.28 653.10,560.56 652.40,561.11 651.70,561.82 651.00,562.61 650.30,563.40 649.60,564.08 648.90,564.67 648.20,565.26 647.50,565.95 646.80,566.77 646.10,567.64 645.40,568.41 644.70,568.98 644.00,568.98 643.30,568.25 642.60,567.32 641.90,566.55 641.20,565.85 640.50,565.08 639.80,564.15 639.10,563.36 638.40,563.12 637.70,563.33 637.00,563.72 636.30,564.20 635.60,564.69 634.90,565.16 634.20,565.64 633.50,566.13 632.80,566.61 632.10,567.11 631.40,567.68 630.70,568.33 630.00,568.92 629.30,568.84 628.60,567.79 627.90,566.23 627.20,564.55 626.50,562.84 625.80,561.24 625.10,560.13 624.40,559.82 623.70,559.82 623.00,559.67 622.30,559.33 621.60,558.89 620.90,558.51 620.20,558.43 619.50,558.79 618.80,559.40 618.10,559.94 617.40,560.31 616.70,560.58 616.00,560.90 615.30,561.35 614.60,561.82 613.90,561.97 613.20,561.67 612.50,561.13 611.80,560.58 611.10,560.12 610.40,559.78 609.70,559.46 609.00,559.04 608.30,558.49 607.60,557.87 606.90,557.31 606.20,557.22 605.50,557.84 604.80,558.74 604.10,559.48 603.40,560.02 602.70,560.47 602.00,561.00 601.30,561.57 600.60,561.95 599.90,562.09 599.20,562.02 598.50,561.76 597.80,561.36 597.10,560.98 596.40,560.74 595.70,560.67 595.00,560.71 594.30,560.75 593.60,560.71 592.90,560.56 592.20,560.35 591.50,560.15 590.80,560.01 590.10,559.94 589.40,560.10 588.70,560.64 588.00,561.33 587.30,561.95 586.60,562.46 585.90,562.90 585.20,563.13 584.50,562.93 583.80,562.52 583.10,562.31 582.40,562.28 581.70,562.20 581.00,561.99 580.30,561.72 579.60,561.54 578.90,561.50 578.20,561.57 577.50,561.70 576.80,561.85 576.10,561.93 575.40,561.99 574.70,562.13 574.00,562.36 573.30,562.63 572.60,562.83 571.90,562.94 571.20,563.01 570.50,563.14 569.80,563.40 569.10,563.73 568.40,564.00 567.70,564.10 567.00,564.05 566.30,564.00 565.60,564.10 564.90,564.41 564.20,564.83 563.50,565.17 562.80,565.19 562.10,564.59 561.40,563.38 560.70,562.09 560.00,561.06 559.30,560.18 558.60,559.27 557.90,558.17 557.20,556.84 556.50,555.43 555.80,554.59 555.10,555.01 554.40,556.23 553.70,557.57 553.00,558.82 552.30,559.95 551.60,560.99 550.90,562.01 550.20,562.87 549.50,563.21 548.80,563.07 548.10,562.79 547.40,562.62 546.70,562.91 546.00,563.79 545.30,564.88 544.60,565.93 543.90,566.99 543.20,568.11 542.50,569.33 541.80,570.60 541.10,571.45 540.40,571.42 539.70,570.90 539.00,570.37 538.30,569.89 537.60,569.50 536.90,569.17 536.20,568.81 535.50,568.38 534.80,567.91 534.10,567.63 533.40,567.89 532.70,568.63 532.00,569.46 531.30,570.22 530.60,570.92 529.90,571.59 529.20,572.10 528.50,572.33 527.80,572.42 527.10,572.37 526.40,572.14 525.70,571.81 525.00,571.55 524.30,571.50 523.60,571.84 522.90,572.56 522.20,573.29 521.50,573.76 520.80,574.06 520.10,574.39 519.40,574.95 518.70,575.59 518.00,575.89 517.30,575.77 516.60,575.33 515.90,574.71 515.20,574.07 514.50,573.57 513.80,573.26 513.10,573.07 512.40,572.85 511.70,572.56 511.00,572.22 510.30,571.88 509.60,571.58 508.90,571.35 508.20,571.17 507.50,571.06 506.80,571.11 506.10,571.24 505.40,571.38 504.70,571.51 504.00,571.62 503.30,571.64 502.60,571.54 501.90,571.41 501.20,571.33 500.50,571.30 499.80,571.27 499.10,571.20 498.40,571.08" fill="#8080ff" stroke="none" stroke-width="0" fill-opacity="0.5"/>
<polygon points="498.40,563.07 499.10,562.76 499.80,562.49 500.50,562.19 501.20,561.77 501.90,561.24 502.60,560.69 503.30,560.26 504.00,559.97 504.70,559.71 505.40,559.38 506.10,558.94 506.80,558.45 507.50,558.18 508.20,558.38 508.90,558.85 509.60,559.34 510.30,559.77 511.00,560.11 511.70,560.39 512.40,560.66 513.10,560.96 513.80,561.29 514.50,561.63 515.20,562.00 515.90,562.41 516.60,562.86 517.30,563.26 518.00,563.45 518.70,563.38 519.40,563.18 520.10,562.99 520.80,562.87 521.50,562.82 522.20,562.80 522.90,562.72 523.60,562.63 524.30,562.62 525.00,562.73 525.70,562.93 526.40,563.17 527.10,563.31 527.80,563.30 528.50,563.17 529.20,563.08 529.90,563.15 530.60,563.42 531.30,563.77 532.00,564.02 532.70,564.05 533.40,563.93 534.10,563.80 534.80,563.85 535.50,564.22 536.20,564.82 536.90,565.39 537.60,565.78 538.30,566.09 539.00,566.48 539.70,567.07 540.40,567.53 541.10,567.42 541.80,566.84 542.50,566.03 543.20,565.14 543.90,564.38 544.60,563.86 545.30,563.61 546.00,563.56 546.70,563.48 547.40,563.23 548.10,562.90 548.80,562.64 549.50,562.46 550.20,562.13 550.90,561.46 551.60,560.57 552.30,559.48 553.00,558.00 553.70,556.11 554.40,554.13 555.10,552.29 555.80,551.16 556.50,551.18 557.20,551.70 557.90,552.23 558.60,552.87 559.30,553.64 560.00,554.47 560.70,555.28 561.40,556.01 562.10,556.34 562.80,555.81 563.50,554.64 564.20,553.34 564.90,552.01 565.60,550.89 566.30,550.41 567.00,550.54 567.70,550.89 568.40,551.24 569.10,551.55 569.80,551.82 570.50,552.06 571.20,552.33 571.90,552.62 572.60,552.90 573.30,553.12 574.00,553.29 574.70,553.48 575.40,553.76 576.10,554.16 576.80,554.61 577.50,554.99 578.20,555.19 578.90,555.15 579.60,554.88 580.30,554.57 581.00,554.40 581.70,554.34 582.40,554.22 583.10,553.94 583.80,553.54 584.50,553.11 585.20,552.70 585.90,552.32 586.60,551.92 587.30,551.39 588.00,550.67 588.70,549.86 589.40,549.06 590.10,548.31 590.80,547.64 591.50,546.98 592.20,546.13 592.90,545.02 593.60,544.04 594.30,543.71 595.00,544.03 595.70,544.63 596.40,545.24 597.10,545.73 597.80,546.04 598.50,546.17 599.20,546.00 599.90,545.55 600.60,545.02 601.30,544.43 602.00,543.66 602.70,542.75 603.40,541.87 604.10,541.30 604.80,541.17 605.50,541.24 606.20,541.24 606.90,541.08 607.60,540.78 608.30,540.45 609.00,540.20 609.70,540.05 610.40,540.15 611.10,540.63 611.80,541.30 612.50,541.99 613.20,542.69 613.90,543.44 614.60,544.05 615.30,544.23 616.00,543.98 616.70,543.60 617.40,543.23 618.10,542.91 618.80,542.64 619.50,542.28 620.20,541.49 620.90,540.14 621.60,538.57 622.30,537.00 623.00,535.39 623.70,533.70 624.40,532.61 625.10,532.84 625.80,533.83 626.50,534.96 627.20,536.18 627.90,537.37 628.60,538.35 629.30,539.01 630.00,539.49 630.70,540.02 631.40,540.69 632.10,541.43 632.80,542.12 633.50,542.68 634.20,543.00 634.90,542.83 635.60,542.24 636.30,541.59 637.00,540.96 637.70,540.17 638.40,539.15 639.10,538.01 639.80,536.94 640.50,536.11 641.20,535.95 641.90,536.78 642.60,537.91 643.30,538.82 644.00,539.60 644.70,540.44 645.40,541.45 646.10,542.46 646.80,543.13 647.50,543.40 648.20,543.45 648.90,543.46 649.60,543.62 650.30,543.97 651.00,544.29 651.70,544.06 652.40,543.10 653.10,541.77 653.80,540.40 654.50,539.16 655.20,538.13 655.90,537.29 656.60,537.02 657.30,537.56 658.00,538.42 658.70,539.24 659.40,540.13 660.10,541.11 660.80,542.01 661.50,542.63 662.20,543.04 662.90,543.41 663.60,543.83 664.30,544.35 665.00,544.83 665.70,545.00 666.40,544.84 667.10,544.53 667.80,544.18 668.50,543.83 669.20,543.52 669.90,543.24 670.60,543.01 671.30,542.92 672.00,543.02 672.70,543.22 673.40,543.39 674.10,543.48 674.80,543.48 675.50,543.43 676.20,543.39 676.20,550.99 675.50,551.03 674.80,551.08 674.10,551.08 673.40,550.99 672.70,550.82 672.00,550.62 671.30,550.52 670.60,550.61 669.90,550.84 669.20,551.12 668.50,551.43 667.80,551.78 667.10,552.13 666.40,552.44 665.70,552.60 665.00,552.43 664.30,551.95 663.60,551.43 662.90,551.01 662.20,550.64 661.50,550.23 660.80,549.61 660.10,548.71 659.40,547.73 658.70,546.84 658.00,546.02 657.30,545.16 656.60,544.62 655.90,544.89 655.20,545.73 654.50,546.76 653.80,548.00 653.10,549.37 652.40,550.70 651.70,551.66 651.00,551.89 650.30,551.57 649.60,551.22 648.90,551.06 648.20,551.05 647.50,551.00 646.80,550.73 646.10,550.06 645.40,549.05 644.70,548.04 644.00,547.20 643.30,546.42 642.60,545.51 641.90,544.38 641.20,543.55 640.50,543.71 639.80,544.54 639.10,545.61 638.40,546.75 637.70,547.77 637.00,548.56 636.30,549.19 635.60,549.84 634.90,550.43 634.20,550.60 633.50,550.28 632.80,549.72 632.10,549.03 631.40,548.29 630.70,547.62 630.00,547.09 629.30,546.61 628.60,545.95 627.90,544.97 627.20,543.78 626.50,542.56 625.80,541.43 625.10,540.44 624.40,540.21 623.70,541.30 623.00,542.99 622.30,544.60 621.60,546.17 620.90,547.74 620.20,549.09 619.50,549.88 618.80,550.24 618.10,550.51 617.40,550.83 616.70,551.20 616.00,551.58 615.30,551.83 614.60,551.65 613.90,551.04 613.20,550.29 612.50,549.59 611.80,548.90 611.10,548.23 610.40,547.75 609.70,547.65 609.00,547.80 608.30,548.05 607.60,548.38 606.90,548.68 606.20,548.84 605.50,548.84 604.80,548.77 604.10,548.90 603.40,549.47 602.70,550.35 602.00,551.26 601.30,552.03 600.60,552.62 599.90,553.15 599.20,553.60 598.50,553.77 597.80,553.64 597.10,553.33 596.40,552.84 595.70,552.23 595.00,551.63 594.30,551.31 593.60,551.64 592.90,552.62 592.20,553.73 591.50,554.58 590.80,555.24 590.10,555.91 589.40,556.66 588.70,557.46 588.00,558.27 587.30,558.99 586.60,559.52 585.90,559.92 585.20,560.30 584.50,560.71 583.80,561.14 583.10,561.54 582.40,561.82 581.70,561.94 581.00,562.00 580.30,562.17 579.60,562.48 578.90,562.75 578.20,562.79 577.50,562.59 576.80,562.21 576.10,561.76 575.40,561.36 574.70,561.08 574.00,560.89 573.30,560.72 572.60,560.50 571.90,560.22 571.20,559.93 570.50,559.66 569.80,559.42 569.10,559.15 568.40,558.84 567.70,558.49 567.00,558.14 566.30,558.01 565.60,558.49 564.90,559.61 564.20,560.94 563.50,562.24 562.80,563.41 562.10,563.94 561.40,563.61 560.70,562.88 560.00,562.07 559.30,561.24 558.60,560.47 557.90,559.83 557.20,559.30 556.50,558.78 555.80,558.76 555.10,559.89 554.40,561.73 553.70,563.71 553.00,565.60 552.30,567.08 551.60,568.17 550.90,569.06 550.20,569.73 549.50,570.06 548.80,570.24 548.10,570.50 547.40,570.83 546.70,571.08 546.00,571.16 545.30,571.21 544.60,571.46 543.90,571.98 543.20,572.74 542.50,573.63 541.80,574.44 541.10,575.02 540.40,575.13 539.70,574.67 539.00,574.08 538.30,573.69 537.60,573.38 536.90,572.99 536.20,572.42 535.50,571.82 534.80,571.45 534.10,571.40 533.40,571.53 532.70,571.65 532.00,571.62 531.30,571.37 530.60,571.02 529.90,570.75 529.20,570.68 528.50,570.77 527.80,570.90 527.10,570.91 526.40,570.77 525.70,570.53 525.00,570.33 524.30,570.22 523.60,570.23 522.90,570.32 522.20,570.40 521.50,570.42 520.80,570.47 520.10,570.59 519.40,570.78 518.70,570.98 518.00,571.05 517.30,570.86 516.60,570.46 515.90,570.01 515.20,569.60 514.50,569.23 513.80,568.89 513.10,568.56 512.40,568.26 511.70,567.99 511.00,567.71 510.30,567.37 509.60,566.94 508.90,566.45 508.20,565.98 507.50,565.78 506.80,566.05 506.10,566.54 505.40,566.98 504.70,567.31 504.00,567.57 503.30,567.86 502.60,568.29 501.90,568.84 501.20,569.37 500.50,569.79 499.80,570.09 499.10,570.36 498.40,570.67" fill="#ff8080" stroke="none" stroke-width="0" fill-opacity="0.52"/>
<polyline points="498.40,567.28 499.10,567.40 499.80,567.47 500.50,567.50 501.20,567.53 501.90,567.61 502.60,567.74 503.30,567.84 504.00,567.82 504.70,567.71 505.40,567.58 506.10,567.44 506.80,567.31 507.50,567.26 508.20,567.37 508.90,567.55 509.60,567.78 510.30,568.08 511.00,568.42 511.70,568.76 512.40,569.05 513.10,569.27 513.80,569.46 514.50,569.77 515.20,570.27 515.90,570.91 516.60,571.53 517.30,571.97 518.00,572.09 518.70,571.79 519.40,571.15 520.10,570.59 520.80,570.26 521.50,569.96 522.20,569.49 522.90,568.76 523.60,568.04 524.30,567.70 525.00,567.75 525.70,568.01 526.40,568.34 527.10,568.57 527.80,568.62 528.50,568.53 529.20,568.30 529.90,567.79 530.60,567.12 531.30,566.42 532.00,565.66 532.70,564.83 533.40,564.09 534.10,563.83 534.80,564.11 535.50,564.58 536.20,565.01 536.90,565.37 537.60,565.70 538.30,566.09 539.00,566.57 539.70,567.10 540.40,567.62 541.10,567.65 541.80,566.80 542.50,565.53 543.20,564.31 543.90,563.19 544.60,562.13 545.30,561.08 546.00,559.99 546.70,559.11 547.40,558.82 548.10,558.99 548.80,559.27 549.50,559.41 550.20,559.07 550.90,558.21 551.60,557.19 552.30,556.15 553.00,555.02 553.70,553.77 554.40,552.43 555.10,551.21 555.80,550.79 556.50,551.63 557.20,553.04 557.90,554.37 558.60,555.47 559.30,556.38 560.00,557.26 560.70,558.29 561.40,559.58 562.10,560.79 562.80,561.39 563.50,561.37 564.20,561.03 564.90,560.61 565.60,560.30 566.30,560.20 567.00,560.25 567.70,560.30 568.40,560.20 569.10,559.93 569.80,559.60 570.50,559.34 571.20,559.21 571.90,559.14 572.60,559.03 573.30,558.83 574.00,558.56 574.70,558.33 575.40,558.19 576.10,558.13 576.80,558.05 577.50,557.90 578.20,557.77 578.90,557.70 579.60,557.74 580.30,557.92 581.00,558.19 581.70,558.40 582.40,558.48 583.10,558.51 583.80,558.72 584.50,559.13 585.20,559.33 585.90,559.10 586.60,558.66 587.30,558.15 588.00,557.53 588.70,556.84 589.40,556.30 590.10,556.14 590.80,556.21 591.50,556.35 592.20,556.55 592.90,556.76 593.60,556.91 594.30,556.95 595.00,556.91 595.70,556.87 596.40,556.94 597.10,557.18 597.80,557.56 598.50,557.96 599.20,558.22 599.90,558.29 600.60,558.15 601.30,557.77 602.00,557.20 602.70,556.67 603.40,556.22 604.10,555.68 604.80,554.94 605.50,554.04 606.20,553.42 606.90,553.51 607.60,554.07 608.30,554.69 609.00,555.24 609.70,555.66 610.40,555.98 611.10,556.32 611.80,556.78 612.50,557.33 613.20,557.87 613.90,558.17 614.60,558.02 615.30,557.55 616.00,557.10 616.70,556.78 617.40,556.51 618.10,556.14 618.80,555.60 619.50,554.99 620.20,554.63 620.90,554.71 621.60,555.09 622.30,555.53 623.00,555.87 623.70,556.02 624.40,556.02 625.10,556.33 625.80,557.44 626.50,559.04 627.20,560.75 627.90,562.43 628.60,563.99 629.30,565.04 630.00,565.12 630.70,564.53 631.40,563.88 632.10,563.31 632.80,562.81 633.50,562.33 634.20,561.84 634.90,561.36 635.60,560.89 636.30,560.40 637.00,559.92 637.70,559.53 638.40,559.32 639.10,559.56 639.80,560.35 640.50,561.28 641.20,562.05 641.90,562.75 642.60,563.52 643.30,564.45 644.00,565.18 644.70,565.18 645.40,564.61 646.10,563.84 646.80,562.97 647.50,562.15 648.20,561.46 648.90,560.87 649.60,560.28 650.30,559.60 651.00,558.81 651.70,558.02 652.40,557.31 653.10,556.76 653.80,556.48 654.50,556.43 655.20,556.38 655.90,556.28 656.60,556.26 657.30,556.41 658.00,556.69 658.70,556.95 659.40,557.04 660.10,556.92 660.80,556.85 661.50,557.19 662.20,557.93 662.90,558.89 663.60,559.85 664.30,560.64 665.00,561.21 665.70,561.64 666.40,562.00 667.10,562.15 667.80,562.03 668.50,561.81 669.20,561.51 669.90,561.05 670.60,560.46 671.30,559.85 672.00,559.38 672.70,559.54 673.40,560.64 674.10,562.16 674.80,563.67 675.50,565.12 676.20,566.53" fill="none" stroke="#0000ff" stroke-width="2.3" stroke-linejoin="round" stroke-linecap="round" />
<polyline points="498.40,566.87 499.10,566.56 499.80,566.29 500.50,565.99 501.20,565.57 501.90,565.04 502.60,564.49 503.30,564.06 504.00,563.77 504.70,563.51 505.40,563.18 506.10,562.74 506.80,562.25 507.50,561.98 508.20,562.18 508.90,562.65 509.60,563.14 510.30,563.57 511.00,563.91 511.70,564.19 512.40,564.46 513.10,564.76 513.80,565.09 514.50,565.43 515.20,565.80 515.90,566.21 516.60,566.66 517.30,567.06 518.00,567.25 518.70,567.18 519.40,566.98 520.10,566.79 520.80,566.67 521.50,566.62 522.20,566.60 522.90,566.52 523.60,566.43 524.30,566.42 525.00,566.53 525.70,566.73 526.40,566.97 527.10,567.11 527.80,567.10 528.50,566.97 529.20,566.88 529.90,566.95 530.60,567.22 531.30,567.57 532.00,567.82 532.70,567.85 533.40,567.73 534.10,567.60 534.80,567.65 535.50,568.02 536.20,568.62 536.90,569.19 537.60,569.58 538.30,569.89 539.00,570.28 539.70,570.87 540.40,571.33 541.10,571.22 541.80,570.64 542.50,569.83 543.20,568.94 543.90,568.18 544.60,567.66 545.30,567.41 546.00,567.36 546.70,567.28 547.40,567.03 548.10,566.70 548.80,566.44 549.50,566.26 550.20,565.93 550.90,565.26 551.60,564.37 552.30,563.28 553.00,561.80 553.70,559.91 554.40,557.93 555.10,556.09 555.80,554.96 556.50,554.98 557.20,555.50 557.90,556.03 558.60,556.67 559.30,557.44 560.00,558.27 560.70,559.08 561.40,559.81 562.10,560.14 562.80,559.61 563.50,558.44 564.20,557.14 564.90,555.81 565.60,554.69 566.30,554.21 567.00,554.34 567.70,554.69 568.40,555.04 569.10,555.35 569.80,555.62 570.50,555.86 571.20,556.13 571.90,556.42 572.60,556.70 573.30,556.92 574.00,557.09 574.70,557.28 575.40,557.56 576.10,557.96 576.80,558.41 577.50,558.79 578.20,558.99 578.90,558.95 579.60,558.68 580.30,558.37 581.00,558.20 581.70,558.14 582.40,558.02 583.10,557.74 583.80,557.34 584.50,556.91 585.20,556.50 585.90,556.12 586.60,555.72 587.30,555.19 588.00,554.47 588.70,553.66 589.40,552.86 590.10,552.11 590.80,551.44 591.50,550.78 592.20,549.93 592.90,548.82 593.60,547.84 594.30,547.51 595.00,547.83 595.70,548.43 596.40,549.04 597.10,549.53 597.80,549.84 598.50,549.97 599.20,549.80 599.90,549.35 600.60,548.82 601.30,548.23 602.00,547.46 602.70,546.55 603.40,545.67 604.10,545.10 604.80,544.97 605.50,545.04 606.20,545.04 606.90,544.88 607.60,544.58 608.30,544.25 609.00,544.00 609.70,543.85 610.40,543.95 611.10,544.43 611.80,545.10 612.50,545.79 613.20,546.49 613.90,547.24 614.60,547.85 615.30,548.03 616.00,547.78 616.70,547.40 617.40,547.03 618.10,546.71 618.80,546.44 619.50,546.08 620.20,545.29 620.90,543.94 621.60,542.37 622.30,540.80 623.00,539.19 623.70,537.50 624.40,536.41 625.10,536.64 625.80,537.63 626.50,538.76 627.20,539.98 627.90,541.17 628.60,542.15 629.30,542.81 630.00,543.29 630.70,543.82 631.40,544.49 632.10,545.23 632.80,545.92 633.50,546.48 634.20,546.80 634.90,546.63 635.60,546.04 636.30,545.39 637.00,544.76 637.70,543.97 638.40,542.95 639.10,541.81 639.80,540.74 640.50,539.91 641.20,539.75 641.90,540.58 642.60,541.71 643.30,542.62 644.00,543.40 644.70,544.24 645.40,545.25 646.10,546.26 646.80,546.93 647.50,547.20 648.20,547.25 648.90,547.26 649.60,547.42 650.30,547.77 651.00,548.09 651.70,547.86 652.40,546.90 653.10,545.57 653.80,544.20 654.50,542.96 655.20,541.93 655.90,541.09 656.60,540.82 657.30,541.36 658.00,542.22 658.70,543.04 659.40,543.93 660.10,544.91 660.80,545.81 661.50,546.43 662.20,546.84 662.90,547.21 663.60,547.63 664.30,548.15 665.00,548.63 665.70,548.80 666.40,548.64 667.10,548.33 667.80,547.98 668.50,547.63 669.20,547.32 669.90,547.04 670.60,546.81 671.30,546.72 672.00,546.82 672.70,547.02 673.40,547.19 674.10,547.28 674.80,547.28 675.50,547.23 676.20,547.19" fill="none" stroke="#ff0000" stroke-width="2.3" stroke-linejoin="round" stroke-linecap="round" />
<path d="M489.6,373.6 L489.6,576.2 L680,576.2" fill="none" stroke="#8a8a8a" stroke-width="1"/>
<line x1="486.2" y1="373.6" x2="489.6" y2="373.6" stroke="#555" stroke-width="0.9"/>
<line x1="486.2" y1="400.9" x2="489.6" y2="400.9" stroke="#8a8a8a" stroke-width="0.9"/>
<text x="481.40" y="404.00" font-size="8.6" fill="#231f20" text-anchor="end" >23</text>
<line x1="486.2" y1="428" x2="489.6" y2="428" stroke="#8a8a8a" stroke-width="0.9"/>
<text x="481.40" y="431.10" font-size="8.6" fill="#231f20" text-anchor="end" >22</text>
<line x1="486.2" y1="454.8" x2="489.6" y2="454.8" stroke="#8a8a8a" stroke-width="0.9"/>
<text x="481.40" y="457.90" font-size="8.6" fill="#231f20" text-anchor="end" >16</text>
<line x1="486.2" y1="482" x2="489.6" y2="482" stroke="#8a8a8a" stroke-width="0.9"/>
<text x="481.40" y="485.10" font-size="8.6" fill="#231f20" text-anchor="end" >8</text>
<line x1="486.2" y1="508.9" x2="489.6" y2="508.9" stroke="#8a8a8a" stroke-width="0.9"/>
<text x="481.40" y="512.00" font-size="8.6" fill="#231f20" text-anchor="end" >4</text>
<line x1="486.2" y1="535.9" x2="489.6" y2="535.9" stroke="#8a8a8a" stroke-width="0.9"/>
<text x="481.40" y="539.00" font-size="8.6" fill="#231f20" text-anchor="end" >2</text>
<line x1="486.2" y1="562.9" x2="489.6" y2="562.9" stroke="#8a8a8a" stroke-width="0.9"/>
<text x="481.40" y="566.00" font-size="8.6" fill="#231f20" text-anchor="end" >1</text>
<line x1="498.50" y1="576.2" x2="498.50" y2="579.6" stroke="#8a8a8a" stroke-width="0.9"/>
<text x="498.50" y="590.60" font-size="9" fill="#231f20" text-anchor="middle" >0</text>
<line x1="543.20" y1="576.2" x2="543.20" y2="579.6" stroke="#8a8a8a" stroke-width="0.9"/>
<text x="543.20" y="590.60" font-size="9" fill="#231f20" text-anchor="middle" >50</text>
<line x1="587.90" y1="576.2" x2="587.90" y2="579.6" stroke="#8a8a8a" stroke-width="0.9"/>
<text x="587.90" y="590.60" font-size="9" fill="#231f20" text-anchor="middle" >100</text>
<line x1="632.60" y1="576.2" x2="632.60" y2="579.6" stroke="#8a8a8a" stroke-width="0.9"/>
<text x="632.60" y="590.60" font-size="9" fill="#231f20" text-anchor="middle" >150</text>
<line x1="677.30" y1="576.2" x2="677.30" y2="579.6" stroke="#8a8a8a" stroke-width="0.9"/>
<text x="677.30" y="590.60" font-size="9" fill="#231f20" text-anchor="middle" >200</text>
<text x="563.40" y="606.00" font-size="9.6" fill="#231f20" textLength="47.60" lengthAdjust="spacingAndGlyphs" >Time (ms)</text>
<text x="461.60" y="568.70" font-size="9.6" fill="#231f20" textLength="183.10" lengthAdjust="spacingAndGlyphs" transform="rotate(-90 461.60 568.70)" >Mean activity per block (events per s)</text>
</svg></body></html>
